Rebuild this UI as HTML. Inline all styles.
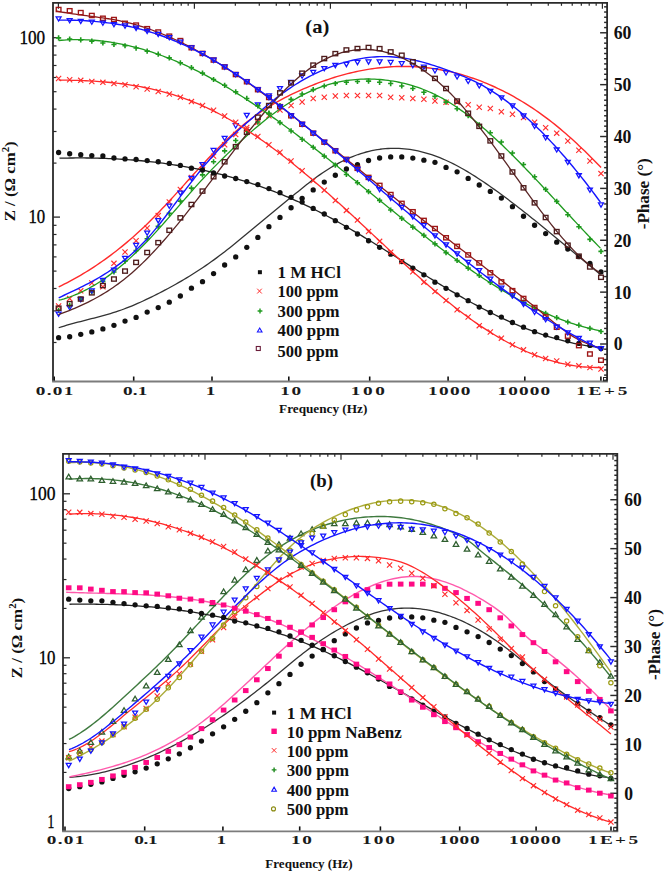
<!DOCTYPE html>
<html><head><meta charset="utf-8"><style>
html,body{margin:0;padding:0;background:#fff;width:666px;height:874px;overflow:hidden;font-family:"Liberation Serif", serif;}
</style></head><body>
<svg width="666" height="874" viewBox="0 0 666 874" style="position:absolute;left:0;top:0">
<rect width="666" height="874" fill="#fff"/>
<g font-family='"Liberation Serif", serif'>
<line x1="53" y1="217.1" x2="60" y2="217.1" stroke="#2a2a2a" stroke-width="1.3"/>
<line x1="53" y1="37.7" x2="60" y2="37.7" stroke="#2a2a2a" stroke-width="1.3"/>
<line x1="53" y1="342.5" x2="56.5" y2="342.5" stroke="#2a2a2a" stroke-width="1.2"/>
<line x1="53" y1="310.9" x2="56.5" y2="310.9" stroke="#2a2a2a" stroke-width="1.2"/>
<line x1="53" y1="288.49" x2="56.5" y2="288.49" stroke="#2a2a2a" stroke-width="1.2"/>
<line x1="53" y1="271.1" x2="56.5" y2="271.1" stroke="#2a2a2a" stroke-width="1.2"/>
<line x1="53" y1="256.9" x2="56.5" y2="256.9" stroke="#2a2a2a" stroke-width="1.2"/>
<line x1="53" y1="244.89" x2="56.5" y2="244.89" stroke="#2a2a2a" stroke-width="1.2"/>
<line x1="53" y1="234.49" x2="56.5" y2="234.49" stroke="#2a2a2a" stroke-width="1.2"/>
<line x1="53" y1="225.31" x2="56.5" y2="225.31" stroke="#2a2a2a" stroke-width="1.2"/>
<line x1="53" y1="163.1" x2="56.5" y2="163.1" stroke="#2a2a2a" stroke-width="1.2"/>
<line x1="53" y1="131.5" x2="56.5" y2="131.5" stroke="#2a2a2a" stroke-width="1.2"/>
<line x1="53" y1="109.09" x2="56.5" y2="109.09" stroke="#2a2a2a" stroke-width="1.2"/>
<line x1="53" y1="91.7" x2="56.5" y2="91.7" stroke="#2a2a2a" stroke-width="1.2"/>
<line x1="53" y1="77.5" x2="56.5" y2="77.5" stroke="#2a2a2a" stroke-width="1.2"/>
<line x1="53" y1="65.49" x2="56.5" y2="65.49" stroke="#2a2a2a" stroke-width="1.2"/>
<line x1="53" y1="55.09" x2="56.5" y2="55.09" stroke="#2a2a2a" stroke-width="1.2"/>
<line x1="53" y1="45.91" x2="56.5" y2="45.91" stroke="#2a2a2a" stroke-width="1.2"/>
<line x1="604.1" y1="380.31" x2="607.1" y2="380.31" stroke="#2a2a2a" stroke-width="1.45"/>
<line x1="604.1" y1="375.12" x2="607.1" y2="375.12" stroke="#2a2a2a" stroke-width="1.45"/>
<line x1="604.1" y1="369.94" x2="607.1" y2="369.94" stroke="#2a2a2a" stroke-width="1.45"/>
<line x1="604.1" y1="364.75" x2="607.1" y2="364.75" stroke="#2a2a2a" stroke-width="1.45"/>
<line x1="604.1" y1="359.56" x2="607.1" y2="359.56" stroke="#2a2a2a" stroke-width="1.45"/>
<line x1="604.1" y1="354.37" x2="607.1" y2="354.37" stroke="#2a2a2a" stroke-width="1.45"/>
<line x1="604.1" y1="349.19" x2="607.1" y2="349.19" stroke="#2a2a2a" stroke-width="1.45"/>
<line x1="600.1" y1="344" x2="607.1" y2="344" stroke="#2a2a2a" stroke-width="1.45"/>
<line x1="604.1" y1="338.81" x2="607.1" y2="338.81" stroke="#2a2a2a" stroke-width="1.45"/>
<line x1="604.1" y1="333.63" x2="607.1" y2="333.63" stroke="#2a2a2a" stroke-width="1.45"/>
<line x1="604.1" y1="328.44" x2="607.1" y2="328.44" stroke="#2a2a2a" stroke-width="1.45"/>
<line x1="604.1" y1="323.25" x2="607.1" y2="323.25" stroke="#2a2a2a" stroke-width="1.45"/>
<line x1="604.1" y1="318.06" x2="607.1" y2="318.06" stroke="#2a2a2a" stroke-width="1.45"/>
<line x1="604.1" y1="312.88" x2="607.1" y2="312.88" stroke="#2a2a2a" stroke-width="1.45"/>
<line x1="604.1" y1="307.69" x2="607.1" y2="307.69" stroke="#2a2a2a" stroke-width="1.45"/>
<line x1="604.1" y1="302.5" x2="607.1" y2="302.5" stroke="#2a2a2a" stroke-width="1.45"/>
<line x1="604.1" y1="297.32" x2="607.1" y2="297.32" stroke="#2a2a2a" stroke-width="1.45"/>
<line x1="600.1" y1="292.13" x2="607.1" y2="292.13" stroke="#2a2a2a" stroke-width="1.45"/>
<line x1="604.1" y1="286.94" x2="607.1" y2="286.94" stroke="#2a2a2a" stroke-width="1.45"/>
<line x1="604.1" y1="281.76" x2="607.1" y2="281.76" stroke="#2a2a2a" stroke-width="1.45"/>
<line x1="604.1" y1="276.57" x2="607.1" y2="276.57" stroke="#2a2a2a" stroke-width="1.45"/>
<line x1="604.1" y1="271.38" x2="607.1" y2="271.38" stroke="#2a2a2a" stroke-width="1.45"/>
<line x1="604.1" y1="266.19" x2="607.1" y2="266.19" stroke="#2a2a2a" stroke-width="1.45"/>
<line x1="604.1" y1="261.01" x2="607.1" y2="261.01" stroke="#2a2a2a" stroke-width="1.45"/>
<line x1="604.1" y1="255.82" x2="607.1" y2="255.82" stroke="#2a2a2a" stroke-width="1.45"/>
<line x1="604.1" y1="250.63" x2="607.1" y2="250.63" stroke="#2a2a2a" stroke-width="1.45"/>
<line x1="604.1" y1="245.45" x2="607.1" y2="245.45" stroke="#2a2a2a" stroke-width="1.45"/>
<line x1="600.1" y1="240.26" x2="607.1" y2="240.26" stroke="#2a2a2a" stroke-width="1.45"/>
<line x1="604.1" y1="235.07" x2="607.1" y2="235.07" stroke="#2a2a2a" stroke-width="1.45"/>
<line x1="604.1" y1="229.89" x2="607.1" y2="229.89" stroke="#2a2a2a" stroke-width="1.45"/>
<line x1="604.1" y1="224.7" x2="607.1" y2="224.7" stroke="#2a2a2a" stroke-width="1.45"/>
<line x1="604.1" y1="219.51" x2="607.1" y2="219.51" stroke="#2a2a2a" stroke-width="1.45"/>
<line x1="604.1" y1="214.32" x2="607.1" y2="214.32" stroke="#2a2a2a" stroke-width="1.45"/>
<line x1="604.1" y1="209.14" x2="607.1" y2="209.14" stroke="#2a2a2a" stroke-width="1.45"/>
<line x1="604.1" y1="203.95" x2="607.1" y2="203.95" stroke="#2a2a2a" stroke-width="1.45"/>
<line x1="604.1" y1="198.76" x2="607.1" y2="198.76" stroke="#2a2a2a" stroke-width="1.45"/>
<line x1="604.1" y1="193.58" x2="607.1" y2="193.58" stroke="#2a2a2a" stroke-width="1.45"/>
<line x1="600.1" y1="188.39" x2="607.1" y2="188.39" stroke="#2a2a2a" stroke-width="1.45"/>
<line x1="604.1" y1="183.2" x2="607.1" y2="183.2" stroke="#2a2a2a" stroke-width="1.45"/>
<line x1="604.1" y1="178.02" x2="607.1" y2="178.02" stroke="#2a2a2a" stroke-width="1.45"/>
<line x1="604.1" y1="172.83" x2="607.1" y2="172.83" stroke="#2a2a2a" stroke-width="1.45"/>
<line x1="604.1" y1="167.64" x2="607.1" y2="167.64" stroke="#2a2a2a" stroke-width="1.45"/>
<line x1="604.1" y1="162.45" x2="607.1" y2="162.45" stroke="#2a2a2a" stroke-width="1.45"/>
<line x1="604.1" y1="157.27" x2="607.1" y2="157.27" stroke="#2a2a2a" stroke-width="1.45"/>
<line x1="604.1" y1="152.08" x2="607.1" y2="152.08" stroke="#2a2a2a" stroke-width="1.45"/>
<line x1="604.1" y1="146.89" x2="607.1" y2="146.89" stroke="#2a2a2a" stroke-width="1.45"/>
<line x1="604.1" y1="141.71" x2="607.1" y2="141.71" stroke="#2a2a2a" stroke-width="1.45"/>
<line x1="600.1" y1="136.52" x2="607.1" y2="136.52" stroke="#2a2a2a" stroke-width="1.45"/>
<line x1="604.1" y1="131.33" x2="607.1" y2="131.33" stroke="#2a2a2a" stroke-width="1.45"/>
<line x1="604.1" y1="126.15" x2="607.1" y2="126.15" stroke="#2a2a2a" stroke-width="1.45"/>
<line x1="604.1" y1="120.96" x2="607.1" y2="120.96" stroke="#2a2a2a" stroke-width="1.45"/>
<line x1="604.1" y1="115.77" x2="607.1" y2="115.77" stroke="#2a2a2a" stroke-width="1.45"/>
<line x1="604.1" y1="110.58" x2="607.1" y2="110.58" stroke="#2a2a2a" stroke-width="1.45"/>
<line x1="604.1" y1="105.4" x2="607.1" y2="105.4" stroke="#2a2a2a" stroke-width="1.45"/>
<line x1="604.1" y1="100.21" x2="607.1" y2="100.21" stroke="#2a2a2a" stroke-width="1.45"/>
<line x1="604.1" y1="95.02" x2="607.1" y2="95.02" stroke="#2a2a2a" stroke-width="1.45"/>
<line x1="604.1" y1="89.84" x2="607.1" y2="89.84" stroke="#2a2a2a" stroke-width="1.45"/>
<line x1="600.1" y1="84.65" x2="607.1" y2="84.65" stroke="#2a2a2a" stroke-width="1.45"/>
<line x1="604.1" y1="79.46" x2="607.1" y2="79.46" stroke="#2a2a2a" stroke-width="1.45"/>
<line x1="604.1" y1="74.28" x2="607.1" y2="74.28" stroke="#2a2a2a" stroke-width="1.45"/>
<line x1="604.1" y1="69.09" x2="607.1" y2="69.09" stroke="#2a2a2a" stroke-width="1.45"/>
<line x1="604.1" y1="63.9" x2="607.1" y2="63.9" stroke="#2a2a2a" stroke-width="1.45"/>
<line x1="604.1" y1="58.71" x2="607.1" y2="58.71" stroke="#2a2a2a" stroke-width="1.45"/>
<line x1="604.1" y1="53.53" x2="607.1" y2="53.53" stroke="#2a2a2a" stroke-width="1.45"/>
<line x1="604.1" y1="48.34" x2="607.1" y2="48.34" stroke="#2a2a2a" stroke-width="1.45"/>
<line x1="604.1" y1="43.15" x2="607.1" y2="43.15" stroke="#2a2a2a" stroke-width="1.45"/>
<line x1="604.1" y1="37.97" x2="607.1" y2="37.97" stroke="#2a2a2a" stroke-width="1.45"/>
<line x1="600.1" y1="32.78" x2="607.1" y2="32.78" stroke="#2a2a2a" stroke-width="1.45"/>
<line x1="604.1" y1="27.59" x2="607.1" y2="27.59" stroke="#2a2a2a" stroke-width="1.45"/>
<line x1="604.1" y1="22.41" x2="607.1" y2="22.41" stroke="#2a2a2a" stroke-width="1.45"/>
<line x1="604.1" y1="17.22" x2="607.1" y2="17.22" stroke="#2a2a2a" stroke-width="1.45"/>
<line x1="604.1" y1="12.03" x2="607.1" y2="12.03" stroke="#2a2a2a" stroke-width="1.45"/>
<line x1="604.1" y1="6.84" x2="607.1" y2="6.84" stroke="#2a2a2a" stroke-width="1.45"/>
<line x1="54.2" y1="381" x2="54.2" y2="376.5" stroke="#111" stroke-width="1.6"/>
<line x1="133.7" y1="381" x2="133.7" y2="376.5" stroke="#111" stroke-width="1.6"/>
<line x1="212" y1="381" x2="212" y2="376.5" stroke="#111" stroke-width="1.6"/>
<line x1="288.8" y1="381" x2="288.8" y2="376.5" stroke="#111" stroke-width="1.6"/>
<line x1="369.7" y1="381" x2="369.7" y2="376.5" stroke="#111" stroke-width="1.6"/>
<line x1="448.1" y1="381" x2="448.1" y2="376.5" stroke="#111" stroke-width="1.6"/>
<line x1="524.8" y1="381" x2="524.8" y2="376.5" stroke="#111" stroke-width="1.6"/>
<line x1="600.9" y1="381" x2="600.9" y2="376.5" stroke="#111" stroke-width="1.6"/>
<line x1="58.4" y1="2.8" x2="58.4" y2="8.8" stroke="#2a2a2a" stroke-width="1.2"/>
<line x1="99.34" y1="2.8" x2="99.34" y2="5.8" stroke="#2a2a2a" stroke-width="1.2"/>
<line x1="123.29" y1="2.8" x2="123.29" y2="5.8" stroke="#2a2a2a" stroke-width="1.2"/>
<line x1="140.28" y1="2.8" x2="140.28" y2="5.8" stroke="#2a2a2a" stroke-width="1.2"/>
<line x1="153.46" y1="2.8" x2="153.46" y2="5.8" stroke="#2a2a2a" stroke-width="1.2"/>
<line x1="164.23" y1="2.8" x2="164.23" y2="5.8" stroke="#2a2a2a" stroke-width="1.2"/>
<line x1="173.33" y1="2.8" x2="173.33" y2="5.8" stroke="#2a2a2a" stroke-width="1.2"/>
<line x1="181.22" y1="2.8" x2="181.22" y2="5.8" stroke="#2a2a2a" stroke-width="1.2"/>
<line x1="188.18" y1="2.8" x2="188.18" y2="5.8" stroke="#2a2a2a" stroke-width="1.2"/>
<line x1="194.4" y1="2.8" x2="194.4" y2="8.8" stroke="#2a2a2a" stroke-width="1.2"/>
<line x1="235.34" y1="2.8" x2="235.34" y2="5.8" stroke="#2a2a2a" stroke-width="1.2"/>
<line x1="259.29" y1="2.8" x2="259.29" y2="5.8" stroke="#2a2a2a" stroke-width="1.2"/>
<line x1="276.28" y1="2.8" x2="276.28" y2="5.8" stroke="#2a2a2a" stroke-width="1.2"/>
<line x1="289.46" y1="2.8" x2="289.46" y2="5.8" stroke="#2a2a2a" stroke-width="1.2"/>
<line x1="300.23" y1="2.8" x2="300.23" y2="5.8" stroke="#2a2a2a" stroke-width="1.2"/>
<line x1="309.33" y1="2.8" x2="309.33" y2="5.8" stroke="#2a2a2a" stroke-width="1.2"/>
<line x1="317.22" y1="2.8" x2="317.22" y2="5.8" stroke="#2a2a2a" stroke-width="1.2"/>
<line x1="324.18" y1="2.8" x2="324.18" y2="5.8" stroke="#2a2a2a" stroke-width="1.2"/>
<line x1="330.4" y1="2.8" x2="330.4" y2="8.8" stroke="#2a2a2a" stroke-width="1.2"/>
<line x1="371.34" y1="2.8" x2="371.34" y2="5.8" stroke="#2a2a2a" stroke-width="1.2"/>
<line x1="395.29" y1="2.8" x2="395.29" y2="5.8" stroke="#2a2a2a" stroke-width="1.2"/>
<line x1="412.28" y1="2.8" x2="412.28" y2="5.8" stroke="#2a2a2a" stroke-width="1.2"/>
<line x1="425.46" y1="2.8" x2="425.46" y2="5.8" stroke="#2a2a2a" stroke-width="1.2"/>
<line x1="436.23" y1="2.8" x2="436.23" y2="5.8" stroke="#2a2a2a" stroke-width="1.2"/>
<line x1="445.33" y1="2.8" x2="445.33" y2="5.8" stroke="#2a2a2a" stroke-width="1.2"/>
<line x1="453.22" y1="2.8" x2="453.22" y2="5.8" stroke="#2a2a2a" stroke-width="1.2"/>
<line x1="460.18" y1="2.8" x2="460.18" y2="5.8" stroke="#2a2a2a" stroke-width="1.2"/>
<line x1="466.4" y1="2.8" x2="466.4" y2="8.8" stroke="#2a2a2a" stroke-width="1.2"/>
<line x1="507.34" y1="2.8" x2="507.34" y2="5.8" stroke="#2a2a2a" stroke-width="1.2"/>
<line x1="531.29" y1="2.8" x2="531.29" y2="5.8" stroke="#2a2a2a" stroke-width="1.2"/>
<line x1="548.28" y1="2.8" x2="548.28" y2="5.8" stroke="#2a2a2a" stroke-width="1.2"/>
<line x1="561.46" y1="2.8" x2="561.46" y2="5.8" stroke="#2a2a2a" stroke-width="1.2"/>
<line x1="572.23" y1="2.8" x2="572.23" y2="5.8" stroke="#2a2a2a" stroke-width="1.2"/>
<line x1="581.33" y1="2.8" x2="581.33" y2="5.8" stroke="#2a2a2a" stroke-width="1.2"/>
<line x1="589.22" y1="2.8" x2="589.22" y2="5.8" stroke="#2a2a2a" stroke-width="1.2"/>
<line x1="596.18" y1="2.8" x2="596.18" y2="5.8" stroke="#2a2a2a" stroke-width="1.2"/>
<line x1="602.4" y1="2.8" x2="602.4" y2="8.8" stroke="#2a2a2a" stroke-width="1.2"/>
<path d="M53,381.5 L53,2.8 L607.1,2.8 L607.1,381.5" fill="none" stroke="#2a2a2a" stroke-width="1.8"/>
<line x1="52.1" y1="381.5" x2="608" y2="381.5" stroke="#7c7c7c" stroke-width="1.8"/>
<rect x="603.5" y="377.5" width="3.4" height="3.4" fill="none" stroke="#222" stroke-width="1"/>
<path d="M58.7,327.75 L61.42,326.87 L64.14,326.03 L66.87,325.23 L69.59,324.44 L72.31,323.68 L75.03,322.95 L77.75,322.22 L80.48,321.51 L83.2,320.81 L85.92,320.11 L88.64,319.42 L91.37,318.73 L94.09,318.03 L96.81,317.32 L99.53,316.6 L102.25,315.86 L104.98,315.11 L107.7,314.33 L110.42,313.53 L113.14,312.7 L115.86,311.84 L118.59,310.94 L121.31,310 L124.03,309.01 L126.75,307.98 L129.47,306.91 L132.2,305.79 L134.92,304.64 L137.64,303.44 L140.36,302.22 L143.09,300.97 L145.81,299.69 L148.53,298.38 L151.25,297.06 L153.97,295.72 L156.7,294.36 L159.42,292.98 L162.14,291.57 L164.86,290.15 L167.58,288.7 L170.31,287.23 L173.03,285.74 L175.75,284.22 L178.47,282.67 L181.19,281.1 L183.92,279.5 L186.64,277.87 L189.36,276.21 L192.08,274.52 L194.81,272.81 L197.53,271.06 L200.25,269.27 L202.97,267.46 L205.69,265.61 L208.42,263.73 L211.14,261.81 L213.86,259.86 L216.58,257.86 L219.3,255.84 L222.03,253.77 L224.75,251.68 L227.47,249.56 L230.19,247.41 L232.92,245.23 L235.64,243.04 L238.36,240.82 L241.08,238.59 L243.8,236.35 L246.53,234.1 L249.25,231.84 L251.97,229.57 L254.69,227.3 L257.41,225.03 L260.14,222.76 L262.86,220.5 L265.58,218.24 L268.3,215.99 L271.02,213.74 L273.75,211.49 L276.47,209.25 L279.19,207.01 L281.91,204.77 L284.64,202.54 L287.36,200.3 L290.08,198.07 L292.8,195.84 L295.52,193.61 L298.25,191.39 L300.97,189.18 L303.69,186.99 L306.41,184.83 L309.13,182.7 L311.86,180.61 L314.58,178.56 L317.3,176.57 L320.02,174.62 L322.74,172.74 L325.47,170.93 L328.19,169.18 L330.91,167.5 L333.63,165.89 L336.36,164.35 L339.08,162.87 L341.8,161.47 L344.52,160.13 L347.24,158.87 L349.97,157.67 L352.69,156.55 L355.41,155.49 L358.13,154.51 L360.85,153.6 L363.58,152.76 L366.3,152 L369.02,151.3 L371.74,150.69 L374.46,150.14 L377.19,149.67 L379.91,149.27 L382.63,148.94 L385.35,148.68 L388.08,148.49 L390.8,148.38 L393.52,148.33 L396.24,148.35 L398.96,148.44 L401.69,148.6 L404.41,148.83 L407.13,149.12 L409.85,149.48 L412.57,149.91 L415.3,150.4 L418.02,150.96 L420.74,151.58 L423.46,152.27 L426.18,153.02 L428.91,153.83 L431.63,154.7 L434.35,155.64 L437.07,156.64 L439.8,157.7 L442.52,158.82 L445.24,160 L447.96,161.23 L450.68,162.53 L453.41,163.88 L456.13,165.28 L458.85,166.74 L461.57,168.24 L464.29,169.79 L467.02,171.39 L469.74,173.03 L472.46,174.71 L475.18,176.42 L477.91,178.18 L480.63,179.97 L483.35,181.79 L486.07,183.64 L488.79,185.52 L491.52,187.43 L494.24,189.36 L496.96,191.32 L499.68,193.3 L502.4,195.29 L505.13,197.31 L507.85,199.35 L510.57,201.4 L513.29,203.48 L516.01,205.57 L518.74,207.67 L521.46,209.79 L524.18,211.93 L526.9,214.08 L529.63,216.24 L532.35,218.42 L535.07,220.6 L537.79,222.8 L540.51,225 L543.24,227.22 L545.96,229.44 L548.68,231.67 L551.4,233.91 L554.12,236.15 L556.85,238.4 L559.57,240.66 L562.29,242.91 L565.01,245.17 L567.73,247.43 L570.46,249.69 L573.18,251.96 L575.9,254.22 L578.62,256.48 L581.35,258.74 L584.07,261 L586.79,263.25 L589.51,265.5 L592.23,267.74 L594.96,269.98 L597.68,272.21 L600.4,274.43" fill="none" stroke="#333" stroke-width="1.3" stroke-linejoin="round" />
<circle cx="58.6" cy="337.7" r="2.65" fill="#111"/>
<circle cx="69.67" cy="336.73" r="2.65" fill="#111"/>
<circle cx="80.74" cy="334.3" r="2.65" fill="#111"/>
<circle cx="91.81" cy="331.93" r="2.65" fill="#111"/>
<circle cx="102.88" cy="328.97" r="2.65" fill="#111"/>
<circle cx="113.95" cy="325.32" r="2.65" fill="#111"/>
<circle cx="125.02" cy="321.11" r="2.65" fill="#111"/>
<circle cx="136.09" cy="317.44" r="2.65" fill="#111"/>
<circle cx="147.16" cy="312.07" r="2.65" fill="#111"/>
<circle cx="158.22" cy="307.57" r="2.65" fill="#111"/>
<circle cx="169.29" cy="302.2" r="2.65" fill="#111"/>
<circle cx="180.36" cy="295.99" r="2.65" fill="#111"/>
<circle cx="191.43" cy="288.22" r="2.65" fill="#111"/>
<circle cx="202.5" cy="281.7" r="2.65" fill="#111"/>
<circle cx="213.57" cy="273.59" r="2.65" fill="#111"/>
<circle cx="224.64" cy="264.98" r="2.65" fill="#111"/>
<circle cx="235.71" cy="256.95" r="2.65" fill="#111"/>
<circle cx="246.78" cy="247.34" r="2.65" fill="#111"/>
<circle cx="257.85" cy="237.47" r="2.65" fill="#111"/>
<circle cx="268.92" cy="226.68" r="2.65" fill="#111"/>
<circle cx="279.99" cy="217.46" r="2.65" fill="#111"/>
<circle cx="291.06" cy="207.75" r="2.65" fill="#111"/>
<circle cx="302.13" cy="198.29" r="2.65" fill="#111"/>
<circle cx="313.2" cy="189.95" r="2.65" fill="#111"/>
<circle cx="324.27" cy="182.11" r="2.65" fill="#111"/>
<circle cx="335.33" cy="175.25" r="2.65" fill="#111"/>
<circle cx="346.4" cy="168.99" r="2.65" fill="#111"/>
<circle cx="357.47" cy="164.53" r="2.65" fill="#111"/>
<circle cx="368.54" cy="160.49" r="2.65" fill="#111"/>
<circle cx="379.61" cy="157.99" r="2.65" fill="#111"/>
<circle cx="390.68" cy="156.95" r="2.65" fill="#111"/>
<circle cx="401.75" cy="156.9" r="2.65" fill="#111"/>
<circle cx="412.82" cy="158.11" r="2.65" fill="#111"/>
<circle cx="423.89" cy="160.22" r="2.65" fill="#111"/>
<circle cx="434.96" cy="162.34" r="2.65" fill="#111"/>
<circle cx="446.03" cy="167.41" r="2.65" fill="#111"/>
<circle cx="457.1" cy="171.86" r="2.65" fill="#111"/>
<circle cx="468.17" cy="178.4" r="2.65" fill="#111"/>
<circle cx="479.24" cy="185.02" r="2.65" fill="#111"/>
<circle cx="490.31" cy="191.46" r="2.65" fill="#111"/>
<circle cx="501.38" cy="198.07" r="2.65" fill="#111"/>
<circle cx="512.44" cy="206.63" r="2.65" fill="#111"/>
<circle cx="523.51" cy="216.27" r="2.65" fill="#111"/>
<circle cx="534.58" cy="225.26" r="2.65" fill="#111"/>
<circle cx="545.65" cy="233.6" r="2.65" fill="#111"/>
<circle cx="556.72" cy="242.14" r="2.65" fill="#111"/>
<circle cx="567.79" cy="249.09" r="2.65" fill="#111"/>
<circle cx="578.86" cy="256.7" r="2.65" fill="#111"/>
<circle cx="589.93" cy="263.34" r="2.65" fill="#111"/>
<circle cx="601" cy="271.9" r="2.65" fill="#111"/>
<path d="M58.7,286.89 L61.43,285.56 L64.15,284.2 L66.88,282.8 L69.6,281.36 L72.33,279.89 L75.05,278.39 L77.78,276.84 L80.51,275.27 L83.23,273.65 L85.96,272 L88.68,270.3 L91.41,268.57 L94.13,266.81 L96.86,265 L99.58,263.15 L102.31,261.26 L105.04,259.33 L107.76,257.36 L110.49,255.34 L113.21,253.29 L115.94,251.19 L118.66,249.05 L121.39,246.86 L124.12,244.63 L126.84,242.36 L129.57,240.04 L132.29,237.67 L135.02,235.26 L137.74,232.8 L140.47,230.3 L143.19,227.75 L145.92,225.14 L148.65,222.5 L151.37,219.8 L154.1,217.05 L156.82,214.27 L159.55,211.44 L162.27,208.58 L165,205.68 L167.73,202.76 L170.45,199.82 L173.18,196.85 L175.9,193.87 L178.63,190.87 L181.35,187.86 L184.08,184.85 L186.8,181.84 L189.53,178.83 L192.26,175.83 L194.98,172.83 L197.71,169.85 L200.43,166.88 L203.16,163.93 L205.88,161 L208.61,158.1 L211.34,155.23 L214.06,152.4 L216.79,149.6 L219.51,146.84 L222.24,144.12 L224.96,141.45 L227.69,138.83 L230.41,136.26 L233.14,133.75 L235.87,131.3 L238.59,128.92 L241.32,126.6 L244.04,124.35 L246.77,122.17 L249.49,120.06 L252.22,118.01 L254.95,116.02 L257.67,114.09 L260.4,112.22 L263.12,110.41 L265.85,108.65 L268.57,106.95 L271.3,105.3 L274.02,103.69 L276.75,102.13 L279.48,100.62 L282.2,99.15 L284.93,97.72 L287.65,96.33 L290.38,94.98 L293.1,93.66 L295.83,92.38 L298.56,91.13 L301.28,89.91 L304.01,88.71 L306.73,87.55 L309.46,86.41 L312.18,85.31 L314.91,84.23 L317.63,83.18 L320.36,82.16 L323.09,81.18 L325.81,80.22 L328.54,79.29 L331.26,78.4 L333.99,77.53 L336.71,76.7 L339.44,75.89 L342.17,75.12 L344.89,74.38 L347.62,73.67 L350.34,72.99 L353.07,72.35 L355.79,71.74 L358.52,71.15 L361.24,70.61 L363.97,70.09 L366.7,69.61 L369.42,69.16 L372.15,68.75 L374.87,68.37 L377.6,68.02 L380.32,67.71 L383.05,67.43 L385.78,67.18 L388.5,66.97 L391.23,66.8 L393.95,66.65 L396.68,66.55 L399.4,66.48 L402.13,66.44 L404.85,66.44 L407.58,66.47 L410.31,66.54 L413.03,66.65 L415.76,66.79 L418.48,66.97 L421.21,67.18 L423.93,67.43 L426.66,67.72 L429.39,68.04 L432.11,68.4 L434.84,68.79 L437.56,69.22 L440.29,69.69 L443.01,70.2 L445.74,70.74 L448.46,71.32 L451.19,71.93 L453.92,72.59 L456.64,73.28 L459.37,74.01 L462.09,74.78 L464.82,75.58 L467.54,76.43 L470.27,77.31 L473,78.23 L475.72,79.19 L478.45,80.19 L481.17,81.22 L483.9,82.3 L486.62,83.41 L489.35,84.56 L492.07,85.76 L494.8,86.99 L497.53,88.26 L500.25,89.57 L502.98,90.92 L505.7,92.31 L508.43,93.74 L511.15,95.21 L513.88,96.72 L516.61,98.27 L519.33,99.87 L522.06,101.5 L524.78,103.17 L527.51,104.89 L530.23,106.64 L532.96,108.44 L535.68,110.28 L538.41,112.17 L541.14,114.1 L543.86,116.07 L546.59,118.09 L549.31,120.16 L552.04,122.27 L554.76,124.42 L557.49,126.63 L560.22,128.88 L562.94,131.17 L565.67,133.52 L568.39,135.91 L571.12,138.34 L573.84,140.82 L576.57,143.33 L579.29,145.89 L582.02,148.48 L584.75,151.12 L587.47,153.78 L590.2,156.48 L592.92,159.21 L595.65,161.98 L598.37,164.77 L601.1,167.59" fill="none" stroke="#ff2a2a" stroke-width="1.4" stroke-linejoin="round" />
<path d="M56,303.4 L61.2,308.6 M56,308.6 L61.2,303.4" stroke="#ff2a2a" stroke-width="1.1" fill="none"/>
<path d="M67.07,296.01 L72.27,301.21 M67.07,301.21 L72.27,296.01" stroke="#ff2a2a" stroke-width="1.1" fill="none"/>
<path d="M78.14,288.25 L83.34,293.45 M78.14,293.45 L83.34,288.25" stroke="#ff2a2a" stroke-width="1.1" fill="none"/>
<path d="M89.21,280.37 L94.41,285.57 M89.21,285.57 L94.41,280.37" stroke="#ff2a2a" stroke-width="1.1" fill="none"/>
<path d="M100.28,284.2 L105.48,289.4 M100.28,289.4 L105.48,284.2" stroke="#ff2a2a" stroke-width="1.1" fill="none"/>
<path d="M111.35,260.74 L116.55,265.94 M111.35,265.94 L116.55,260.74" stroke="#ff2a2a" stroke-width="1.1" fill="none"/>
<path d="M122.42,249.48 L127.62,254.68 M122.42,254.68 L127.62,249.48" stroke="#ff2a2a" stroke-width="1.1" fill="none"/>
<path d="M133.49,238.22 L138.69,243.42 M133.49,243.42 L138.69,238.22" stroke="#ff2a2a" stroke-width="1.1" fill="none"/>
<path d="M144.56,225.39 L149.76,230.59 M144.56,230.59 L149.76,225.39" stroke="#ff2a2a" stroke-width="1.1" fill="none"/>
<path d="M155.62,213 L160.82,218.2 M155.62,218.2 L160.82,213" stroke="#ff2a2a" stroke-width="1.1" fill="none"/>
<path d="M166.69,199.48 L171.89,204.68 M166.69,204.68 L171.89,199.48" stroke="#ff2a2a" stroke-width="1.1" fill="none"/>
<path d="M177.76,186.84 L182.96,192.04 M177.76,192.04 L182.96,186.84" stroke="#ff2a2a" stroke-width="1.1" fill="none"/>
<path d="M188.83,174.98 L194.03,180.18 M188.83,180.18 L194.03,174.98" stroke="#ff2a2a" stroke-width="1.1" fill="none"/>
<path d="M199.9,162.9 L205.1,168.1 M199.9,168.1 L205.1,162.9" stroke="#ff2a2a" stroke-width="1.1" fill="none"/>
<path d="M210.97,153.52 L216.17,158.72 M210.97,158.72 L216.17,153.52" stroke="#ff2a2a" stroke-width="1.1" fill="none"/>
<path d="M222.04,142.18 L227.24,147.38 M222.04,147.38 L227.24,142.18" stroke="#ff2a2a" stroke-width="1.1" fill="none"/>
<path d="M233.11,131.93 L238.31,137.13 M233.11,137.13 L238.31,131.93" stroke="#ff2a2a" stroke-width="1.1" fill="none"/>
<path d="M244.18,124.98 L249.38,130.18 M244.18,130.18 L249.38,124.98" stroke="#ff2a2a" stroke-width="1.1" fill="none"/>
<path d="M255.25,119.72 L260.45,124.92 M255.25,124.92 L260.45,119.72" stroke="#ff2a2a" stroke-width="1.1" fill="none"/>
<path d="M266.32,113.23 L271.52,118.43 M266.32,118.43 L271.52,113.23" stroke="#ff2a2a" stroke-width="1.1" fill="none"/>
<path d="M277.39,107.42 L282.59,112.62 M277.39,112.62 L282.59,107.42" stroke="#ff2a2a" stroke-width="1.1" fill="none"/>
<path d="M288.46,102.96 L293.66,108.16 M288.46,108.16 L293.66,102.96" stroke="#ff2a2a" stroke-width="1.1" fill="none"/>
<path d="M299.53,99.46 L304.73,104.66 M299.53,104.66 L304.73,99.46" stroke="#ff2a2a" stroke-width="1.1" fill="none"/>
<path d="M310.6,95.87 L315.8,101.07 M310.6,101.07 L315.8,95.87" stroke="#ff2a2a" stroke-width="1.1" fill="none"/>
<path d="M321.67,94.59 L326.87,99.79 M321.67,99.79 L326.87,94.59" stroke="#ff2a2a" stroke-width="1.1" fill="none"/>
<path d="M332.73,93.41 L337.93,98.61 M332.73,98.61 L337.93,93.41" stroke="#ff2a2a" stroke-width="1.1" fill="none"/>
<path d="M343.8,92.91 L349,98.11 M343.8,98.11 L349,92.91" stroke="#ff2a2a" stroke-width="1.1" fill="none"/>
<path d="M354.87,92.9 L360.07,98.1 M354.87,98.1 L360.07,92.9" stroke="#ff2a2a" stroke-width="1.1" fill="none"/>
<path d="M365.94,92.9 L371.14,98.1 M365.94,98.1 L371.14,92.9" stroke="#ff2a2a" stroke-width="1.1" fill="none"/>
<path d="M377.01,92.92 L382.21,98.12 M377.01,98.12 L382.21,92.92" stroke="#ff2a2a" stroke-width="1.1" fill="none"/>
<path d="M388.08,94.61 L393.28,99.81 M388.08,99.81 L393.28,94.61" stroke="#ff2a2a" stroke-width="1.1" fill="none"/>
<path d="M399.15,95.09 L404.35,100.29 M399.15,100.29 L404.35,95.09" stroke="#ff2a2a" stroke-width="1.1" fill="none"/>
<path d="M410.22,95.89 L415.42,101.09 M410.22,101.09 L415.42,95.89" stroke="#ff2a2a" stroke-width="1.1" fill="none"/>
<path d="M421.29,96.65 L426.49,101.85 M421.29,101.85 L426.49,96.65" stroke="#ff2a2a" stroke-width="1.1" fill="none"/>
<path d="M432.36,98.38 L437.56,103.58 M432.36,103.58 L437.56,98.38" stroke="#ff2a2a" stroke-width="1.1" fill="none"/>
<path d="M443.43,99.6 L448.63,104.8 M443.43,104.8 L448.63,99.6" stroke="#ff2a2a" stroke-width="1.1" fill="none"/>
<path d="M454.5,99.73 L459.7,104.93 M454.5,104.93 L459.7,99.73" stroke="#ff2a2a" stroke-width="1.1" fill="none"/>
<path d="M465.57,102.2 L470.77,107.4 M465.57,107.4 L470.77,102.2" stroke="#ff2a2a" stroke-width="1.1" fill="none"/>
<path d="M476.64,104.64 L481.84,109.84 M476.64,109.84 L481.84,104.64" stroke="#ff2a2a" stroke-width="1.1" fill="none"/>
<path d="M487.71,105.86 L492.91,111.06 M487.71,111.06 L492.91,105.86" stroke="#ff2a2a" stroke-width="1.1" fill="none"/>
<path d="M498.78,109.09 L503.98,114.29 M498.78,114.29 L503.98,109.09" stroke="#ff2a2a" stroke-width="1.1" fill="none"/>
<path d="M509.84,111.57 L515.04,116.77 M509.84,116.77 L515.04,111.57" stroke="#ff2a2a" stroke-width="1.1" fill="none"/>
<path d="M520.91,114.89 L526.11,120.09 M520.91,120.09 L526.11,114.89" stroke="#ff2a2a" stroke-width="1.1" fill="none"/>
<path d="M531.98,119.59 L537.18,124.79 M531.98,124.79 L537.18,119.59" stroke="#ff2a2a" stroke-width="1.1" fill="none"/>
<path d="M543.05,125.12 L548.25,130.32 M543.05,130.32 L548.25,125.12" stroke="#ff2a2a" stroke-width="1.1" fill="none"/>
<path d="M554.12,130.56 L559.32,135.76 M554.12,135.76 L559.32,130.56" stroke="#ff2a2a" stroke-width="1.1" fill="none"/>
<path d="M565.19,138.39 L570.39,143.59 M565.19,143.59 L570.39,138.39" stroke="#ff2a2a" stroke-width="1.1" fill="none"/>
<path d="M576.26,147.63 L581.46,152.83 M576.26,152.83 L581.46,147.63" stroke="#ff2a2a" stroke-width="1.1" fill="none"/>
<path d="M587.33,158.44 L592.53,163.64 M587.33,163.64 L592.53,158.44" stroke="#ff2a2a" stroke-width="1.1" fill="none"/>
<path d="M598.4,171 L603.6,176.2 M598.4,176.2 L603.6,171" stroke="#ff2a2a" stroke-width="1.1" fill="none"/>
<path d="M58.7,300.19 L61.42,299.51 L64.14,298.76 L66.87,297.92 L69.59,297.01 L72.31,296.01 L75.03,294.94 L77.75,293.79 L80.48,292.57 L83.2,291.27 L85.92,289.9 L88.64,288.46 L91.37,286.94 L94.09,285.35 L96.81,283.69 L99.53,281.97 L102.25,280.17 L104.98,278.31 L107.7,276.38 L110.42,274.38 L113.14,272.32 L115.86,270.19 L118.59,268 L121.31,265.75 L124.03,263.43 L126.75,261.06 L129.47,258.62 L132.2,256.13 L134.92,253.58 L137.64,250.97 L140.36,248.3 L143.09,245.58 L145.81,242.8 L148.53,239.97 L151.25,237.09 L153.97,234.15 L156.7,231.18 L159.42,228.16 L162.14,225.11 L164.86,222.03 L167.58,218.92 L170.31,215.8 L173.03,212.66 L175.75,209.52 L178.47,206.37 L181.19,203.22 L183.92,200.08 L186.64,196.95 L189.36,193.84 L192.08,190.75 L194.81,187.69 L197.53,184.67 L200.25,181.67 L202.97,178.73 L205.69,175.82 L208.42,172.97 L211.14,170.15 L213.86,167.36 L216.58,164.61 L219.3,161.88 L222.03,159.18 L224.75,156.5 L227.47,153.84 L230.19,151.2 L232.92,148.59 L235.64,146 L238.36,143.44 L241.08,140.91 L243.8,138.41 L246.53,135.95 L249.25,133.51 L251.97,131.12 L254.69,128.76 L257.41,126.43 L260.14,124.15 L262.86,121.92 L265.58,119.72 L268.3,117.57 L271.02,115.47 L273.75,113.42 L276.47,111.42 L279.19,109.47 L281.91,107.57 L284.64,105.73 L287.36,103.94 L290.08,102.22 L292.8,100.55 L295.52,98.95 L298.25,97.41 L300.97,95.94 L303.69,94.53 L306.41,93.18 L309.13,91.91 L311.86,90.69 L314.58,89.54 L317.3,88.46 L320.02,87.43 L322.74,86.47 L325.47,85.57 L328.19,84.73 L330.91,83.94 L333.63,83.22 L336.36,82.56 L339.08,81.96 L341.8,81.41 L344.52,80.92 L347.24,80.49 L349.97,80.11 L352.69,79.79 L355.41,79.53 L358.13,79.31 L360.85,79.16 L363.58,79.05 L366.3,79 L369.02,79 L371.74,79.05 L374.46,79.15 L377.19,79.3 L379.91,79.5 L382.63,79.75 L385.35,80.05 L388.08,80.4 L390.8,80.79 L393.52,81.23 L396.24,81.72 L398.96,82.25 L401.69,82.84 L404.41,83.48 L407.13,84.17 L409.85,84.92 L412.57,85.72 L415.3,86.57 L418.02,87.49 L420.74,88.46 L423.46,89.49 L426.18,90.58 L428.91,91.73 L431.63,92.94 L434.35,94.22 L437.07,95.56 L439.8,96.96 L442.52,98.44 L445.24,99.98 L447.96,101.59 L450.68,103.26 L453.41,105 L456.13,106.81 L458.85,108.67 L461.57,110.6 L464.29,112.58 L467.02,114.61 L469.74,116.7 L472.46,118.85 L475.18,121.04 L477.91,123.28 L480.63,125.57 L483.35,127.9 L486.07,130.28 L488.79,132.7 L491.52,135.16 L494.24,137.65 L496.96,140.18 L499.68,142.75 L502.4,145.34 L505.13,147.97 L507.85,150.63 L510.57,153.31 L513.29,156.03 L516.01,158.77 L518.74,161.53 L521.46,164.31 L524.18,167.12 L526.9,169.94 L529.63,172.78 L532.35,175.64 L535.07,178.52 L537.79,181.4 L540.51,184.3 L543.24,187.21 L545.96,190.13 L548.68,193.06 L551.4,195.99 L554.12,198.93 L556.85,201.87 L559.57,204.81 L562.29,207.75 L565.01,210.69 L567.73,213.63 L570.46,216.56 L573.18,219.49 L575.9,222.41 L578.62,225.33 L581.35,228.23 L584.07,231.12 L586.79,234 L589.51,236.86 L592.23,239.71 L594.96,242.54 L597.68,245.35 L600.4,248.14" fill="none" stroke="#1f9a1f" stroke-width="1.3" stroke-linejoin="round" />
<path d="M56,310.24 L61.2,310.24 M58.6,307.64 L58.6,312.84" stroke="#1f9a1f" stroke-width="1.6" fill="none"/>
<path d="M67.07,305.35 L72.27,305.35 M69.67,302.75 L69.67,307.95" stroke="#1f9a1f" stroke-width="1.6" fill="none"/>
<path d="M78.14,298.98 L83.34,298.98 M80.74,296.38 L80.74,301.58" stroke="#1f9a1f" stroke-width="1.6" fill="none"/>
<path d="M89.21,291.9 L94.41,291.9 M91.81,289.3 L91.81,294.5" stroke="#1f9a1f" stroke-width="1.6" fill="none"/>
<path d="M100.28,281.42 L105.48,281.42 M102.88,278.82 L102.88,284.02" stroke="#1f9a1f" stroke-width="1.6" fill="none"/>
<path d="M111.35,271.97 L116.55,271.97 M113.95,269.37 L113.95,274.57" stroke="#1f9a1f" stroke-width="1.6" fill="none"/>
<path d="M122.42,261.13 L127.62,261.13 M125.02,258.53 L125.02,263.73" stroke="#1f9a1f" stroke-width="1.6" fill="none"/>
<path d="M133.49,250.57 L138.69,250.57 M136.09,247.97 L136.09,253.17" stroke="#1f9a1f" stroke-width="1.6" fill="none"/>
<path d="M144.56,238.7 L149.76,238.7 M147.16,236.1 L147.16,241.3" stroke="#1f9a1f" stroke-width="1.6" fill="none"/>
<path d="M155.62,226.42 L160.82,226.42 M158.22,223.82 L158.22,229.02" stroke="#1f9a1f" stroke-width="1.6" fill="none"/>
<path d="M166.69,213.39 L171.89,213.39 M169.29,210.79 L169.29,215.99" stroke="#1f9a1f" stroke-width="1.6" fill="none"/>
<path d="M177.76,201.14 L182.96,201.14 M180.36,198.54 L180.36,203.74" stroke="#1f9a1f" stroke-width="1.6" fill="none"/>
<path d="M188.83,188.1 L194.03,188.1 M191.43,185.5 L191.43,190.7" stroke="#1f9a1f" stroke-width="1.6" fill="none"/>
<path d="M199.9,174.9 L205.1,174.9 M202.5,172.3 L202.5,177.5" stroke="#1f9a1f" stroke-width="1.6" fill="none"/>
<path d="M210.97,161.74 L216.17,161.74 M213.57,159.14 L213.57,164.34" stroke="#1f9a1f" stroke-width="1.6" fill="none"/>
<path d="M222.04,150.87 L227.24,150.87 M224.64,148.27 L224.64,153.47" stroke="#1f9a1f" stroke-width="1.6" fill="none"/>
<path d="M233.11,140.54 L238.31,140.54 M235.71,137.94 L235.71,143.14" stroke="#1f9a1f" stroke-width="1.6" fill="none"/>
<path d="M244.18,131.1 L249.38,131.1 M246.78,128.5 L246.78,133.7" stroke="#1f9a1f" stroke-width="1.6" fill="none"/>
<path d="M255.25,122.04 L260.45,122.04 M257.85,119.44 L257.85,124.64" stroke="#1f9a1f" stroke-width="1.6" fill="none"/>
<path d="M266.32,113.18 L271.52,113.18 M268.92,110.58 L268.92,115.78" stroke="#1f9a1f" stroke-width="1.6" fill="none"/>
<path d="M277.39,105.61 L282.59,105.61 M279.99,103.01 L279.99,108.21" stroke="#1f9a1f" stroke-width="1.6" fill="none"/>
<path d="M288.46,99.33 L293.66,99.33 M291.06,96.73 L291.06,101.93" stroke="#1f9a1f" stroke-width="1.6" fill="none"/>
<path d="M299.53,94.03 L304.73,94.03 M302.13,91.43 L302.13,96.63" stroke="#1f9a1f" stroke-width="1.6" fill="none"/>
<path d="M310.6,89.6 L315.8,89.6 M313.2,87 L313.2,92.2" stroke="#1f9a1f" stroke-width="1.6" fill="none"/>
<path d="M321.67,85.99 L326.87,85.99 M324.27,83.39 L324.27,88.59" stroke="#1f9a1f" stroke-width="1.6" fill="none"/>
<path d="M332.73,83.51 L337.93,83.51 M335.33,80.91 L335.33,86.11" stroke="#1f9a1f" stroke-width="1.6" fill="none"/>
<path d="M343.8,82.32 L349,82.32 M346.4,79.72 L346.4,84.92" stroke="#1f9a1f" stroke-width="1.6" fill="none"/>
<path d="M354.87,81.48 L360.07,81.48 M357.47,78.88 L357.47,84.08" stroke="#1f9a1f" stroke-width="1.6" fill="none"/>
<path d="M365.94,81.08 L371.14,81.08 M368.54,78.48 L368.54,83.68" stroke="#1f9a1f" stroke-width="1.6" fill="none"/>
<path d="M377.01,82.31 L382.21,82.31 M379.61,79.71 L379.61,84.91" stroke="#1f9a1f" stroke-width="1.6" fill="none"/>
<path d="M388.08,83.56 L393.28,83.56 M390.68,80.96 L390.68,86.16" stroke="#1f9a1f" stroke-width="1.6" fill="none"/>
<path d="M399.15,85.97 L404.35,85.97 M401.75,83.37 L401.75,88.57" stroke="#1f9a1f" stroke-width="1.6" fill="none"/>
<path d="M410.22,88.48 L415.42,88.48 M412.82,85.88 L412.82,91.08" stroke="#1f9a1f" stroke-width="1.6" fill="none"/>
<path d="M421.29,92.3 L426.49,92.3 M423.89,89.7 L423.89,94.9" stroke="#1f9a1f" stroke-width="1.6" fill="none"/>
<path d="M432.36,96.34 L437.56,96.34 M434.96,93.74 L434.96,98.94" stroke="#1f9a1f" stroke-width="1.6" fill="none"/>
<path d="M443.43,102.14 L448.63,102.14 M446.03,99.54 L446.03,104.74" stroke="#1f9a1f" stroke-width="1.6" fill="none"/>
<path d="M454.5,108.76 L459.7,108.76 M457.1,106.16 L457.1,111.36" stroke="#1f9a1f" stroke-width="1.6" fill="none"/>
<path d="M465.57,115.59 L470.77,115.59 M468.17,112.99 L468.17,118.19" stroke="#1f9a1f" stroke-width="1.6" fill="none"/>
<path d="M476.64,124.84 L481.84,124.84 M479.24,122.24 L479.24,127.44" stroke="#1f9a1f" stroke-width="1.6" fill="none"/>
<path d="M487.71,132.77 L492.91,132.77 M490.31,130.17 L490.31,135.37" stroke="#1f9a1f" stroke-width="1.6" fill="none"/>
<path d="M498.78,141.98 L503.98,141.98 M501.38,139.38 L501.38,144.58" stroke="#1f9a1f" stroke-width="1.6" fill="none"/>
<path d="M509.84,153.04 L515.04,153.04 M512.44,150.44 L512.44,155.64" stroke="#1f9a1f" stroke-width="1.6" fill="none"/>
<path d="M520.91,164.54 L526.11,164.54 M523.51,161.94 L523.51,167.14" stroke="#1f9a1f" stroke-width="1.6" fill="none"/>
<path d="M531.98,176.81 L537.18,176.81 M534.58,174.21 L534.58,179.41" stroke="#1f9a1f" stroke-width="1.6" fill="none"/>
<path d="M543.05,189.38 L548.25,189.38 M545.65,186.78 L545.65,191.98" stroke="#1f9a1f" stroke-width="1.6" fill="none"/>
<path d="M554.12,201.42 L559.32,201.42 M556.72,198.82 L556.72,204.02" stroke="#1f9a1f" stroke-width="1.6" fill="none"/>
<path d="M565.19,214.69 L570.39,214.69 M567.79,212.09 L567.79,217.29" stroke="#1f9a1f" stroke-width="1.6" fill="none"/>
<path d="M576.26,226.72 L581.46,226.72 M578.86,224.12 L578.86,229.32" stroke="#1f9a1f" stroke-width="1.6" fill="none"/>
<path d="M587.33,239.39 L592.53,239.39 M589.93,236.79 L589.93,241.99" stroke="#1f9a1f" stroke-width="1.6" fill="none"/>
<path d="M598.4,251.4 L603.6,251.4 M601,248.8 L601,254" stroke="#1f9a1f" stroke-width="1.6" fill="none"/>
<path d="M58.7,297.79 L61.42,296.52 L64.14,295.25 L66.87,293.98 L69.59,292.7 L72.31,291.41 L75.03,290.11 L77.75,288.79 L80.48,287.46 L83.2,286.1 L85.92,284.71 L88.64,283.3 L91.37,281.84 L94.09,280.36 L96.81,278.83 L99.53,277.25 L102.25,275.63 L104.98,273.96 L107.7,272.23 L110.42,270.44 L113.14,268.59 L115.86,266.67 L118.59,264.69 L121.31,262.63 L124.03,260.49 L126.75,258.27 L129.47,255.97 L132.2,253.59 L134.92,251.11 L137.64,248.53 L140.36,245.86 L143.09,243.09 L145.81,240.21 L148.53,237.23 L151.25,234.13 L153.97,230.92 L156.7,227.62 L159.42,224.23 L162.14,220.77 L164.86,217.25 L167.58,213.68 L170.31,210.06 L173.03,206.42 L175.75,202.76 L178.47,199.1 L181.19,195.44 L183.92,191.79 L186.64,188.18 L189.36,184.6 L192.08,181.07 L194.81,177.58 L197.53,174.14 L200.25,170.76 L202.97,167.43 L205.69,164.15 L208.42,160.94 L211.14,157.8 L213.86,154.71 L216.58,151.7 L219.3,148.76 L222.03,145.9 L224.75,143.12 L227.47,140.41 L230.19,137.77 L232.92,135.19 L235.64,132.67 L238.36,130.2 L241.08,127.77 L243.8,125.38 L246.53,123.01 L249.25,120.68 L251.97,118.36 L254.69,116.05 L257.41,113.75 L260.14,111.44 L262.86,109.13 L265.58,106.83 L268.3,104.54 L271.02,102.29 L273.75,100.08 L276.47,97.92 L279.19,95.83 L281.91,93.8 L284.64,91.82 L287.36,89.91 L290.08,88.06 L292.8,86.26 L295.52,84.52 L298.25,82.84 L300.97,81.21 L303.69,79.64 L306.41,78.12 L309.13,76.66 L311.86,75.25 L314.58,73.89 L317.3,72.59 L320.02,71.34 L322.74,70.13 L325.47,68.98 L328.19,67.87 L330.91,66.82 L333.63,65.82 L336.36,64.86 L339.08,63.96 L341.8,63.1 L344.52,62.3 L347.24,61.55 L349.97,60.85 L352.69,60.2 L355.41,59.61 L358.13,59.07 L360.85,58.58 L363.58,58.14 L366.3,57.76 L369.02,57.43 L371.74,57.16 L374.46,56.94 L377.19,56.78 L379.91,56.67 L382.63,56.61 L385.35,56.61 L388.08,56.67 L390.8,56.79 L393.52,56.96 L396.24,57.18 L398.96,57.47 L401.69,57.81 L404.41,58.21 L407.13,58.67 L409.85,59.18 L412.57,59.74 L415.3,60.34 L418.02,60.99 L420.74,61.69 L423.46,62.42 L426.18,63.19 L428.91,63.99 L431.63,64.83 L434.35,65.69 L437.07,66.58 L439.8,67.49 L442.52,68.43 L445.24,69.38 L447.96,70.35 L450.68,71.34 L453.41,72.35 L456.13,73.38 L458.85,74.45 L461.57,75.55 L464.29,76.69 L467.02,77.87 L469.74,79.09 L472.46,80.36 L475.18,81.68 L477.91,83.05 L480.63,84.48 L483.35,85.97 L486.07,87.52 L488.79,89.14 L491.52,90.81 L494.24,92.55 L496.96,94.34 L499.68,96.2 L502.4,98.12 L505.13,100.09 L507.85,102.12 L510.57,104.21 L513.29,106.36 L516.01,108.56 L518.74,110.82 L521.46,113.14 L524.18,115.51 L526.9,117.93 L529.63,120.41 L532.35,122.94 L535.07,125.53 L537.79,128.17 L540.51,130.86 L543.24,133.6 L545.96,136.39 L548.68,139.23 L551.4,142.13 L554.12,145.07 L556.85,148.06 L559.57,151.1 L562.29,154.19 L565.01,157.32 L567.73,160.5 L570.46,163.73 L573.18,167.01 L575.9,170.33 L578.62,173.69 L581.35,177.1 L584.07,180.55 L586.79,184.05 L589.51,187.59 L592.23,191.17 L594.96,194.79 L597.68,198.46 L600.4,202.16" fill="none" stroke="#1515ff" stroke-width="1.4" stroke-linejoin="round" />
<path d="M56.1,312.12 L61.1,312.12 L58.6,316.38 Z" stroke="#1515ff" stroke-width="1.25" fill="none"/>
<path d="M67.17,305.63 L72.17,305.63 L69.67,309.88 Z" stroke="#1515ff" stroke-width="1.25" fill="none"/>
<path d="M78.24,297.56 L83.24,297.56 L80.74,301.81 Z" stroke="#1515ff" stroke-width="1.25" fill="none"/>
<path d="M89.31,288.82 L94.31,288.82 L91.81,293.07 Z" stroke="#1515ff" stroke-width="1.25" fill="none"/>
<path d="M100.38,278.28 L105.38,278.28 L102.88,282.53 Z" stroke="#1515ff" stroke-width="1.25" fill="none"/>
<path d="M111.45,268.23 L116.45,268.23 L113.95,272.48 Z" stroke="#1515ff" stroke-width="1.25" fill="none"/>
<path d="M122.52,256.26 L127.52,256.26 L125.02,260.51 Z" stroke="#1515ff" stroke-width="1.25" fill="none"/>
<path d="M133.59,243.47 L138.59,243.47 L136.09,247.72 Z" stroke="#1515ff" stroke-width="1.25" fill="none"/>
<path d="M144.66,231.12 L149.66,231.12 L147.16,235.37 Z" stroke="#1515ff" stroke-width="1.25" fill="none"/>
<path d="M155.72,218.69 L160.72,218.69 L158.22,222.94 Z" stroke="#1515ff" stroke-width="1.25" fill="none"/>
<path d="M166.79,204 L171.79,204 L169.29,208.25 Z" stroke="#1515ff" stroke-width="1.25" fill="none"/>
<path d="M177.86,191.07 L182.86,191.07 L180.36,195.32 Z" stroke="#1515ff" stroke-width="1.25" fill="none"/>
<path d="M188.93,176.25 L193.93,176.25 L191.43,180.5 Z" stroke="#1515ff" stroke-width="1.25" fill="none"/>
<path d="M200,162.62 L205,162.62 L202.5,166.87 Z" stroke="#1515ff" stroke-width="1.25" fill="none"/>
<path d="M211.07,148.49 L216.07,148.49 L213.57,152.74 Z" stroke="#1515ff" stroke-width="1.25" fill="none"/>
<path d="M222.14,136.26 L227.14,136.26 L224.64,140.51 Z" stroke="#1515ff" stroke-width="1.25" fill="none"/>
<path d="M233.21,123.74 L238.21,123.74 L235.71,127.99 Z" stroke="#1515ff" stroke-width="1.25" fill="none"/>
<path d="M244.28,113.44 L249.28,113.44 L246.78,117.69 Z" stroke="#1515ff" stroke-width="1.25" fill="none"/>
<path d="M255.35,102.87 L260.35,102.87 L257.85,107.12 Z" stroke="#1515ff" stroke-width="1.25" fill="none"/>
<path d="M266.42,93.91 L271.42,93.91 L268.92,98.16 Z" stroke="#1515ff" stroke-width="1.25" fill="none"/>
<path d="M277.49,86.52 L282.49,86.52 L279.99,90.77 Z" stroke="#1515ff" stroke-width="1.25" fill="none"/>
<path d="M288.56,80.47 L293.56,80.47 L291.06,84.72 Z" stroke="#1515ff" stroke-width="1.25" fill="none"/>
<path d="M299.63,73.98 L304.63,73.98 L302.13,78.23 Z" stroke="#1515ff" stroke-width="1.25" fill="none"/>
<path d="M310.7,70.33 L315.7,70.33 L313.2,74.58 Z" stroke="#1515ff" stroke-width="1.25" fill="none"/>
<path d="M321.77,66.61 L326.77,66.61 L324.27,70.86 Z" stroke="#1515ff" stroke-width="1.25" fill="none"/>
<path d="M332.83,63.44 L337.83,63.44 L335.33,67.69 Z" stroke="#1515ff" stroke-width="1.25" fill="none"/>
<path d="M343.9,62.44 L348.9,62.44 L346.4,66.69 Z" stroke="#1515ff" stroke-width="1.25" fill="none"/>
<path d="M354.97,60.41 L359.97,60.41 L357.47,64.66 Z" stroke="#1515ff" stroke-width="1.25" fill="none"/>
<path d="M366.04,59.92 L371.04,59.92 L368.54,64.17 Z" stroke="#1515ff" stroke-width="1.25" fill="none"/>
<path d="M377.11,59.93 L382.11,59.93 L379.61,64.18 Z" stroke="#1515ff" stroke-width="1.25" fill="none"/>
<path d="M388.18,60.46 L393.18,60.46 L390.68,64.71 Z" stroke="#1515ff" stroke-width="1.25" fill="none"/>
<path d="M399.25,61.71 L404.25,61.71 L401.75,65.96 Z" stroke="#1515ff" stroke-width="1.25" fill="none"/>
<path d="M410.32,63.41 L415.32,63.41 L412.82,67.66 Z" stroke="#1515ff" stroke-width="1.25" fill="none"/>
<path d="M421.39,65.03 L426.39,65.03 L423.89,69.28 Z" stroke="#1515ff" stroke-width="1.25" fill="none"/>
<path d="M432.46,68.73 L437.46,68.73 L434.96,72.98 Z" stroke="#1515ff" stroke-width="1.25" fill="none"/>
<path d="M443.53,70.7 L448.53,70.7 L446.03,74.95 Z" stroke="#1515ff" stroke-width="1.25" fill="none"/>
<path d="M454.6,74.87 L459.6,74.87 L457.1,79.12 Z" stroke="#1515ff" stroke-width="1.25" fill="none"/>
<path d="M465.67,79.31 L470.67,79.31 L468.17,83.56 Z" stroke="#1515ff" stroke-width="1.25" fill="none"/>
<path d="M476.74,83.79 L481.74,83.79 L479.24,88.04 Z" stroke="#1515ff" stroke-width="1.25" fill="none"/>
<path d="M487.81,89.25 L492.81,89.25 L490.31,93.5 Z" stroke="#1515ff" stroke-width="1.25" fill="none"/>
<path d="M498.88,95.81 L503.88,95.81 L501.38,100.06 Z" stroke="#1515ff" stroke-width="1.25" fill="none"/>
<path d="M509.94,103.91 L514.94,103.91 L512.44,108.16 Z" stroke="#1515ff" stroke-width="1.25" fill="none"/>
<path d="M521.01,113.92 L526.01,113.92 L523.51,118.17 Z" stroke="#1515ff" stroke-width="1.25" fill="none"/>
<path d="M532.08,124.22 L537.08,124.22 L534.58,128.47 Z" stroke="#1515ff" stroke-width="1.25" fill="none"/>
<path d="M543.15,135.7 L548.15,135.7 L545.65,139.95 Z" stroke="#1515ff" stroke-width="1.25" fill="none"/>
<path d="M554.22,147.84 L559.22,147.84 L556.72,152.09 Z" stroke="#1515ff" stroke-width="1.25" fill="none"/>
<path d="M565.29,160.32 L570.29,160.32 L567.79,164.57 Z" stroke="#1515ff" stroke-width="1.25" fill="none"/>
<path d="M576.36,173.69 L581.36,173.69 L578.86,177.94 Z" stroke="#1515ff" stroke-width="1.25" fill="none"/>
<path d="M587.43,188.07 L592.43,188.07 L589.93,192.32 Z" stroke="#1515ff" stroke-width="1.25" fill="none"/>
<path d="M598.5,202.93 L603.5,202.93 L601,207.18 Z" stroke="#1515ff" stroke-width="1.25" fill="none"/>
<path d="M58.3,314.7 L61.02,313.7 L63.75,312.67 L66.47,311.63 L69.2,310.55 L71.92,309.45 L74.64,308.31 L77.37,307.14 L80.09,305.94 L82.82,304.69 L85.54,303.4 L88.27,302.07 L90.99,300.69 L93.71,299.27 L96.44,297.79 L99.16,296.26 L101.89,294.68 L104.61,293.04 L107.33,291.33 L110.06,289.57 L112.78,287.74 L115.51,285.84 L118.23,283.88 L120.95,281.84 L123.68,279.72 L126.4,277.54 L129.13,275.27 L131.85,272.93 L134.58,270.52 L137.3,268.04 L140.02,265.48 L142.75,262.86 L145.47,260.18 L148.2,257.43 L150.92,254.62 L153.64,251.75 L156.37,248.82 L159.09,245.84 L161.82,242.8 L164.54,239.71 L167.26,236.57 L169.99,233.39 L172.71,230.15 L175.44,226.87 L178.16,223.55 L180.89,220.19 L183.61,216.79 L186.33,213.35 L189.06,209.88 L191.78,206.39 L194.51,202.86 L197.23,199.31 L199.95,195.74 L202.68,192.15 L205.4,188.54 L208.13,184.93 L210.85,181.3 L213.57,177.67 L216.3,174.03 L219.02,170.39 L221.75,166.76 L224.47,163.13 L227.2,159.5 L229.92,155.89 L232.64,152.3 L235.37,148.72 L238.09,145.16 L240.82,141.62 L243.54,138.11 L246.26,134.62 L248.99,131.17 L251.71,127.75 L254.44,124.37 L257.16,121.03 L259.88,117.74 L262.61,114.49 L265.33,111.29 L268.06,108.14 L270.78,105.04 L273.51,102.01 L276.23,99.03 L278.95,96.12 L281.68,93.28 L284.4,90.5 L287.13,87.8 L289.85,85.17 L292.57,82.62 L295.3,80.15 L298.02,77.77 L300.75,75.47 L303.47,73.27 L306.19,71.15 L308.92,69.13 L311.64,67.22 L314.37,65.4 L317.09,63.68 L319.82,62.07 L322.54,60.56 L325.26,59.15 L327.99,57.84 L330.71,56.62 L333.44,55.51 L336.16,54.49 L338.88,53.56 L341.61,52.74 L344.33,52 L347.06,51.36 L349.78,50.81 L352.51,50.36 L355.23,49.99 L357.95,49.72 L360.68,49.54 L363.4,49.46 L366.13,49.46 L368.85,49.55 L371.57,49.74 L374.3,50.02 L377.02,50.38 L379.75,50.84 L382.47,51.39 L385.19,52.02 L387.92,52.75 L390.64,53.56 L393.37,54.47 L396.09,55.46 L398.82,56.54 L401.54,57.71 L404.26,58.96 L406.99,60.31 L409.71,61.74 L412.44,63.26 L415.16,64.87 L417.88,66.56 L420.61,68.34 L423.33,70.21 L426.06,72.16 L428.78,74.2 L431.5,76.33 L434.23,78.54 L436.95,80.83 L439.68,83.21 L442.4,85.68 L445.13,88.23 L447.85,90.86 L450.57,93.58 L453.3,96.38 L456.02,99.27 L458.75,102.24 L461.47,105.29 L464.19,108.41 L466.92,111.61 L469.64,114.87 L472.37,118.2 L475.09,121.59 L477.81,125.04 L480.54,128.53 L483.26,132.08 L485.99,135.67 L488.71,139.3 L491.44,142.96 L494.16,146.66 L496.88,150.38 L499.61,154.13 L502.33,157.9 L505.06,161.69 L507.78,165.49 L510.5,169.29 L513.23,173.1 L515.95,176.91 L518.68,180.72 L521.4,184.51 L524.12,188.3 L526.85,192.07 L529.57,195.82 L532.3,199.55 L535.02,203.24 L537.75,206.91 L540.47,210.54 L543.19,214.13 L545.92,217.67 L548.64,221.17 L551.37,224.62 L554.09,228.01 L556.81,231.34 L559.54,234.6 L562.26,237.8 L564.99,240.93 L567.71,243.98 L570.43,246.95 L573.16,249.83 L575.88,252.63 L578.61,255.34 L581.33,257.95 L584.06,260.46 L586.78,262.86 L589.5,265.16 L592.23,267.35 L594.95,269.42 L597.68,271.37 L600.4,273.19" fill="none" stroke="#5a2626" stroke-width="1.3" stroke-linejoin="round" />
<rect x="56.25" y="306.1" width="4.7" height="4.2" stroke="#4e1c1c" stroke-width="1.35" fill="none"/>
<rect x="67.32" y="301.59" width="4.7" height="4.2" stroke="#4e1c1c" stroke-width="1.35" fill="none"/>
<rect x="78.39" y="296.91" width="4.7" height="4.2" stroke="#4e1c1c" stroke-width="1.35" fill="none"/>
<rect x="89.46" y="290.73" width="4.7" height="4.2" stroke="#4e1c1c" stroke-width="1.35" fill="none"/>
<rect x="100.53" y="283.46" width="4.7" height="4.2" stroke="#4e1c1c" stroke-width="1.35" fill="none"/>
<rect x="111.6" y="276.94" width="4.7" height="4.2" stroke="#4e1c1c" stroke-width="1.35" fill="none"/>
<rect x="122.67" y="268.99" width="4.7" height="4.2" stroke="#4e1c1c" stroke-width="1.35" fill="none"/>
<rect x="133.74" y="260.29" width="4.7" height="4.2" stroke="#4e1c1c" stroke-width="1.35" fill="none"/>
<rect x="144.81" y="250.4" width="4.7" height="4.2" stroke="#4e1c1c" stroke-width="1.35" fill="none"/>
<rect x="155.87" y="240.54" width="4.7" height="4.2" stroke="#4e1c1c" stroke-width="1.35" fill="none"/>
<rect x="166.94" y="228.18" width="4.7" height="4.2" stroke="#4e1c1c" stroke-width="1.35" fill="none"/>
<rect x="178.01" y="215.74" width="4.7" height="4.2" stroke="#4e1c1c" stroke-width="1.35" fill="none"/>
<rect x="189.08" y="202.4" width="4.7" height="4.2" stroke="#4e1c1c" stroke-width="1.35" fill="none"/>
<rect x="200.15" y="189" width="4.7" height="4.2" stroke="#4e1c1c" stroke-width="1.35" fill="none"/>
<rect x="211.22" y="174.66" width="4.7" height="4.2" stroke="#4e1c1c" stroke-width="1.35" fill="none"/>
<rect x="222.29" y="159.71" width="4.7" height="4.2" stroke="#4e1c1c" stroke-width="1.35" fill="none"/>
<rect x="233.36" y="144.6" width="4.7" height="4.2" stroke="#4e1c1c" stroke-width="1.35" fill="none"/>
<rect x="244.43" y="130.16" width="4.7" height="4.2" stroke="#4e1c1c" stroke-width="1.35" fill="none"/>
<rect x="255.5" y="115.07" width="4.7" height="4.2" stroke="#4e1c1c" stroke-width="1.35" fill="none"/>
<rect x="266.57" y="103.43" width="4.7" height="4.2" stroke="#4e1c1c" stroke-width="1.35" fill="none"/>
<rect x="277.64" y="90.77" width="4.7" height="4.2" stroke="#4e1c1c" stroke-width="1.35" fill="none"/>
<rect x="288.71" y="80.74" width="4.7" height="4.2" stroke="#4e1c1c" stroke-width="1.35" fill="none"/>
<rect x="299.78" y="71.09" width="4.7" height="4.2" stroke="#4e1c1c" stroke-width="1.35" fill="none"/>
<rect x="310.85" y="63.02" width="4.7" height="4.2" stroke="#4e1c1c" stroke-width="1.35" fill="none"/>
<rect x="321.92" y="56.47" width="4.7" height="4.2" stroke="#4e1c1c" stroke-width="1.35" fill="none"/>
<rect x="332.98" y="51.53" width="4.7" height="4.2" stroke="#4e1c1c" stroke-width="1.35" fill="none"/>
<rect x="344.05" y="47.86" width="4.7" height="4.2" stroke="#4e1c1c" stroke-width="1.35" fill="none"/>
<rect x="355.12" y="46.46" width="4.7" height="4.2" stroke="#4e1c1c" stroke-width="1.35" fill="none"/>
<rect x="366.19" y="45.38" width="4.7" height="4.2" stroke="#4e1c1c" stroke-width="1.35" fill="none"/>
<rect x="377.26" y="46.53" width="4.7" height="4.2" stroke="#4e1c1c" stroke-width="1.35" fill="none"/>
<rect x="388.33" y="49.79" width="4.7" height="4.2" stroke="#4e1c1c" stroke-width="1.35" fill="none"/>
<rect x="399.4" y="53.15" width="4.7" height="4.2" stroke="#4e1c1c" stroke-width="1.35" fill="none"/>
<rect x="410.47" y="59.65" width="4.7" height="4.2" stroke="#4e1c1c" stroke-width="1.35" fill="none"/>
<rect x="421.54" y="66.65" width="4.7" height="4.2" stroke="#4e1c1c" stroke-width="1.35" fill="none"/>
<rect x="432.61" y="76.29" width="4.7" height="4.2" stroke="#4e1c1c" stroke-width="1.35" fill="none"/>
<rect x="443.68" y="86.43" width="4.7" height="4.2" stroke="#4e1c1c" stroke-width="1.35" fill="none"/>
<rect x="454.75" y="98.96" width="4.7" height="4.2" stroke="#4e1c1c" stroke-width="1.35" fill="none"/>
<rect x="465.82" y="111.15" width="4.7" height="4.2" stroke="#4e1c1c" stroke-width="1.35" fill="none"/>
<rect x="476.89" y="124.24" width="4.7" height="4.2" stroke="#4e1c1c" stroke-width="1.35" fill="none"/>
<rect x="487.96" y="138.78" width="4.7" height="4.2" stroke="#4e1c1c" stroke-width="1.35" fill="none"/>
<rect x="499.03" y="153.87" width="4.7" height="4.2" stroke="#4e1c1c" stroke-width="1.35" fill="none"/>
<rect x="510.09" y="169.88" width="4.7" height="4.2" stroke="#4e1c1c" stroke-width="1.35" fill="none"/>
<rect x="521.16" y="185.72" width="4.7" height="4.2" stroke="#4e1c1c" stroke-width="1.35" fill="none"/>
<rect x="532.23" y="200.74" width="4.7" height="4.2" stroke="#4e1c1c" stroke-width="1.35" fill="none"/>
<rect x="543.3" y="215.42" width="4.7" height="4.2" stroke="#4e1c1c" stroke-width="1.35" fill="none"/>
<rect x="554.37" y="229.5" width="4.7" height="4.2" stroke="#4e1c1c" stroke-width="1.35" fill="none"/>
<rect x="565.44" y="243.09" width="4.7" height="4.2" stroke="#4e1c1c" stroke-width="1.35" fill="none"/>
<rect x="576.51" y="254.07" width="4.7" height="4.2" stroke="#4e1c1c" stroke-width="1.35" fill="none"/>
<rect x="587.58" y="264.84" width="4.7" height="4.2" stroke="#4e1c1c" stroke-width="1.35" fill="none"/>
<rect x="598.65" y="275.2" width="4.7" height="4.2" stroke="#4e1c1c" stroke-width="1.35" fill="none"/>
<path d="M59.5,158.22 L62.22,158.15 L64.94,158.09 L67.66,158.05 L70.38,158.01 L73.11,157.98 L75.83,157.96 L78.55,157.95 L81.27,157.95 L83.99,157.96 L86.71,157.98 L89.43,158.02 L92.15,158.06 L94.87,158.11 L97.6,158.17 L100.32,158.24 L103.04,158.33 L105.76,158.42 L108.48,158.53 L111.2,158.65 L113.92,158.78 L116.64,158.92 L119.36,159.07 L122.09,159.24 L124.81,159.41 L127.53,159.6 L130.25,159.8 L132.97,160.02 L135.69,160.24 L138.41,160.48 L141.13,160.73 L143.85,161 L146.58,161.28 L149.3,161.57 L152.02,161.87 L154.74,162.19 L157.46,162.52 L160.18,162.87 L162.9,163.23 L165.62,163.6 L168.34,163.99 L171.07,164.39 L173.79,164.81 L176.51,165.24 L179.23,165.68 L181.95,166.14 L184.67,166.62 L187.39,167.11 L190.11,167.62 L192.83,168.14 L195.56,168.68 L198.28,169.23 L201,169.8 L203.72,170.39 L206.44,170.99 L209.16,171.6 L211.88,172.24 L214.6,172.89 L217.32,173.56 L220.05,174.24 L222.77,174.94 L225.49,175.66 L228.21,176.4 L230.93,177.15 L233.65,177.92 L236.37,178.71 L239.09,179.51 L241.81,180.34 L244.54,181.18 L247.26,182.04 L249.98,182.92 L252.7,183.81 L255.42,184.73 L258.14,185.66 L260.86,186.62 L263.58,187.59 L266.3,188.58 L269.03,189.59 L271.75,190.62 L274.47,191.67 L277.19,192.74 L279.91,193.83 L282.63,194.94 L285.35,196.07 L288.07,197.22 L290.79,198.39 L293.52,199.58 L296.24,200.79 L298.96,202.02 L301.68,203.27 L304.4,204.55 L307.12,205.84 L309.84,207.16 L312.56,208.5 L315.28,209.86 L318.01,211.24 L320.73,212.64 L323.45,214.06 L326.17,215.5 L328.89,216.96 L331.61,218.44 L334.33,219.93 L337.05,221.44 L339.77,222.97 L342.49,224.51 L345.22,226.07 L347.94,227.64 L350.66,229.22 L353.38,230.82 L356.1,232.43 L358.82,234.05 L361.54,235.68 L364.26,237.32 L366.98,238.97 L369.71,240.62 L372.43,242.29 L375.15,243.96 L377.87,245.64 L380.59,247.33 L383.31,249.02 L386.03,250.72 L388.75,252.42 L391.47,254.12 L394.2,255.82 L396.92,257.53 L399.64,259.24 L402.36,260.95 L405.08,262.66 L407.8,264.37 L410.52,266.08 L413.24,267.78 L415.96,269.49 L418.69,271.19 L421.41,272.88 L424.13,274.57 L426.85,276.26 L429.57,277.94 L432.29,279.61 L435.01,281.28 L437.73,282.94 L440.45,284.59 L443.18,286.23 L445.9,287.86 L448.62,289.48 L451.34,291.09 L454.06,292.68 L456.78,294.27 L459.5,295.84 L462.22,297.39 L464.94,298.94 L467.67,300.46 L470.39,301.97 L473.11,303.47 L475.83,304.94 L478.55,306.4 L481.27,307.84 L483.99,309.27 L486.71,310.67 L489.43,312.05 L492.16,313.41 L494.88,314.76 L497.6,316.08 L500.32,317.38 L503.04,318.66 L505.76,319.91 L508.48,321.15 L511.2,322.36 L513.92,323.55 L516.65,324.72 L519.37,325.86 L522.09,326.98 L524.81,328.07 L527.53,329.15 L530.25,330.19 L532.97,331.21 L535.69,332.21 L538.41,333.18 L541.14,334.12 L543.86,335.04 L546.58,335.93 L549.3,336.79 L552.02,337.63 L554.74,338.43 L557.46,339.21 L560.18,339.96 L562.9,340.68 L565.63,341.38 L568.35,342.04 L571.07,342.67 L573.79,343.27 L576.51,343.85 L579.23,344.39 L581.95,344.9 L584.67,345.38 L587.39,345.82 L590.12,346.24 L592.84,346.62 L595.56,346.97 L598.28,347.28 L601,347.56" fill="none" stroke="#222" stroke-width="1.3" stroke-linejoin="round" />
<circle cx="58.6" cy="152.5" r="2.65" fill="#111"/>
<circle cx="69.67" cy="153.76" r="2.65" fill="#111"/>
<circle cx="80.74" cy="154.76" r="2.65" fill="#111"/>
<circle cx="91.81" cy="155.56" r="2.65" fill="#111"/>
<circle cx="102.88" cy="156.01" r="2.65" fill="#111"/>
<circle cx="113.95" cy="157.99" r="2.65" fill="#111"/>
<circle cx="125.02" cy="158.97" r="2.65" fill="#111"/>
<circle cx="136.09" cy="159.48" r="2.65" fill="#111"/>
<circle cx="147.16" cy="160.55" r="2.65" fill="#111"/>
<circle cx="158.22" cy="161.73" r="2.65" fill="#111"/>
<circle cx="169.29" cy="163.47" r="2.65" fill="#111"/>
<circle cx="180.36" cy="165.42" r="2.65" fill="#111"/>
<circle cx="191.43" cy="168.16" r="2.65" fill="#111"/>
<circle cx="202.5" cy="170" r="2.65" fill="#111"/>
<circle cx="213.57" cy="172.97" r="2.65" fill="#111"/>
<circle cx="224.64" cy="176" r="2.65" fill="#111"/>
<circle cx="235.71" cy="178.49" r="2.65" fill="#111"/>
<circle cx="246.78" cy="181.62" r="2.65" fill="#111"/>
<circle cx="257.85" cy="184.6" r="2.65" fill="#111"/>
<circle cx="268.92" cy="188.53" r="2.65" fill="#111"/>
<circle cx="279.99" cy="192.68" r="2.65" fill="#111"/>
<circle cx="291.06" cy="197.32" r="2.65" fill="#111"/>
<circle cx="302.13" cy="202.05" r="2.65" fill="#111"/>
<circle cx="313.2" cy="208.38" r="2.65" fill="#111"/>
<circle cx="324.27" cy="213.98" r="2.65" fill="#111"/>
<circle cx="335.33" cy="220.66" r="2.65" fill="#111"/>
<circle cx="346.4" cy="227.28" r="2.65" fill="#111"/>
<circle cx="357.47" cy="234" r="2.65" fill="#111"/>
<circle cx="368.54" cy="240.74" r="2.65" fill="#111"/>
<circle cx="379.61" cy="247.37" r="2.65" fill="#111"/>
<circle cx="390.68" cy="254.18" r="2.65" fill="#111"/>
<circle cx="401.75" cy="261.57" r="2.65" fill="#111"/>
<circle cx="412.82" cy="268.23" r="2.65" fill="#111"/>
<circle cx="423.89" cy="274.86" r="2.65" fill="#111"/>
<circle cx="434.96" cy="282.17" r="2.65" fill="#111"/>
<circle cx="446.03" cy="288.34" r="2.65" fill="#111"/>
<circle cx="457.1" cy="294.84" r="2.65" fill="#111"/>
<circle cx="468.17" cy="300.66" r="2.65" fill="#111"/>
<circle cx="479.24" cy="307.03" r="2.65" fill="#111"/>
<circle cx="490.31" cy="312.51" r="2.65" fill="#111"/>
<circle cx="501.38" cy="317.05" r="2.65" fill="#111"/>
<circle cx="512.44" cy="322.52" r="2.65" fill="#111"/>
<circle cx="523.51" cy="327.22" r="2.65" fill="#111"/>
<circle cx="534.58" cy="331.67" r="2.65" fill="#111"/>
<circle cx="545.65" cy="335.06" r="2.65" fill="#111"/>
<circle cx="556.72" cy="337.57" r="2.65" fill="#111"/>
<circle cx="567.79" cy="340.79" r="2.65" fill="#111"/>
<circle cx="578.86" cy="343.4" r="2.65" fill="#111"/>
<circle cx="589.93" cy="345.45" r="2.65" fill="#111"/>
<circle cx="601" cy="348.5" r="2.65" fill="#111"/>
<path d="M58.7,80.06 L61.43,80.09 L64.15,80.12 L66.88,80.16 L69.6,80.22 L72.33,80.28 L75.05,80.35 L77.78,80.44 L80.5,80.53 L83.23,80.64 L85.95,80.76 L88.68,80.9 L91.4,81.04 L94.13,81.21 L96.85,81.38 L99.58,81.58 L102.3,81.78 L105.03,82.01 L107.75,82.25 L110.48,82.51 L113.2,82.79 L115.93,83.09 L118.65,83.41 L121.38,83.75 L124.1,84.1 L126.83,84.48 L129.55,84.88 L132.28,85.31 L135,85.76 L137.73,86.23 L140.45,86.72 L143.18,87.24 L145.9,87.78 L148.63,88.35 L151.35,88.95 L154.08,89.57 L156.8,90.22 L159.53,90.9 L162.25,91.61 L164.98,92.34 L167.71,93.11 L170.43,93.91 L173.16,94.73 L175.88,95.59 L178.61,96.48 L181.33,97.41 L184.06,98.36 L186.78,99.35 L189.51,100.38 L192.23,101.44 L194.96,102.53 L197.68,103.66 L200.41,104.83 L203.13,106.04 L205.86,107.28 L208.58,108.56 L211.31,109.87 L214.03,111.22 L216.76,112.61 L219.48,114.03 L222.21,115.48 L224.93,116.97 L227.66,118.49 L230.38,120.05 L233.11,121.64 L235.83,123.26 L238.56,124.91 L241.28,126.59 L244.01,128.3 L246.73,130.04 L249.46,131.81 L252.18,133.61 L254.91,135.44 L257.63,137.3 L260.36,139.18 L263.08,141.09 L265.81,143.03 L268.53,145 L271.26,146.99 L273.98,149 L276.71,151.04 L279.44,153.1 L282.16,155.19 L284.89,157.3 L287.61,159.43 L290.34,161.58 L293.06,163.76 L295.79,165.96 L298.51,168.18 L301.24,170.41 L303.96,172.67 L306.69,174.95 L309.41,177.24 L312.14,179.56 L314.86,181.89 L317.59,184.24 L320.31,186.6 L323.04,188.98 L325.76,191.38 L328.49,193.79 L331.21,196.22 L333.94,198.66 L336.66,201.12 L339.39,203.59 L342.11,206.07 L344.84,208.56 L347.56,211.06 L350.29,213.57 L353.01,216.09 L355.74,218.62 L358.46,221.15 L361.19,223.69 L363.91,226.23 L366.64,228.78 L369.36,231.33 L372.09,233.88 L374.81,236.43 L377.54,238.98 L380.26,241.53 L382.99,244.08 L385.72,246.63 L388.44,249.17 L391.17,251.7 L393.89,254.23 L396.62,256.76 L399.34,259.27 L402.07,261.78 L404.79,264.27 L407.52,266.76 L410.24,269.23 L412.97,271.69 L415.69,274.14 L418.42,276.57 L421.14,278.99 L423.87,281.39 L426.59,283.78 L429.32,286.14 L432.04,288.49 L434.77,290.81 L437.49,293.12 L440.22,295.4 L442.94,297.66 L445.67,299.89 L448.39,302.1 L451.12,304.29 L453.84,306.45 L456.57,308.57 L459.29,310.68 L462.02,312.75 L464.74,314.79 L467.47,316.79 L470.19,318.77 L472.92,320.71 L475.64,322.62 L478.37,324.5 L481.09,326.34 L483.82,328.14 L486.54,329.91 L489.27,331.65 L491.99,333.35 L494.72,335.01 L497.45,336.64 L500.17,338.22 L502.9,339.78 L505.62,341.29 L508.35,342.77 L511.07,344.2 L513.8,345.6 L516.52,346.96 L519.25,348.28 L521.97,349.56 L524.7,350.79 L527.42,351.99 L530.15,353.15 L532.87,354.26 L535.6,355.33 L538.32,356.36 L541.05,357.35 L543.77,358.29 L546.5,359.19 L549.22,360.04 L551.95,360.86 L554.67,361.62 L557.4,362.34 L560.12,363.02 L562.85,363.65 L565.57,364.23 L568.3,364.77 L571.02,365.26 L573.75,365.7 L576.47,366.09 L579.2,366.44 L581.92,366.74 L584.65,366.98 L587.37,367.18 L590.1,367.33 L592.82,367.43 L595.55,367.48 L598.27,367.48 L601,367.42" fill="none" stroke="#ff2a2a" stroke-width="1.3" stroke-linejoin="round" />
<path d="M56,75.9 L61.2,81.1 M56,81.1 L61.2,75.9" stroke="#ff2a2a" stroke-width="1.1" fill="none"/>
<path d="M67.07,77.21 L72.27,82.41 M67.07,82.41 L72.27,77.21" stroke="#ff2a2a" stroke-width="1.1" fill="none"/>
<path d="M78.14,77.74 L83.34,82.94 M78.14,82.94 L83.34,77.74" stroke="#ff2a2a" stroke-width="1.1" fill="none"/>
<path d="M89.21,78.89 L94.41,84.09 M89.21,84.09 L94.41,78.89" stroke="#ff2a2a" stroke-width="1.1" fill="none"/>
<path d="M100.28,79.76 L105.48,84.96 M100.28,84.96 L105.48,79.76" stroke="#ff2a2a" stroke-width="1.1" fill="none"/>
<path d="M111.35,80.94 L116.55,86.14 M111.35,86.14 L116.55,80.94" stroke="#ff2a2a" stroke-width="1.1" fill="none"/>
<path d="M122.42,82.23 L127.62,87.43 M122.42,87.43 L127.62,82.23" stroke="#ff2a2a" stroke-width="1.1" fill="none"/>
<path d="M133.49,84.22 L138.69,89.42 M133.49,89.42 L138.69,84.22" stroke="#ff2a2a" stroke-width="1.1" fill="none"/>
<path d="M144.56,86.39 L149.76,91.59 M144.56,91.59 L149.76,86.39" stroke="#ff2a2a" stroke-width="1.1" fill="none"/>
<path d="M155.62,88.97 L160.82,94.17 M155.62,94.17 L160.82,88.97" stroke="#ff2a2a" stroke-width="1.1" fill="none"/>
<path d="M166.69,91.45 L171.89,96.65 M166.69,96.65 L171.89,91.45" stroke="#ff2a2a" stroke-width="1.1" fill="none"/>
<path d="M177.76,94.59 L182.96,99.79 M177.76,99.79 L182.96,94.59" stroke="#ff2a2a" stroke-width="1.1" fill="none"/>
<path d="M188.83,99.01 L194.03,104.21 M188.83,104.21 L194.03,99.01" stroke="#ff2a2a" stroke-width="1.1" fill="none"/>
<path d="M199.9,102.82 L205.1,108.02 M199.9,108.02 L205.1,102.82" stroke="#ff2a2a" stroke-width="1.1" fill="none"/>
<path d="M210.97,107.69 L216.17,112.89 M210.97,112.89 L216.17,107.69" stroke="#ff2a2a" stroke-width="1.1" fill="none"/>
<path d="M222.04,113.38 L227.24,118.58 M222.04,118.58 L227.24,113.38" stroke="#ff2a2a" stroke-width="1.1" fill="none"/>
<path d="M233.11,119.7 L238.31,124.9 M233.11,124.9 L238.31,119.7" stroke="#ff2a2a" stroke-width="1.1" fill="none"/>
<path d="M244.18,126.92 L249.38,132.12 M244.18,132.12 L249.38,126.92" stroke="#ff2a2a" stroke-width="1.1" fill="none"/>
<path d="M255.25,133.97 L260.45,139.17 M255.25,139.17 L260.45,133.97" stroke="#ff2a2a" stroke-width="1.1" fill="none"/>
<path d="M266.32,142.21 L271.52,147.41 M266.32,147.41 L271.52,142.21" stroke="#ff2a2a" stroke-width="1.1" fill="none"/>
<path d="M277.39,149.64 L282.59,154.84 M277.39,154.84 L282.59,149.64" stroke="#ff2a2a" stroke-width="1.1" fill="none"/>
<path d="M288.46,158.37 L293.66,163.57 M288.46,163.57 L293.66,158.37" stroke="#ff2a2a" stroke-width="1.1" fill="none"/>
<path d="M299.53,168.18 L304.73,173.38 M299.53,173.38 L304.73,168.18" stroke="#ff2a2a" stroke-width="1.1" fill="none"/>
<path d="M310.6,177.96 L315.8,183.16 M310.6,183.16 L315.8,177.96" stroke="#ff2a2a" stroke-width="1.1" fill="none"/>
<path d="M321.67,187.54 L326.87,192.74 M321.67,192.74 L326.87,187.54" stroke="#ff2a2a" stroke-width="1.1" fill="none"/>
<path d="M332.73,197.91 L337.93,203.11 M332.73,203.11 L337.93,197.91" stroke="#ff2a2a" stroke-width="1.1" fill="none"/>
<path d="M343.8,207.79 L349,212.99 M343.8,212.99 L349,207.79" stroke="#ff2a2a" stroke-width="1.1" fill="none"/>
<path d="M354.87,217.49 L360.07,222.69 M354.87,222.69 L360.07,217.49" stroke="#ff2a2a" stroke-width="1.1" fill="none"/>
<path d="M365.94,228.84 L371.14,234.04 M365.94,234.04 L371.14,228.84" stroke="#ff2a2a" stroke-width="1.1" fill="none"/>
<path d="M377.01,238.75 L382.21,243.95 M377.01,243.95 L382.21,238.75" stroke="#ff2a2a" stroke-width="1.1" fill="none"/>
<path d="M388.08,249.69 L393.28,254.89 M388.08,254.89 L393.28,249.69" stroke="#ff2a2a" stroke-width="1.1" fill="none"/>
<path d="M399.15,258.87 L404.35,264.07 M399.15,264.07 L404.35,258.87" stroke="#ff2a2a" stroke-width="1.1" fill="none"/>
<path d="M410.22,269.22 L415.42,274.42 M410.22,274.42 L415.42,269.22" stroke="#ff2a2a" stroke-width="1.1" fill="none"/>
<path d="M421.29,279.55 L426.49,284.75 M421.29,284.75 L426.49,279.55" stroke="#ff2a2a" stroke-width="1.1" fill="none"/>
<path d="M432.36,289.03 L437.56,294.23 M432.36,294.23 L437.56,289.03" stroke="#ff2a2a" stroke-width="1.1" fill="none"/>
<path d="M443.43,297.91 L448.63,303.11 M443.43,303.11 L448.63,297.91" stroke="#ff2a2a" stroke-width="1.1" fill="none"/>
<path d="M454.5,307.1 L459.7,312.3 M454.5,312.3 L459.7,307.1" stroke="#ff2a2a" stroke-width="1.1" fill="none"/>
<path d="M465.57,314.48 L470.77,319.68 M465.57,319.68 L470.77,314.48" stroke="#ff2a2a" stroke-width="1.1" fill="none"/>
<path d="M476.64,323.04 L481.84,328.24 M476.64,328.24 L481.84,323.04" stroke="#ff2a2a" stroke-width="1.1" fill="none"/>
<path d="M487.71,329.37 L492.91,334.57 M487.71,334.57 L492.91,329.37" stroke="#ff2a2a" stroke-width="1.1" fill="none"/>
<path d="M498.78,335.55 L503.98,340.75 M498.78,340.75 L503.98,335.55" stroke="#ff2a2a" stroke-width="1.1" fill="none"/>
<path d="M509.84,342.07 L515.04,347.27 M509.84,347.27 L515.04,342.07" stroke="#ff2a2a" stroke-width="1.1" fill="none"/>
<path d="M520.91,347.24 L526.11,352.44 M520.91,352.44 L526.11,347.24" stroke="#ff2a2a" stroke-width="1.1" fill="none"/>
<path d="M531.98,352.16 L537.18,357.36 M531.98,357.36 L537.18,352.16" stroke="#ff2a2a" stroke-width="1.1" fill="none"/>
<path d="M543.05,355.86 L548.25,361.06 M543.05,361.06 L548.25,355.86" stroke="#ff2a2a" stroke-width="1.1" fill="none"/>
<path d="M554.12,358.28 L559.32,363.48 M554.12,363.48 L559.32,358.28" stroke="#ff2a2a" stroke-width="1.1" fill="none"/>
<path d="M565.19,361.6 L570.39,366.8 M565.19,366.8 L570.39,361.6" stroke="#ff2a2a" stroke-width="1.1" fill="none"/>
<path d="M576.26,363.24 L581.46,368.44 M576.26,368.44 L581.46,363.24" stroke="#ff2a2a" stroke-width="1.1" fill="none"/>
<path d="M587.33,365.03 L592.53,370.23 M587.33,370.23 L592.53,365.03" stroke="#ff2a2a" stroke-width="1.1" fill="none"/>
<path d="M598.4,366.5 L603.6,371.7 M598.4,371.7 L603.6,366.5" stroke="#ff2a2a" stroke-width="1.1" fill="none"/>
<path d="M58.7,40.51 L61.43,40.27 L64.15,40.07 L66.88,39.91 L69.6,39.78 L72.33,39.69 L75.05,39.64 L77.78,39.62 L80.5,39.64 L83.23,39.7 L85.95,39.79 L88.68,39.91 L91.4,40.07 L94.13,40.26 L96.85,40.49 L99.58,40.76 L102.3,41.05 L105.03,41.39 L107.75,41.75 L110.48,42.15 L113.2,42.58 L115.93,43.05 L118.65,43.54 L121.38,44.07 L124.1,44.63 L126.83,45.23 L129.55,45.85 L132.28,46.51 L135,47.2 L137.73,47.92 L140.45,48.67 L143.18,49.45 L145.9,50.26 L148.63,51.11 L151.35,51.98 L154.08,52.88 L156.8,53.81 L159.53,54.77 L162.25,55.76 L164.98,56.78 L167.71,57.83 L170.43,58.91 L173.16,60.01 L175.88,61.15 L178.61,62.31 L181.33,63.49 L184.06,64.71 L186.78,65.95 L189.51,67.22 L192.23,68.52 L194.96,69.84 L197.68,71.19 L200.41,72.56 L203.13,73.96 L205.86,75.39 L208.58,76.84 L211.31,78.32 L214.03,79.82 L216.76,81.34 L219.48,82.89 L222.21,84.46 L224.93,86.05 L227.66,87.67 L230.38,89.3 L233.11,90.96 L235.83,92.64 L238.56,94.34 L241.28,96.06 L244.01,97.8 L246.73,99.56 L249.46,101.34 L252.18,103.13 L254.91,104.95 L257.63,106.78 L260.36,108.63 L263.08,110.5 L265.81,112.38 L268.53,114.28 L271.26,116.2 L273.98,118.13 L276.71,120.07 L279.44,122.03 L282.16,124 L284.89,125.99 L287.61,127.99 L290.34,130.01 L293.06,132.03 L295.79,134.07 L298.51,136.12 L301.24,138.18 L303.96,140.25 L306.69,142.33 L309.41,144.42 L312.14,146.52 L314.86,148.63 L317.59,150.75 L320.31,152.88 L323.04,155.01 L325.76,157.16 L328.49,159.31 L331.21,161.46 L333.94,163.62 L336.66,165.79 L339.39,167.97 L342.11,170.15 L344.84,172.33 L347.56,174.52 L350.29,176.71 L353.01,178.9 L355.74,181.1 L358.46,183.3 L361.19,185.5 L363.91,187.7 L366.64,189.9 L369.36,192.1 L372.09,194.3 L374.81,196.51 L377.54,198.71 L380.26,200.91 L382.99,203.1 L385.72,205.3 L388.44,207.49 L391.17,209.68 L393.89,211.86 L396.62,214.04 L399.34,216.21 L402.07,218.38 L404.79,220.55 L407.52,222.7 L410.24,224.85 L412.97,227 L415.69,229.13 L418.42,231.26 L421.14,233.38 L423.87,235.49 L426.59,237.59 L429.32,239.68 L432.04,241.76 L434.77,243.83 L437.49,245.89 L440.22,247.94 L442.94,249.97 L445.67,251.99 L448.39,254 L451.12,255.99 L453.84,257.97 L456.57,259.94 L459.29,261.89 L462.02,263.82 L464.74,265.74 L467.47,267.64 L470.19,269.53 L472.92,271.39 L475.64,273.24 L478.37,275.07 L481.09,276.89 L483.82,278.68 L486.54,280.45 L489.27,282.2 L491.99,283.94 L494.72,285.65 L497.45,287.34 L500.17,289 L502.9,290.65 L505.62,292.27 L508.35,293.87 L511.07,295.44 L513.8,296.99 L516.52,298.52 L519.25,300.02 L521.97,301.49 L524.7,302.94 L527.42,304.36 L530.15,305.75 L532.87,307.12 L535.6,308.45 L538.32,309.76 L541.05,311.04 L543.77,312.29 L546.5,313.51 L549.22,314.7 L551.95,315.86 L554.67,316.98 L557.4,318.08 L560.12,319.14 L562.85,320.17 L565.57,321.17 L568.3,322.13 L571.02,323.06 L573.75,323.95 L576.47,324.81 L579.2,325.64 L581.92,326.42 L584.65,327.17 L587.37,327.89 L590.1,328.56 L592.82,329.2 L595.55,329.8 L598.27,330.36 L601,330.88" fill="none" stroke="#1f9a1f" stroke-width="1.3" stroke-linejoin="round" />
<path d="M56,37.9 L61.2,37.9 M58.6,35.3 L58.6,40.5" stroke="#1f9a1f" stroke-width="1.6" fill="none"/>
<path d="M67.07,39.12 L72.27,39.12 M69.67,36.52 L69.67,41.72" stroke="#1f9a1f" stroke-width="1.6" fill="none"/>
<path d="M78.14,39.94 L83.34,39.94 M80.74,37.34 L80.74,42.54" stroke="#1f9a1f" stroke-width="1.6" fill="none"/>
<path d="M89.21,41.09 L94.41,41.09 M91.81,38.49 L91.81,43.69" stroke="#1f9a1f" stroke-width="1.6" fill="none"/>
<path d="M100.28,42.98 L105.48,42.98 M102.88,40.38 L102.88,45.58" stroke="#1f9a1f" stroke-width="1.6" fill="none"/>
<path d="M111.35,44.44 L116.55,44.44 M113.95,41.84 L113.95,47.04" stroke="#1f9a1f" stroke-width="1.6" fill="none"/>
<path d="M122.42,45.75 L127.62,45.75 M125.02,43.15 L125.02,48.35" stroke="#1f9a1f" stroke-width="1.6" fill="none"/>
<path d="M133.49,48.06 L138.69,48.06 M136.09,45.46 L136.09,50.66" stroke="#1f9a1f" stroke-width="1.6" fill="none"/>
<path d="M144.56,51.09 L149.76,51.09 M147.16,48.49 L147.16,53.69" stroke="#1f9a1f" stroke-width="1.6" fill="none"/>
<path d="M155.62,54.21 L160.82,54.21 M158.22,51.61 L158.22,56.81" stroke="#1f9a1f" stroke-width="1.6" fill="none"/>
<path d="M166.69,57.89 L171.89,57.89 M169.29,55.29 L169.29,60.49" stroke="#1f9a1f" stroke-width="1.6" fill="none"/>
<path d="M177.76,62.78 L182.96,62.78 M180.36,60.18 L180.36,65.38" stroke="#1f9a1f" stroke-width="1.6" fill="none"/>
<path d="M188.83,67.61 L194.03,67.61 M191.43,65.01 L191.43,70.21" stroke="#1f9a1f" stroke-width="1.6" fill="none"/>
<path d="M199.9,73.09 L205.1,73.09 M202.5,70.49 L202.5,75.69" stroke="#1f9a1f" stroke-width="1.6" fill="none"/>
<path d="M210.97,79.49 L216.17,79.49 M213.57,76.89 L213.57,82.09" stroke="#1f9a1f" stroke-width="1.6" fill="none"/>
<path d="M222.04,85.28 L227.24,85.28 M224.64,82.68 L224.64,87.88" stroke="#1f9a1f" stroke-width="1.6" fill="none"/>
<path d="M233.11,91.88 L238.31,91.88 M235.71,89.28 L235.71,94.48" stroke="#1f9a1f" stroke-width="1.6" fill="none"/>
<path d="M244.18,98.43 L249.38,98.43 M246.78,95.83 L246.78,101.03" stroke="#1f9a1f" stroke-width="1.6" fill="none"/>
<path d="M255.25,105.87 L260.45,105.87 M257.85,103.27 L257.85,108.47" stroke="#1f9a1f" stroke-width="1.6" fill="none"/>
<path d="M266.32,113.66 L271.52,113.66 M268.92,111.06 L268.92,116.26" stroke="#1f9a1f" stroke-width="1.6" fill="none"/>
<path d="M277.39,122.62 L282.59,122.62 M279.99,120.02 L279.99,125.22" stroke="#1f9a1f" stroke-width="1.6" fill="none"/>
<path d="M288.46,130.97 L293.66,130.97 M291.06,128.37 L291.06,133.57" stroke="#1f9a1f" stroke-width="1.6" fill="none"/>
<path d="M299.53,139.3 L304.73,139.3 M302.13,136.7 L302.13,141.9" stroke="#1f9a1f" stroke-width="1.6" fill="none"/>
<path d="M310.6,147.24 L315.8,147.24 M313.2,144.64 L313.2,149.84" stroke="#1f9a1f" stroke-width="1.6" fill="none"/>
<path d="M321.67,156.1 L326.87,156.1 M324.27,153.5 L324.27,158.7" stroke="#1f9a1f" stroke-width="1.6" fill="none"/>
<path d="M332.73,165.1 L337.93,165.1 M335.33,162.5 L335.33,167.7" stroke="#1f9a1f" stroke-width="1.6" fill="none"/>
<path d="M343.8,174.48 L349,174.48 M346.4,171.88 L346.4,177.08" stroke="#1f9a1f" stroke-width="1.6" fill="none"/>
<path d="M354.87,182.71 L360.07,182.71 M357.47,180.11 L357.47,185.31" stroke="#1f9a1f" stroke-width="1.6" fill="none"/>
<path d="M365.94,191.59 L371.14,191.59 M368.54,188.99 L368.54,194.19" stroke="#1f9a1f" stroke-width="1.6" fill="none"/>
<path d="M377.01,200.4 L382.21,200.4 M379.61,197.8 L379.61,203" stroke="#1f9a1f" stroke-width="1.6" fill="none"/>
<path d="M388.08,210.01 L393.28,210.01 M390.68,207.41 L390.68,212.61" stroke="#1f9a1f" stroke-width="1.6" fill="none"/>
<path d="M399.15,218.39 L404.35,218.39 M401.75,215.79 L401.75,220.99" stroke="#1f9a1f" stroke-width="1.6" fill="none"/>
<path d="M410.22,227.14 L415.42,227.14 M412.82,224.54 L412.82,229.74" stroke="#1f9a1f" stroke-width="1.6" fill="none"/>
<path d="M421.29,235.42 L426.49,235.42 M423.89,232.82 L423.89,238.02" stroke="#1f9a1f" stroke-width="1.6" fill="none"/>
<path d="M432.36,243.92 L437.56,243.92 M434.96,241.32 L434.96,246.52" stroke="#1f9a1f" stroke-width="1.6" fill="none"/>
<path d="M443.43,252.62 L448.63,252.62 M446.03,250.02 L446.03,255.22" stroke="#1f9a1f" stroke-width="1.6" fill="none"/>
<path d="M454.5,260.51 L459.7,260.51 M457.1,257.91 L457.1,263.11" stroke="#1f9a1f" stroke-width="1.6" fill="none"/>
<path d="M465.57,268.11 L470.77,268.11 M468.17,265.51 L468.17,270.71" stroke="#1f9a1f" stroke-width="1.6" fill="none"/>
<path d="M476.64,275.51 L481.84,275.51 M479.24,272.91 L479.24,278.11" stroke="#1f9a1f" stroke-width="1.6" fill="none"/>
<path d="M487.71,282.34 L492.91,282.34 M490.31,279.74 L490.31,284.94" stroke="#1f9a1f" stroke-width="1.6" fill="none"/>
<path d="M498.78,289.68 L503.98,289.68 M501.38,287.08 L501.38,292.28" stroke="#1f9a1f" stroke-width="1.6" fill="none"/>
<path d="M509.84,295.79 L515.04,295.79 M512.44,293.19 L512.44,298.39" stroke="#1f9a1f" stroke-width="1.6" fill="none"/>
<path d="M520.91,302.19 L526.11,302.19 M523.51,299.59 L523.51,304.79" stroke="#1f9a1f" stroke-width="1.6" fill="none"/>
<path d="M531.98,307.64 L537.18,307.64 M534.58,305.04 L534.58,310.24" stroke="#1f9a1f" stroke-width="1.6" fill="none"/>
<path d="M543.05,313.37 L548.25,313.37 M545.65,310.77 L545.65,315.97" stroke="#1f9a1f" stroke-width="1.6" fill="none"/>
<path d="M554.12,317.58 L559.32,317.58 M556.72,314.98 L556.72,320.18" stroke="#1f9a1f" stroke-width="1.6" fill="none"/>
<path d="M565.19,322.02 L570.39,322.02 M567.79,319.42 L567.79,324.62" stroke="#1f9a1f" stroke-width="1.6" fill="none"/>
<path d="M576.26,325.18 L581.46,325.18 M578.86,322.58 L578.86,327.78" stroke="#1f9a1f" stroke-width="1.6" fill="none"/>
<path d="M587.33,328.42 L592.53,328.42 M589.93,325.82 L589.93,331.02" stroke="#1f9a1f" stroke-width="1.6" fill="none"/>
<path d="M598.4,331.5 L603.6,331.5 M601,328.9 L601,334.1" stroke="#1f9a1f" stroke-width="1.6" fill="none"/>
<path d="M56.2,10.99 L58.94,11.53 L61.68,12.03 L64.41,12.51 L67.15,12.96 L69.89,13.39 L72.63,13.8 L75.36,14.2 L78.1,14.58 L80.84,14.95 L83.58,15.32 L86.31,15.68 L89.05,16.04 L91.79,16.4 L94.53,16.76 L97.27,17.14 L100,17.52 L102.74,17.92 L105.48,18.33 L108.22,18.76 L110.95,19.21 L113.69,19.69 L116.43,20.19 L119.17,20.73 L121.9,21.3 L124.64,21.9 L127.38,22.55 L130.12,23.23 L132.86,23.95 L135.59,24.71 L138.33,25.5 L141.07,26.33 L143.81,27.2 L146.54,28.1 L149.28,29.04 L152.02,30.01 L154.76,31.02 L157.49,32.06 L160.23,33.14 L162.97,34.25 L165.71,35.39 L168.45,36.56 L171.18,37.77 L173.92,39 L176.66,40.27 L179.4,41.57 L182.13,42.9 L184.87,44.26 L187.61,45.64 L190.35,47.06 L193.08,48.51 L195.82,49.98 L198.56,51.48 L201.3,53.01 L204.04,54.56 L206.77,56.14 L209.51,57.74 L212.25,59.37 L214.99,61.03 L217.72,62.7 L220.46,64.41 L223.2,66.13 L225.94,67.88 L228.67,69.64 L231.41,71.43 L234.15,73.24 L236.89,75.08 L239.63,76.93 L242.36,78.8 L245.1,80.69 L247.84,82.59 L250.58,84.52 L253.31,86.46 L256.05,88.42 L258.79,90.39 L261.53,92.38 L264.26,94.39 L267,96.41 L269.74,98.45 L272.48,100.5 L275.22,102.56 L277.95,104.63 L280.69,106.72 L283.43,108.82 L286.17,110.93 L288.9,113.05 L291.64,115.18 L294.38,117.32 L297.12,119.47 L299.85,121.63 L302.59,123.8 L305.33,125.97 L308.07,128.16 L310.81,130.34 L313.54,132.54 L316.28,134.74 L319.02,136.94 L321.76,139.15 L324.49,141.37 L327.23,143.59 L329.97,145.81 L332.71,148.03 L335.44,150.25 L338.18,152.48 L340.92,154.71 L343.66,156.94 L346.39,159.17 L349.13,161.4 L351.87,163.62 L354.61,165.85 L357.35,168.07 L360.08,170.29 L362.82,172.51 L365.56,174.73 L368.3,176.94 L371.03,179.15 L373.77,181.35 L376.51,183.54 L379.25,185.73 L381.98,187.92 L384.72,190.1 L387.46,192.27 L390.2,194.43 L392.94,196.59 L395.67,198.75 L398.41,200.9 L401.15,203.04 L403.89,205.18 L406.62,207.32 L409.36,209.45 L412.1,211.57 L414.84,213.7 L417.57,215.82 L420.31,217.94 L423.05,220.05 L425.79,222.16 L428.53,224.27 L431.26,226.38 L434,228.49 L436.74,230.59 L439.48,232.69 L442.21,234.79 L444.95,236.89 L447.69,238.99 L450.43,241.09 L453.16,243.19 L455.9,245.29 L458.64,247.39 L461.38,249.49 L464.12,251.59 L466.85,253.69 L469.59,255.8 L472.33,257.9 L475.07,260.01 L477.8,262.12 L480.54,264.23 L483.28,266.34 L486.02,268.46 L488.75,270.58 L491.49,272.7 L494.23,274.83 L496.97,276.95 L499.71,279.09 L502.44,281.23 L505.18,283.37 L507.92,285.52 L510.66,287.67 L513.39,289.83 L516.13,291.99 L518.87,294.16 L521.61,296.33 L524.34,298.52 L527.08,300.7 L529.82,302.9 L532.56,305.1 L535.3,307.31 L538.03,309.52 L540.77,311.75 L543.51,313.98 L546.25,316.22 L548.98,318.46 L551.72,320.7 L554.46,322.92 L557.2,325.11 L559.93,327.25 L562.67,329.33 L565.41,331.35 L568.15,333.28 L570.89,335.12 L573.62,336.85 L576.36,338.46 L579.1,339.94 L581.84,341.29 L584.57,342.5 L587.31,343.61 L590.05,344.65 L592.79,345.62 L595.52,346.55 L598.26,347.47 L601,348.39" fill="none" stroke="#8a1a1a" stroke-width="1.3" stroke-linejoin="round" />
<rect x="56.25" y="7.4" width="4.7" height="4.2" stroke="#9e1616" stroke-width="1.35" fill="none"/>
<rect x="67.32" y="8.64" width="4.7" height="4.2" stroke="#9e1616" stroke-width="1.35" fill="none"/>
<rect x="78.39" y="10.49" width="4.7" height="4.2" stroke="#9e1616" stroke-width="1.35" fill="none"/>
<rect x="89.46" y="13.38" width="4.7" height="4.2" stroke="#9e1616" stroke-width="1.35" fill="none"/>
<rect x="100.53" y="16.16" width="4.7" height="4.2" stroke="#9e1616" stroke-width="1.35" fill="none"/>
<rect x="111.6" y="17.42" width="4.7" height="4.2" stroke="#9e1616" stroke-width="1.35" fill="none"/>
<rect x="122.67" y="21.21" width="4.7" height="4.2" stroke="#9e1616" stroke-width="1.35" fill="none"/>
<rect x="133.74" y="22.99" width="4.7" height="4.2" stroke="#9e1616" stroke-width="1.35" fill="none"/>
<rect x="144.81" y="26.59" width="4.7" height="4.2" stroke="#9e1616" stroke-width="1.35" fill="none"/>
<rect x="155.87" y="29.92" width="4.7" height="4.2" stroke="#9e1616" stroke-width="1.35" fill="none"/>
<rect x="166.94" y="34.08" width="4.7" height="4.2" stroke="#9e1616" stroke-width="1.35" fill="none"/>
<rect x="178.01" y="38.49" width="4.7" height="4.2" stroke="#9e1616" stroke-width="1.35" fill="none"/>
<rect x="189.08" y="45.62" width="4.7" height="4.2" stroke="#9e1616" stroke-width="1.35" fill="none"/>
<rect x="200.15" y="51.3" width="4.7" height="4.2" stroke="#9e1616" stroke-width="1.35" fill="none"/>
<rect x="211.22" y="57.93" width="4.7" height="4.2" stroke="#9e1616" stroke-width="1.35" fill="none"/>
<rect x="222.29" y="64.8" width="4.7" height="4.2" stroke="#9e1616" stroke-width="1.35" fill="none"/>
<rect x="233.36" y="72.4" width="4.7" height="4.2" stroke="#9e1616" stroke-width="1.35" fill="none"/>
<rect x="244.43" y="79.62" width="4.7" height="4.2" stroke="#9e1616" stroke-width="1.35" fill="none"/>
<rect x="255.5" y="87.56" width="4.7" height="4.2" stroke="#9e1616" stroke-width="1.35" fill="none"/>
<rect x="266.57" y="95.36" width="4.7" height="4.2" stroke="#9e1616" stroke-width="1.35" fill="none"/>
<rect x="277.64" y="104.56" width="4.7" height="4.2" stroke="#9e1616" stroke-width="1.35" fill="none"/>
<rect x="288.71" y="113.68" width="4.7" height="4.2" stroke="#9e1616" stroke-width="1.35" fill="none"/>
<rect x="299.78" y="122.14" width="4.7" height="4.2" stroke="#9e1616" stroke-width="1.35" fill="none"/>
<rect x="310.85" y="131.04" width="4.7" height="4.2" stroke="#9e1616" stroke-width="1.35" fill="none"/>
<rect x="321.92" y="140.05" width="4.7" height="4.2" stroke="#9e1616" stroke-width="1.35" fill="none"/>
<rect x="332.98" y="148.65" width="4.7" height="4.2" stroke="#9e1616" stroke-width="1.35" fill="none"/>
<rect x="344.05" y="157.25" width="4.7" height="4.2" stroke="#9e1616" stroke-width="1.35" fill="none"/>
<rect x="355.12" y="166.2" width="4.7" height="4.2" stroke="#9e1616" stroke-width="1.35" fill="none"/>
<rect x="366.19" y="175.29" width="4.7" height="4.2" stroke="#9e1616" stroke-width="1.35" fill="none"/>
<rect x="377.26" y="183.29" width="4.7" height="4.2" stroke="#9e1616" stroke-width="1.35" fill="none"/>
<rect x="388.33" y="192.43" width="4.7" height="4.2" stroke="#9e1616" stroke-width="1.35" fill="none"/>
<rect x="399.4" y="201.28" width="4.7" height="4.2" stroke="#9e1616" stroke-width="1.35" fill="none"/>
<rect x="410.47" y="209.64" width="4.7" height="4.2" stroke="#9e1616" stroke-width="1.35" fill="none"/>
<rect x="421.54" y="218.31" width="4.7" height="4.2" stroke="#9e1616" stroke-width="1.35" fill="none"/>
<rect x="432.61" y="226.45" width="4.7" height="4.2" stroke="#9e1616" stroke-width="1.35" fill="none"/>
<rect x="443.68" y="235.67" width="4.7" height="4.2" stroke="#9e1616" stroke-width="1.35" fill="none"/>
<rect x="454.75" y="244.26" width="4.7" height="4.2" stroke="#9e1616" stroke-width="1.35" fill="none"/>
<rect x="465.82" y="252.83" width="4.7" height="4.2" stroke="#9e1616" stroke-width="1.35" fill="none"/>
<rect x="476.89" y="260.8" width="4.7" height="4.2" stroke="#9e1616" stroke-width="1.35" fill="none"/>
<rect x="487.96" y="270.67" width="4.7" height="4.2" stroke="#9e1616" stroke-width="1.35" fill="none"/>
<rect x="499.03" y="279.78" width="4.7" height="4.2" stroke="#9e1616" stroke-width="1.35" fill="none"/>
<rect x="510.09" y="288.56" width="4.7" height="4.2" stroke="#9e1616" stroke-width="1.35" fill="none"/>
<rect x="521.16" y="296.37" width="4.7" height="4.2" stroke="#9e1616" stroke-width="1.35" fill="none"/>
<rect x="532.23" y="305.44" width="4.7" height="4.2" stroke="#9e1616" stroke-width="1.35" fill="none"/>
<rect x="543.3" y="314.82" width="4.7" height="4.2" stroke="#9e1616" stroke-width="1.35" fill="none"/>
<rect x="554.37" y="325.16" width="4.7" height="4.2" stroke="#9e1616" stroke-width="1.35" fill="none"/>
<rect x="565.44" y="334.04" width="4.7" height="4.2" stroke="#9e1616" stroke-width="1.35" fill="none"/>
<rect x="576.51" y="343.52" width="4.7" height="4.2" stroke="#9e1616" stroke-width="1.35" fill="none"/>
<rect x="587.58" y="351.9" width="4.7" height="4.2" stroke="#9e1616" stroke-width="1.35" fill="none"/>
<rect x="598.65" y="358.1" width="4.7" height="4.2" stroke="#9e1616" stroke-width="1.35" fill="none"/>
<path d="M58.7,20.11 L61.43,20.11 L64.15,20.12 L66.88,20.14 L69.6,20.18 L72.33,20.24 L75.05,20.31 L77.78,20.4 L80.5,20.51 L83.23,20.64 L85.95,20.8 L88.68,20.97 L91.4,21.16 L94.13,21.38 L96.85,21.62 L99.58,21.88 L102.3,22.17 L105.03,22.48 L107.75,22.82 L110.48,23.18 L113.2,23.57 L115.93,24 L118.65,24.45 L121.38,24.92 L124.1,25.43 L126.83,25.98 L129.55,26.55 L132.28,27.15 L135,27.79 L137.73,28.46 L140.45,29.17 L143.18,29.91 L145.9,30.68 L148.63,31.49 L151.35,32.33 L154.08,33.2 L156.8,34.11 L159.53,35.05 L162.25,36.02 L164.98,37.03 L167.71,38.07 L170.43,39.14 L173.16,40.24 L175.88,41.37 L178.61,42.54 L181.33,43.74 L184.06,44.97 L186.78,46.23 L189.51,47.53 L192.23,48.85 L194.96,50.21 L197.68,51.59 L200.41,53.01 L203.13,54.46 L205.86,55.94 L208.58,57.44 L211.31,58.98 L214.03,60.55 L216.76,62.14 L219.48,63.77 L222.21,65.42 L224.93,67.09 L227.66,68.79 L230.38,70.52 L233.11,72.28 L235.83,74.05 L238.56,75.85 L241.28,77.68 L244.01,79.53 L246.73,81.4 L249.46,83.29 L252.18,85.2 L254.91,87.14 L257.63,89.09 L260.36,91.06 L263.08,93.06 L265.81,95.07 L268.53,97.1 L271.26,99.14 L273.98,101.21 L276.71,103.29 L279.44,105.38 L282.16,107.49 L284.89,109.62 L287.61,111.76 L290.34,113.91 L293.06,116.08 L295.79,118.26 L298.51,120.45 L301.24,122.66 L303.96,124.87 L306.69,127.1 L309.41,129.33 L312.14,131.58 L314.86,133.83 L317.59,136.09 L320.31,138.36 L323.04,140.64 L325.76,142.92 L328.49,145.21 L331.21,147.5 L333.94,149.8 L336.66,152.11 L339.39,154.42 L342.11,156.73 L344.84,159.05 L347.56,161.36 L350.29,163.69 L353.01,166.01 L355.74,168.34 L358.46,170.67 L361.19,173 L363.91,175.33 L366.64,177.66 L369.36,180 L372.09,182.33 L374.81,184.67 L377.54,187 L380.26,189.34 L382.99,191.67 L385.72,194 L388.44,196.34 L391.17,198.67 L393.89,200.99 L396.62,203.32 L399.34,205.64 L402.07,207.96 L404.79,210.28 L407.52,212.59 L410.24,214.9 L412.97,217.21 L415.69,219.51 L418.42,221.81 L421.14,224.1 L423.87,226.39 L426.59,228.67 L429.32,230.95 L432.04,233.22 L434.77,235.48 L437.49,237.74 L440.22,239.99 L442.94,242.23 L445.67,244.46 L448.39,246.69 L451.12,248.91 L453.84,251.12 L456.57,253.32 L459.29,255.51 L462.02,257.7 L464.74,259.87 L467.47,262.03 L470.19,264.18 L472.92,266.33 L475.64,268.46 L478.37,270.58 L481.09,272.68 L483.82,274.78 L486.54,276.87 L489.27,278.94 L491.99,281 L494.72,283.04 L497.45,285.07 L500.17,287.09 L502.9,289.1 L505.62,291.09 L508.35,293.07 L511.07,295.03 L513.8,296.97 L516.52,298.91 L519.25,300.82 L521.97,302.72 L524.7,304.6 L527.42,306.47 L530.15,308.32 L532.87,310.15 L535.6,311.96 L538.32,313.76 L541.05,315.54 L543.77,317.3 L546.5,319.04 L549.22,320.76 L551.95,322.47 L554.67,324.15 L557.4,325.81 L560.12,327.45 L562.85,329.08 L565.57,330.68 L568.3,332.26 L571.02,333.82 L573.75,335.35 L576.47,336.87 L579.2,338.36 L581.92,339.83 L584.65,341.28 L587.37,342.7 L590.1,344.1 L592.82,345.48 L595.55,346.83 L598.27,348.16 L601,349.46" fill="none" stroke="#1515ff" stroke-width="1.4" stroke-linejoin="round" />
<path d="M56.1,16.82 L61.1,16.82 L58.6,21.07 Z" stroke="#1515ff" stroke-width="1.25" fill="none"/>
<path d="M67.17,18.54 L72.17,18.54 L69.67,22.79 Z" stroke="#1515ff" stroke-width="1.25" fill="none"/>
<path d="M78.24,19.35 L83.24,19.35 L80.74,23.6 Z" stroke="#1515ff" stroke-width="1.25" fill="none"/>
<path d="M89.31,20.02 L94.31,20.02 L91.81,24.27 Z" stroke="#1515ff" stroke-width="1.25" fill="none"/>
<path d="M100.38,21.1 L105.38,21.1 L102.88,25.35 Z" stroke="#1515ff" stroke-width="1.25" fill="none"/>
<path d="M111.45,22.57 L116.45,22.57 L113.95,26.82 Z" stroke="#1515ff" stroke-width="1.25" fill="none"/>
<path d="M122.52,23.97 L127.52,23.97 L125.02,28.22 Z" stroke="#1515ff" stroke-width="1.25" fill="none"/>
<path d="M133.59,26.19 L138.59,26.19 L136.09,30.44 Z" stroke="#1515ff" stroke-width="1.25" fill="none"/>
<path d="M144.66,29.31 L149.66,29.31 L147.16,33.56 Z" stroke="#1515ff" stroke-width="1.25" fill="none"/>
<path d="M155.72,32.32 L160.72,32.32 L158.22,36.57 Z" stroke="#1515ff" stroke-width="1.25" fill="none"/>
<path d="M166.79,35.6 L171.79,35.6 L169.29,39.85 Z" stroke="#1515ff" stroke-width="1.25" fill="none"/>
<path d="M177.86,40.01 L182.86,40.01 L180.36,44.26 Z" stroke="#1515ff" stroke-width="1.25" fill="none"/>
<path d="M188.93,45.85 L193.93,45.85 L191.43,50.1 Z" stroke="#1515ff" stroke-width="1.25" fill="none"/>
<path d="M200,51.53 L205,51.53 L202.5,55.78 Z" stroke="#1515ff" stroke-width="1.25" fill="none"/>
<path d="M211.07,58.16 L216.07,58.16 L213.57,62.41 Z" stroke="#1515ff" stroke-width="1.25" fill="none"/>
<path d="M222.14,65.02 L227.14,65.02 L224.64,69.27 Z" stroke="#1515ff" stroke-width="1.25" fill="none"/>
<path d="M233.21,72.63 L238.21,72.63 L235.71,76.88 Z" stroke="#1515ff" stroke-width="1.25" fill="none"/>
<path d="M244.28,79.85 L249.28,79.85 L246.78,84.1 Z" stroke="#1515ff" stroke-width="1.25" fill="none"/>
<path d="M255.35,87.79 L260.35,87.79 L257.85,92.04 Z" stroke="#1515ff" stroke-width="1.25" fill="none"/>
<path d="M266.42,95.59 L271.42,95.59 L268.92,99.84 Z" stroke="#1515ff" stroke-width="1.25" fill="none"/>
<path d="M277.49,104.78 L282.49,104.78 L279.99,109.03 Z" stroke="#1515ff" stroke-width="1.25" fill="none"/>
<path d="M288.56,113.9 L293.56,113.9 L291.06,118.15 Z" stroke="#1515ff" stroke-width="1.25" fill="none"/>
<path d="M299.63,122.37 L304.63,122.37 L302.13,126.62 Z" stroke="#1515ff" stroke-width="1.25" fill="none"/>
<path d="M310.7,131.36 L315.7,131.36 L313.2,135.61 Z" stroke="#1515ff" stroke-width="1.25" fill="none"/>
<path d="M321.77,140.28 L326.77,140.28 L324.27,144.53 Z" stroke="#1515ff" stroke-width="1.25" fill="none"/>
<path d="M332.83,149.07 L337.83,149.07 L335.33,153.32 Z" stroke="#1515ff" stroke-width="1.25" fill="none"/>
<path d="M343.9,157.97 L348.9,157.97 L346.4,162.22 Z" stroke="#1515ff" stroke-width="1.25" fill="none"/>
<path d="M354.97,167.42 L359.97,167.42 L357.47,171.67 Z" stroke="#1515ff" stroke-width="1.25" fill="none"/>
<path d="M366.04,176.51 L371.04,176.51 L368.54,180.76 Z" stroke="#1515ff" stroke-width="1.25" fill="none"/>
<path d="M377.11,187.51 L382.11,187.51 L379.61,191.76 Z" stroke="#1515ff" stroke-width="1.25" fill="none"/>
<path d="M388.18,196.16 L393.18,196.16 L390.68,200.41 Z" stroke="#1515ff" stroke-width="1.25" fill="none"/>
<path d="M399.25,205.3 L404.25,205.3 L401.75,209.55 Z" stroke="#1515ff" stroke-width="1.25" fill="none"/>
<path d="M410.32,214.76 L415.32,214.76 L412.82,219.01 Z" stroke="#1515ff" stroke-width="1.25" fill="none"/>
<path d="M421.39,223.6 L426.39,223.6 L423.89,227.85 Z" stroke="#1515ff" stroke-width="1.25" fill="none"/>
<path d="M432.46,233.86 L437.46,233.86 L434.96,238.11 Z" stroke="#1515ff" stroke-width="1.25" fill="none"/>
<path d="M443.53,242.92 L448.53,242.92 L446.03,247.17 Z" stroke="#1515ff" stroke-width="1.25" fill="none"/>
<path d="M454.6,251.98 L459.6,251.98 L457.1,256.23 Z" stroke="#1515ff" stroke-width="1.25" fill="none"/>
<path d="M465.67,260.47 L470.67,260.47 L468.17,264.72 Z" stroke="#1515ff" stroke-width="1.25" fill="none"/>
<path d="M476.74,268.59 L481.74,268.59 L479.24,272.84 Z" stroke="#1515ff" stroke-width="1.25" fill="none"/>
<path d="M487.81,277.19 L492.81,277.19 L490.31,281.44 Z" stroke="#1515ff" stroke-width="1.25" fill="none"/>
<path d="M498.88,286.21 L503.88,286.21 L501.38,290.46 Z" stroke="#1515ff" stroke-width="1.25" fill="none"/>
<path d="M509.94,293.84 L514.94,293.84 L512.44,298.09 Z" stroke="#1515ff" stroke-width="1.25" fill="none"/>
<path d="M521.01,302.28 L526.01,302.28 L523.51,306.53 Z" stroke="#1515ff" stroke-width="1.25" fill="none"/>
<path d="M532.08,310.2 L537.08,310.2 L534.58,314.45 Z" stroke="#1515ff" stroke-width="1.25" fill="none"/>
<path d="M543.15,317.63 L548.15,317.63 L545.65,321.88 Z" stroke="#1515ff" stroke-width="1.25" fill="none"/>
<path d="M554.22,325.04 L559.22,325.04 L556.72,329.29 Z" stroke="#1515ff" stroke-width="1.25" fill="none"/>
<path d="M565.29,330.76 L570.29,330.76 L567.79,335.01 Z" stroke="#1515ff" stroke-width="1.25" fill="none"/>
<path d="M576.36,336.4 L581.36,336.4 L578.86,340.65 Z" stroke="#1515ff" stroke-width="1.25" fill="none"/>
<path d="M587.43,341.01 L592.43,341.01 L589.93,345.26 Z" stroke="#1515ff" stroke-width="1.25" fill="none"/>
<path d="M598.5,346.62 L603.5,346.62 L601,350.88 Z" stroke="#1515ff" stroke-width="1.25" fill="none"/>
<text x="45.2" y="43.6" font-size="18" font-weight="normal" text-anchor="end" textLength="25.8" lengthAdjust="spacingAndGlyphs" fill="#000" stroke="#000" stroke-width="0.3">100</text>
<text x="45.2" y="223.3" font-size="18" font-weight="normal" text-anchor="end" textLength="16.8" lengthAdjust="spacingAndGlyphs" fill="#000" stroke="#000" stroke-width="0.3">10</text>
<text x="613.7" y="39" font-size="18" font-weight="bold" text-anchor="start" textLength="17.7" lengthAdjust="spacingAndGlyphs" fill="#111" >60</text>
<text x="613.7" y="90.8" font-size="18" font-weight="bold" text-anchor="start" textLength="17.7" lengthAdjust="spacingAndGlyphs" fill="#111" >50</text>
<text x="613.7" y="143" font-size="18" font-weight="bold" text-anchor="start" textLength="17.7" lengthAdjust="spacingAndGlyphs" fill="#111" >40</text>
<text x="613.7" y="194.8" font-size="18" font-weight="bold" text-anchor="start" textLength="17.7" lengthAdjust="spacingAndGlyphs" fill="#111" >30</text>
<text x="613.7" y="247" font-size="18" font-weight="bold" text-anchor="start" textLength="17.7" lengthAdjust="spacingAndGlyphs" fill="#111" >20</text>
<text x="613.7" y="298.6" font-size="18" font-weight="bold" text-anchor="start" textLength="17.7" lengthAdjust="spacingAndGlyphs" fill="#111" >10</text>
<text x="613.7" y="350" font-size="18" font-weight="bold" text-anchor="start" textLength="8.8" lengthAdjust="spacingAndGlyphs" fill="#111" >0</text>
<text transform="translate(54.55,394.8) scale(1.45,1)" x="0" y="0" font-size="13.3" font-weight="bold" text-anchor="middle" textLength="25.86" lengthAdjust="spacing" fill="#1a1a1a">0.01</text>
<text transform="translate(135.2,394.8) scale(1.45,1)" x="0" y="0" font-size="13.3" font-weight="bold" text-anchor="middle" textLength="16.83" lengthAdjust="spacing" fill="#1a1a1a">0.1</text>
<text transform="translate(210.5,394.8) scale(1.45,1)" x="0" y="0" font-size="13.3" font-weight="bold" text-anchor="middle" fill="#1a1a1a">1</text>
<text transform="translate(290.7,394.8) scale(1.45,1)" x="0" y="0" font-size="13.3" font-weight="bold" text-anchor="middle" textLength="14.34" lengthAdjust="spacing" fill="#1a1a1a">10</text>
<text transform="translate(367.8,394.8) scale(1.45,1)" x="0" y="0" font-size="13.3" font-weight="bold" text-anchor="middle" textLength="23.66" lengthAdjust="spacing" fill="#1a1a1a">100</text>
<text transform="translate(449.3,394.8) scale(1.45,1)" x="0" y="0" font-size="13.3" font-weight="bold" text-anchor="middle" textLength="29.24" lengthAdjust="spacing" fill="#1a1a1a">1000</text>
<text transform="translate(523.8,394.8) scale(1.45,1)" x="0" y="0" font-size="13.3" font-weight="bold" text-anchor="middle" textLength="36.41" lengthAdjust="spacing" fill="#1a1a1a">10000</text>
<text transform="translate(601.8,394.8) scale(1.45,1)" x="0" y="0" font-size="13.3" font-weight="bold" text-anchor="middle" textLength="35.31" lengthAdjust="spacing" fill="#1a1a1a">1E+5</text>
<text x="323.2" y="413.2" font-size="13" font-weight="bold" text-anchor="middle" textLength="88.3" lengthAdjust="spacingAndGlyphs" fill="#111" >Frequency (Hz)</text>
<text x="317.3" y="32.8" font-size="19" font-weight="bold" text-anchor="middle" textLength="24" lengthAdjust="spacingAndGlyphs" fill="#111" >(a)</text>
<text transform="translate(15.2,181.3) rotate(-90)" font-size="15.5" font-weight="bold" text-anchor="middle" textLength="80" lengthAdjust="spacingAndGlyphs" fill="#111">Z / (Ω cm<tspan font-size="10" dy="-6">2</tspan><tspan dy="6">)</tspan></text>
<text transform="translate(648.9,193.8) rotate(-90)" font-size="17" font-weight="bold" text-anchor="middle" textLength="71" lengthAdjust="spacingAndGlyphs" fill="#111">-Phase (°)</text>
<rect x="257.9" y="270.2" width="4" height="4" fill="#111"/>
<text x="277.5" y="277.9" font-size="16.8" font-weight="bold" text-anchor="start" textLength="63.4" lengthAdjust="spacingAndGlyphs" fill="#111" >1 M HCl</text>
<path d="M257.2,288.7 L261.8,293.5 M257.2,293.5 L261.8,288.7" stroke="#ff2a2a" stroke-width="1" fill="none"/>
<text x="277.5" y="296.8" font-size="16.8" font-weight="bold" text-anchor="start" textLength="61" lengthAdjust="spacingAndGlyphs" fill="#111" >100 ppm</text>
<path d="M257.6,311 L262.4,311 M260,308.6 L260,313.4" stroke="#1f9a1f" stroke-width="1.4" fill="none"/>
<text x="277.5" y="316.7" font-size="16.8" font-weight="bold" text-anchor="start" textLength="62" lengthAdjust="spacingAndGlyphs" fill="#111" >300 ppm</text>
<path d="M257.4,332 L262,332 L259.7,328 Z" stroke="#1515ff" stroke-width="1.1" fill="none"/>
<text x="277.5" y="335.9" font-size="16.8" font-weight="bold" text-anchor="start" textLength="62" lengthAdjust="spacingAndGlyphs" fill="#111" >400 ppm</text>
<rect x="256.3" y="346.5" width="4" height="4" stroke="#6a1d3a" stroke-width="1.1" fill="none"/>
<text x="277.5" y="356.6" font-size="16.8" font-weight="bold" text-anchor="start" textLength="61" lengthAdjust="spacingAndGlyphs" fill="#111" >500 ppm</text>
<line x1="63" y1="657.8" x2="70" y2="657.8" stroke="#2a2a2a" stroke-width="1.3"/>
<line x1="63" y1="493.8" x2="70" y2="493.8" stroke="#2a2a2a" stroke-width="1.3"/>
<line x1="63" y1="772.43" x2="66.5" y2="772.43" stroke="#2a2a2a" stroke-width="1.2"/>
<line x1="63" y1="743.55" x2="66.5" y2="743.55" stroke="#2a2a2a" stroke-width="1.2"/>
<line x1="63" y1="723.06" x2="66.5" y2="723.06" stroke="#2a2a2a" stroke-width="1.2"/>
<line x1="63" y1="707.17" x2="66.5" y2="707.17" stroke="#2a2a2a" stroke-width="1.2"/>
<line x1="63" y1="694.18" x2="66.5" y2="694.18" stroke="#2a2a2a" stroke-width="1.2"/>
<line x1="63" y1="683.2" x2="66.5" y2="683.2" stroke="#2a2a2a" stroke-width="1.2"/>
<line x1="63" y1="673.69" x2="66.5" y2="673.69" stroke="#2a2a2a" stroke-width="1.2"/>
<line x1="63" y1="665.3" x2="66.5" y2="665.3" stroke="#2a2a2a" stroke-width="1.2"/>
<line x1="63" y1="608.43" x2="66.5" y2="608.43" stroke="#2a2a2a" stroke-width="1.2"/>
<line x1="63" y1="579.55" x2="66.5" y2="579.55" stroke="#2a2a2a" stroke-width="1.2"/>
<line x1="63" y1="559.06" x2="66.5" y2="559.06" stroke="#2a2a2a" stroke-width="1.2"/>
<line x1="63" y1="543.17" x2="66.5" y2="543.17" stroke="#2a2a2a" stroke-width="1.2"/>
<line x1="63" y1="530.18" x2="66.5" y2="530.18" stroke="#2a2a2a" stroke-width="1.2"/>
<line x1="63" y1="519.2" x2="66.5" y2="519.2" stroke="#2a2a2a" stroke-width="1.2"/>
<line x1="63" y1="509.69" x2="66.5" y2="509.69" stroke="#2a2a2a" stroke-width="1.2"/>
<line x1="63" y1="501.3" x2="66.5" y2="501.3" stroke="#2a2a2a" stroke-width="1.2"/>
<line x1="614.3" y1="827.55" x2="617.3" y2="827.55" stroke="#2a2a2a" stroke-width="1.45"/>
<line x1="614.3" y1="822.66" x2="617.3" y2="822.66" stroke="#2a2a2a" stroke-width="1.45"/>
<line x1="614.3" y1="817.76" x2="617.3" y2="817.76" stroke="#2a2a2a" stroke-width="1.45"/>
<line x1="614.3" y1="812.87" x2="617.3" y2="812.87" stroke="#2a2a2a" stroke-width="1.45"/>
<line x1="614.3" y1="807.98" x2="617.3" y2="807.98" stroke="#2a2a2a" stroke-width="1.45"/>
<line x1="614.3" y1="803.09" x2="617.3" y2="803.09" stroke="#2a2a2a" stroke-width="1.45"/>
<line x1="614.3" y1="798.19" x2="617.3" y2="798.19" stroke="#2a2a2a" stroke-width="1.45"/>
<line x1="610.3" y1="793.3" x2="617.3" y2="793.3" stroke="#2a2a2a" stroke-width="1.45"/>
<line x1="614.3" y1="788.41" x2="617.3" y2="788.41" stroke="#2a2a2a" stroke-width="1.45"/>
<line x1="614.3" y1="783.51" x2="617.3" y2="783.51" stroke="#2a2a2a" stroke-width="1.45"/>
<line x1="614.3" y1="778.62" x2="617.3" y2="778.62" stroke="#2a2a2a" stroke-width="1.45"/>
<line x1="614.3" y1="773.73" x2="617.3" y2="773.73" stroke="#2a2a2a" stroke-width="1.45"/>
<line x1="614.3" y1="768.83" x2="617.3" y2="768.83" stroke="#2a2a2a" stroke-width="1.45"/>
<line x1="614.3" y1="763.94" x2="617.3" y2="763.94" stroke="#2a2a2a" stroke-width="1.45"/>
<line x1="614.3" y1="759.05" x2="617.3" y2="759.05" stroke="#2a2a2a" stroke-width="1.45"/>
<line x1="614.3" y1="754.16" x2="617.3" y2="754.16" stroke="#2a2a2a" stroke-width="1.45"/>
<line x1="614.3" y1="749.26" x2="617.3" y2="749.26" stroke="#2a2a2a" stroke-width="1.45"/>
<line x1="610.3" y1="744.37" x2="617.3" y2="744.37" stroke="#2a2a2a" stroke-width="1.45"/>
<line x1="614.3" y1="739.48" x2="617.3" y2="739.48" stroke="#2a2a2a" stroke-width="1.45"/>
<line x1="614.3" y1="734.58" x2="617.3" y2="734.58" stroke="#2a2a2a" stroke-width="1.45"/>
<line x1="614.3" y1="729.69" x2="617.3" y2="729.69" stroke="#2a2a2a" stroke-width="1.45"/>
<line x1="614.3" y1="724.8" x2="617.3" y2="724.8" stroke="#2a2a2a" stroke-width="1.45"/>
<line x1="614.3" y1="719.9" x2="617.3" y2="719.9" stroke="#2a2a2a" stroke-width="1.45"/>
<line x1="614.3" y1="715.01" x2="617.3" y2="715.01" stroke="#2a2a2a" stroke-width="1.45"/>
<line x1="614.3" y1="710.12" x2="617.3" y2="710.12" stroke="#2a2a2a" stroke-width="1.45"/>
<line x1="614.3" y1="705.23" x2="617.3" y2="705.23" stroke="#2a2a2a" stroke-width="1.45"/>
<line x1="614.3" y1="700.33" x2="617.3" y2="700.33" stroke="#2a2a2a" stroke-width="1.45"/>
<line x1="610.3" y1="695.44" x2="617.3" y2="695.44" stroke="#2a2a2a" stroke-width="1.45"/>
<line x1="614.3" y1="690.55" x2="617.3" y2="690.55" stroke="#2a2a2a" stroke-width="1.45"/>
<line x1="614.3" y1="685.65" x2="617.3" y2="685.65" stroke="#2a2a2a" stroke-width="1.45"/>
<line x1="614.3" y1="680.76" x2="617.3" y2="680.76" stroke="#2a2a2a" stroke-width="1.45"/>
<line x1="614.3" y1="675.87" x2="617.3" y2="675.87" stroke="#2a2a2a" stroke-width="1.45"/>
<line x1="614.3" y1="670.97" x2="617.3" y2="670.97" stroke="#2a2a2a" stroke-width="1.45"/>
<line x1="614.3" y1="666.08" x2="617.3" y2="666.08" stroke="#2a2a2a" stroke-width="1.45"/>
<line x1="614.3" y1="661.19" x2="617.3" y2="661.19" stroke="#2a2a2a" stroke-width="1.45"/>
<line x1="614.3" y1="656.3" x2="617.3" y2="656.3" stroke="#2a2a2a" stroke-width="1.45"/>
<line x1="614.3" y1="651.4" x2="617.3" y2="651.4" stroke="#2a2a2a" stroke-width="1.45"/>
<line x1="610.3" y1="646.51" x2="617.3" y2="646.51" stroke="#2a2a2a" stroke-width="1.45"/>
<line x1="614.3" y1="641.62" x2="617.3" y2="641.62" stroke="#2a2a2a" stroke-width="1.45"/>
<line x1="614.3" y1="636.72" x2="617.3" y2="636.72" stroke="#2a2a2a" stroke-width="1.45"/>
<line x1="614.3" y1="631.83" x2="617.3" y2="631.83" stroke="#2a2a2a" stroke-width="1.45"/>
<line x1="614.3" y1="626.94" x2="617.3" y2="626.94" stroke="#2a2a2a" stroke-width="1.45"/>
<line x1="614.3" y1="622.04" x2="617.3" y2="622.04" stroke="#2a2a2a" stroke-width="1.45"/>
<line x1="614.3" y1="617.15" x2="617.3" y2="617.15" stroke="#2a2a2a" stroke-width="1.45"/>
<line x1="614.3" y1="612.26" x2="617.3" y2="612.26" stroke="#2a2a2a" stroke-width="1.45"/>
<line x1="614.3" y1="607.37" x2="617.3" y2="607.37" stroke="#2a2a2a" stroke-width="1.45"/>
<line x1="614.3" y1="602.47" x2="617.3" y2="602.47" stroke="#2a2a2a" stroke-width="1.45"/>
<line x1="610.3" y1="597.58" x2="617.3" y2="597.58" stroke="#2a2a2a" stroke-width="1.45"/>
<line x1="614.3" y1="592.69" x2="617.3" y2="592.69" stroke="#2a2a2a" stroke-width="1.45"/>
<line x1="614.3" y1="587.79" x2="617.3" y2="587.79" stroke="#2a2a2a" stroke-width="1.45"/>
<line x1="614.3" y1="582.9" x2="617.3" y2="582.9" stroke="#2a2a2a" stroke-width="1.45"/>
<line x1="614.3" y1="578.01" x2="617.3" y2="578.01" stroke="#2a2a2a" stroke-width="1.45"/>
<line x1="614.3" y1="573.12" x2="617.3" y2="573.12" stroke="#2a2a2a" stroke-width="1.45"/>
<line x1="614.3" y1="568.22" x2="617.3" y2="568.22" stroke="#2a2a2a" stroke-width="1.45"/>
<line x1="614.3" y1="563.33" x2="617.3" y2="563.33" stroke="#2a2a2a" stroke-width="1.45"/>
<line x1="614.3" y1="558.44" x2="617.3" y2="558.44" stroke="#2a2a2a" stroke-width="1.45"/>
<line x1="614.3" y1="553.54" x2="617.3" y2="553.54" stroke="#2a2a2a" stroke-width="1.45"/>
<line x1="610.3" y1="548.65" x2="617.3" y2="548.65" stroke="#2a2a2a" stroke-width="1.45"/>
<line x1="614.3" y1="543.76" x2="617.3" y2="543.76" stroke="#2a2a2a" stroke-width="1.45"/>
<line x1="614.3" y1="538.86" x2="617.3" y2="538.86" stroke="#2a2a2a" stroke-width="1.45"/>
<line x1="614.3" y1="533.97" x2="617.3" y2="533.97" stroke="#2a2a2a" stroke-width="1.45"/>
<line x1="614.3" y1="529.08" x2="617.3" y2="529.08" stroke="#2a2a2a" stroke-width="1.45"/>
<line x1="614.3" y1="524.18" x2="617.3" y2="524.18" stroke="#2a2a2a" stroke-width="1.45"/>
<line x1="614.3" y1="519.29" x2="617.3" y2="519.29" stroke="#2a2a2a" stroke-width="1.45"/>
<line x1="614.3" y1="514.4" x2="617.3" y2="514.4" stroke="#2a2a2a" stroke-width="1.45"/>
<line x1="614.3" y1="509.51" x2="617.3" y2="509.51" stroke="#2a2a2a" stroke-width="1.45"/>
<line x1="614.3" y1="504.61" x2="617.3" y2="504.61" stroke="#2a2a2a" stroke-width="1.45"/>
<line x1="610.3" y1="499.72" x2="617.3" y2="499.72" stroke="#2a2a2a" stroke-width="1.45"/>
<line x1="614.3" y1="494.83" x2="617.3" y2="494.83" stroke="#2a2a2a" stroke-width="1.45"/>
<line x1="614.3" y1="489.93" x2="617.3" y2="489.93" stroke="#2a2a2a" stroke-width="1.45"/>
<line x1="614.3" y1="485.04" x2="617.3" y2="485.04" stroke="#2a2a2a" stroke-width="1.45"/>
<line x1="614.3" y1="480.15" x2="617.3" y2="480.15" stroke="#2a2a2a" stroke-width="1.45"/>
<line x1="614.3" y1="475.25" x2="617.3" y2="475.25" stroke="#2a2a2a" stroke-width="1.45"/>
<line x1="614.3" y1="470.36" x2="617.3" y2="470.36" stroke="#2a2a2a" stroke-width="1.45"/>
<line x1="614.3" y1="465.47" x2="617.3" y2="465.47" stroke="#2a2a2a" stroke-width="1.45"/>
<line x1="614.3" y1="460.58" x2="617.3" y2="460.58" stroke="#2a2a2a" stroke-width="1.45"/>
<line x1="614.3" y1="455.68" x2="617.3" y2="455.68" stroke="#2a2a2a" stroke-width="1.45"/>
<line x1="65" y1="830.9" x2="65" y2="826.4" stroke="#111" stroke-width="1.6"/>
<line x1="144.7" y1="830.9" x2="144.7" y2="826.4" stroke="#111" stroke-width="1.6"/>
<line x1="222.9" y1="830.9" x2="222.9" y2="826.4" stroke="#111" stroke-width="1.6"/>
<line x1="299.7" y1="830.9" x2="299.7" y2="826.4" stroke="#111" stroke-width="1.6"/>
<line x1="380.4" y1="830.9" x2="380.4" y2="826.4" stroke="#111" stroke-width="1.6"/>
<line x1="459.7" y1="830.9" x2="459.7" y2="826.4" stroke="#111" stroke-width="1.6"/>
<line x1="536.1" y1="830.9" x2="536.1" y2="826.4" stroke="#111" stroke-width="1.6"/>
<line x1="611" y1="830.9" x2="611" y2="826.4" stroke="#111" stroke-width="1.6"/>
<line x1="69" y1="453.8" x2="69" y2="459.8" stroke="#2a2a2a" stroke-width="1.2"/>
<line x1="109.94" y1="453.8" x2="109.94" y2="456.8" stroke="#2a2a2a" stroke-width="1.2"/>
<line x1="133.89" y1="453.8" x2="133.89" y2="456.8" stroke="#2a2a2a" stroke-width="1.2"/>
<line x1="150.88" y1="453.8" x2="150.88" y2="456.8" stroke="#2a2a2a" stroke-width="1.2"/>
<line x1="164.06" y1="453.8" x2="164.06" y2="456.8" stroke="#2a2a2a" stroke-width="1.2"/>
<line x1="174.83" y1="453.8" x2="174.83" y2="456.8" stroke="#2a2a2a" stroke-width="1.2"/>
<line x1="183.93" y1="453.8" x2="183.93" y2="456.8" stroke="#2a2a2a" stroke-width="1.2"/>
<line x1="191.82" y1="453.8" x2="191.82" y2="456.8" stroke="#2a2a2a" stroke-width="1.2"/>
<line x1="198.78" y1="453.8" x2="198.78" y2="456.8" stroke="#2a2a2a" stroke-width="1.2"/>
<line x1="205" y1="453.8" x2="205" y2="459.8" stroke="#2a2a2a" stroke-width="1.2"/>
<line x1="245.94" y1="453.8" x2="245.94" y2="456.8" stroke="#2a2a2a" stroke-width="1.2"/>
<line x1="269.89" y1="453.8" x2="269.89" y2="456.8" stroke="#2a2a2a" stroke-width="1.2"/>
<line x1="286.88" y1="453.8" x2="286.88" y2="456.8" stroke="#2a2a2a" stroke-width="1.2"/>
<line x1="300.06" y1="453.8" x2="300.06" y2="456.8" stroke="#2a2a2a" stroke-width="1.2"/>
<line x1="310.83" y1="453.8" x2="310.83" y2="456.8" stroke="#2a2a2a" stroke-width="1.2"/>
<line x1="319.93" y1="453.8" x2="319.93" y2="456.8" stroke="#2a2a2a" stroke-width="1.2"/>
<line x1="327.82" y1="453.8" x2="327.82" y2="456.8" stroke="#2a2a2a" stroke-width="1.2"/>
<line x1="334.78" y1="453.8" x2="334.78" y2="456.8" stroke="#2a2a2a" stroke-width="1.2"/>
<line x1="341" y1="453.8" x2="341" y2="459.8" stroke="#2a2a2a" stroke-width="1.2"/>
<line x1="381.94" y1="453.8" x2="381.94" y2="456.8" stroke="#2a2a2a" stroke-width="1.2"/>
<line x1="405.89" y1="453.8" x2="405.89" y2="456.8" stroke="#2a2a2a" stroke-width="1.2"/>
<line x1="422.88" y1="453.8" x2="422.88" y2="456.8" stroke="#2a2a2a" stroke-width="1.2"/>
<line x1="436.06" y1="453.8" x2="436.06" y2="456.8" stroke="#2a2a2a" stroke-width="1.2"/>
<line x1="446.83" y1="453.8" x2="446.83" y2="456.8" stroke="#2a2a2a" stroke-width="1.2"/>
<line x1="455.93" y1="453.8" x2="455.93" y2="456.8" stroke="#2a2a2a" stroke-width="1.2"/>
<line x1="463.82" y1="453.8" x2="463.82" y2="456.8" stroke="#2a2a2a" stroke-width="1.2"/>
<line x1="470.78" y1="453.8" x2="470.78" y2="456.8" stroke="#2a2a2a" stroke-width="1.2"/>
<line x1="477" y1="453.8" x2="477" y2="459.8" stroke="#2a2a2a" stroke-width="1.2"/>
<line x1="517.94" y1="453.8" x2="517.94" y2="456.8" stroke="#2a2a2a" stroke-width="1.2"/>
<line x1="541.89" y1="453.8" x2="541.89" y2="456.8" stroke="#2a2a2a" stroke-width="1.2"/>
<line x1="558.88" y1="453.8" x2="558.88" y2="456.8" stroke="#2a2a2a" stroke-width="1.2"/>
<line x1="572.06" y1="453.8" x2="572.06" y2="456.8" stroke="#2a2a2a" stroke-width="1.2"/>
<line x1="582.83" y1="453.8" x2="582.83" y2="456.8" stroke="#2a2a2a" stroke-width="1.2"/>
<line x1="591.93" y1="453.8" x2="591.93" y2="456.8" stroke="#2a2a2a" stroke-width="1.2"/>
<line x1="599.82" y1="453.8" x2="599.82" y2="456.8" stroke="#2a2a2a" stroke-width="1.2"/>
<line x1="606.78" y1="453.8" x2="606.78" y2="456.8" stroke="#2a2a2a" stroke-width="1.2"/>
<line x1="613" y1="453.8" x2="613" y2="459.8" stroke="#2a2a2a" stroke-width="1.2"/>
<path d="M63,831.4 L63,453.8 L617.3,453.8 L617.3,831.4" fill="none" stroke="#2a2a2a" stroke-width="1.8"/>
<line x1="62.1" y1="831.4" x2="618.2" y2="831.4" stroke="#7c7c7c" stroke-width="1.8"/>
<rect x="613.7" y="827.4" width="3.4" height="3.4" fill="none" stroke="#222" stroke-width="1"/>
<path d="M69.5,777.36 L72.22,777.14 L74.94,776.89 L77.66,776.6 L80.38,776.28 L83.1,775.92 L85.82,775.53 L88.54,775.1 L91.26,774.64 L93.99,774.14 L96.71,773.61 L99.43,773.05 L102.15,772.45 L104.87,771.82 L107.59,771.15 L110.31,770.45 L113.03,769.72 L115.75,768.96 L118.47,768.17 L121.19,767.34 L123.91,766.48 L126.63,765.59 L129.35,764.67 L132.07,763.72 L134.79,762.73 L137.52,761.72 L140.24,760.68 L142.96,759.6 L145.68,758.5 L148.4,757.37 L151.12,756.2 L153.84,755.01 L156.56,753.79 L159.28,752.54 L162,751.27 L164.72,749.96 L167.44,748.63 L170.16,747.27 L172.88,745.88 L175.6,744.47 L178.32,743.02 L181.04,741.56 L183.77,740.06 L186.49,738.54 L189.21,736.99 L191.93,735.42 L194.65,733.82 L197.37,732.2 L200.09,730.55 L202.81,728.88 L205.53,727.18 L208.25,725.46 L210.97,723.71 L213.69,721.94 L216.41,720.15 L219.13,718.33 L221.85,716.49 L224.57,714.63 L227.29,712.75 L230.02,710.84 L232.74,708.91 L235.46,706.96 L238.18,704.99 L240.9,702.99 L243.62,700.98 L246.34,698.94 L249.06,696.88 L251.78,694.81 L254.5,692.71 L257.22,690.59 L259.94,688.46 L262.66,686.3 L265.38,684.12 L268.1,681.93 L270.82,679.72 L273.55,677.49 L276.27,675.24 L278.99,672.99 L281.71,670.74 L284.43,668.48 L287.15,666.23 L289.87,663.99 L292.59,661.76 L295.31,659.54 L298.03,657.35 L300.75,655.19 L303.47,653.05 L306.19,650.95 L308.91,648.89 L311.63,646.87 L314.35,644.9 L317.07,642.97 L319.8,641.09 L322.52,639.26 L325.24,637.48 L327.96,635.74 L330.68,634.04 L333.4,632.39 L336.12,630.79 L338.84,629.22 L341.56,627.7 L344.28,626.23 L347,624.79 L349.72,623.4 L352.44,622.05 L355.16,620.75 L357.88,619.51 L360.6,618.31 L363.33,617.17 L366.05,616.1 L368.77,615.08 L371.49,614.12 L374.21,613.23 L376.93,612.41 L379.65,611.67 L382.37,610.99 L385.09,610.39 L387.81,609.85 L390.53,609.39 L393.25,609.01 L395.97,608.69 L398.69,608.44 L401.41,608.26 L404.13,608.16 L406.85,608.11 L409.58,608.14 L412.3,608.24 L415.02,608.4 L417.74,608.62 L420.46,608.91 L423.18,609.27 L425.9,609.69 L428.62,610.17 L431.34,610.72 L434.06,611.33 L436.78,612 L439.5,612.73 L442.22,613.52 L444.94,614.37 L447.66,615.28 L450.38,616.25 L453.11,617.27 L455.83,618.36 L458.55,619.5 L461.27,620.7 L463.99,621.95 L466.71,623.25 L469.43,624.62 L472.15,626.03 L474.87,627.5 L477.59,629.02 L480.31,630.59 L483.03,632.22 L485.75,633.89 L488.47,635.62 L491.19,637.39 L493.91,639.21 L496.63,641.08 L499.36,643 L502.08,644.97 L504.8,646.98 L507.52,649.04 L510.24,651.14 L512.96,653.27 L515.68,655.44 L518.4,657.63 L521.12,659.84 L523.84,662.07 L526.56,664.31 L529.28,666.56 L532,668.81 L534.72,671.05 L537.44,673.29 L540.16,675.52 L542.88,677.73 L545.61,679.91 L548.33,682.07 L551.05,684.2 L553.77,686.3 L556.49,688.36 L559.21,690.39 L561.93,692.39 L564.65,694.37 L567.37,696.32 L570.09,698.25 L572.81,700.16 L575.53,702.05 L578.25,703.92 L580.97,705.77 L583.69,707.62 L586.41,709.44 L589.14,711.26 L591.86,713.07 L594.58,714.87 L597.3,716.67 L600.02,718.47 L602.74,720.26 L605.46,722.05 L608.18,723.85 L610.9,725.65" fill="none" stroke="#333" stroke-width="1.3" stroke-linejoin="round" />
<circle cx="68.7" cy="788.5" r="2.65" fill="#111"/>
<circle cx="79.77" cy="786.72" r="2.65" fill="#111"/>
<circle cx="90.83" cy="784.28" r="2.65" fill="#111"/>
<circle cx="101.9" cy="781.91" r="2.65" fill="#111"/>
<circle cx="112.96" cy="778.45" r="2.65" fill="#111"/>
<circle cx="124.03" cy="775.32" r="2.65" fill="#111"/>
<circle cx="135.09" cy="771.87" r="2.65" fill="#111"/>
<circle cx="146.16" cy="768.12" r="2.65" fill="#111"/>
<circle cx="157.22" cy="763.79" r="2.65" fill="#111"/>
<circle cx="168.29" cy="758.87" r="2.65" fill="#111"/>
<circle cx="179.35" cy="753.84" r="2.65" fill="#111"/>
<circle cx="190.42" cy="747.75" r="2.65" fill="#111"/>
<circle cx="201.48" cy="741.07" r="2.65" fill="#111"/>
<circle cx="212.55" cy="733.87" r="2.65" fill="#111"/>
<circle cx="223.61" cy="726.85" r="2.65" fill="#111"/>
<circle cx="234.68" cy="719.32" r="2.65" fill="#111"/>
<circle cx="245.74" cy="711.23" r="2.65" fill="#111"/>
<circle cx="256.81" cy="702.66" r="2.65" fill="#111"/>
<circle cx="267.88" cy="692.85" r="2.65" fill="#111"/>
<circle cx="278.94" cy="683.63" r="2.65" fill="#111"/>
<circle cx="290.01" cy="674.44" r="2.65" fill="#111"/>
<circle cx="301.07" cy="664.25" r="2.65" fill="#111"/>
<circle cx="312.14" cy="656.05" r="2.65" fill="#111"/>
<circle cx="323.2" cy="649.42" r="2.65" fill="#111"/>
<circle cx="334.27" cy="640.64" r="2.65" fill="#111"/>
<circle cx="345.33" cy="633.94" r="2.65" fill="#111"/>
<circle cx="356.4" cy="628.01" r="2.65" fill="#111"/>
<circle cx="367.46" cy="622.96" r="2.65" fill="#111"/>
<circle cx="378.53" cy="620.46" r="2.65" fill="#111"/>
<circle cx="389.59" cy="617.99" r="2.65" fill="#111"/>
<circle cx="400.66" cy="616.95" r="2.65" fill="#111"/>
<circle cx="411.72" cy="616.9" r="2.65" fill="#111"/>
<circle cx="422.79" cy="617.83" r="2.65" fill="#111"/>
<circle cx="433.86" cy="620.19" r="2.65" fill="#111"/>
<circle cx="444.92" cy="622.33" r="2.65" fill="#111"/>
<circle cx="455.99" cy="627.39" r="2.65" fill="#111"/>
<circle cx="467.05" cy="631.84" r="2.65" fill="#111"/>
<circle cx="478.12" cy="636.53" r="2.65" fill="#111"/>
<circle cx="489.18" cy="642.51" r="2.65" fill="#111"/>
<circle cx="500.25" cy="649.11" r="2.65" fill="#111"/>
<circle cx="511.31" cy="655.54" r="2.65" fill="#111"/>
<circle cx="522.38" cy="663.62" r="2.65" fill="#111"/>
<circle cx="533.44" cy="671.88" r="2.65" fill="#111"/>
<circle cx="544.51" cy="681.53" r="2.65" fill="#111"/>
<circle cx="555.57" cy="688.85" r="2.65" fill="#111"/>
<circle cx="566.64" cy="696.59" r="2.65" fill="#111"/>
<circle cx="577.7" cy="703.44" r="2.65" fill="#111"/>
<circle cx="588.77" cy="711.1" r="2.65" fill="#111"/>
<circle cx="599.83" cy="717.58" r="2.65" fill="#111"/>
<circle cx="610.9" cy="725" r="2.65" fill="#111"/>
<path d="M69.5,776.82 L72.22,776.26 L74.94,775.7 L77.66,775.13 L80.38,774.54 L83.1,773.95 L85.82,773.34 L88.54,772.72 L91.26,772.08 L93.99,771.43 L96.71,770.76 L99.43,770.08 L102.15,769.37 L104.87,768.65 L107.59,767.91 L110.31,767.14 L113.03,766.35 L115.75,765.54 L118.47,764.71 L121.19,763.85 L123.91,762.96 L126.63,762.05 L129.35,761.1 L132.07,760.13 L134.79,759.13 L137.52,758.1 L140.24,757.03 L142.96,755.94 L145.68,754.8 L148.4,753.64 L151.12,752.43 L153.84,751.2 L156.56,749.92 L159.28,748.6 L162,747.25 L164.72,745.85 L167.44,744.41 L170.16,742.93 L172.88,741.4 L175.6,739.83 L178.32,738.22 L181.04,736.56 L183.77,734.85 L186.49,733.09 L189.21,731.28 L191.93,729.42 L194.65,727.51 L197.37,725.55 L200.09,723.54 L202.81,721.47 L205.53,719.36 L208.25,717.2 L210.97,715 L213.69,712.75 L216.41,710.47 L219.13,708.15 L221.85,705.8 L224.57,703.41 L227.29,701 L230.02,698.56 L232.74,696.1 L235.46,693.61 L238.18,691.1 L240.9,688.58 L243.62,686.04 L246.34,683.49 L249.06,680.93 L251.78,678.37 L254.5,675.79 L257.22,673.22 L259.94,670.64 L262.66,668.07 L265.38,665.5 L268.1,662.94 L270.82,660.39 L273.55,657.84 L276.27,655.32 L278.99,652.8 L281.71,650.3 L284.43,647.82 L287.15,645.36 L289.87,642.91 L292.59,640.49 L295.31,638.09 L298.03,635.71 L300.75,633.36 L303.47,631.04 L306.19,628.75 L308.91,626.48 L311.63,624.25 L314.35,622.05 L317.07,619.88 L319.8,617.75 L322.52,615.65 L325.24,613.59 L327.96,611.58 L330.68,609.6 L333.4,607.67 L336.12,605.78 L338.84,603.93 L341.56,602.14 L344.28,600.39 L347,598.69 L349.72,597.04 L352.44,595.44 L355.16,593.9 L357.88,592.41 L360.6,590.98 L363.33,589.61 L366.05,588.3 L368.77,587.05 L371.49,585.86 L374.21,584.73 L376.93,583.67 L379.65,582.68 L382.37,581.76 L385.09,580.9 L387.81,580.11 L390.53,579.4 L393.25,578.76 L395.97,578.2 L398.69,577.71 L401.41,577.3 L404.13,576.97 L406.85,576.72 L409.58,576.56 L412.3,576.47 L415.02,576.48 L417.74,576.56 L420.46,576.74 L423.18,577 L425.9,577.34 L428.62,577.77 L431.34,578.28 L434.06,578.86 L436.78,579.51 L439.5,580.24 L442.22,581.05 L444.94,581.92 L447.66,582.85 L450.38,583.86 L453.11,584.92 L455.83,586.05 L458.55,587.23 L461.27,588.47 L463.99,589.77 L466.71,591.11 L469.43,592.51 L472.15,593.96 L474.87,595.45 L477.59,596.99 L480.31,598.57 L483.03,600.19 L485.75,601.84 L488.47,603.54 L491.19,605.3 L493.91,607.14 L496.63,609.07 L499.36,611.11 L502.08,613.28 L504.8,615.59 L507.52,618.06 L510.24,620.65 L512.96,623.32 L515.68,626.05 L518.4,628.78 L521.12,631.5 L523.84,634.15 L526.56,636.7 L529.28,639.12 L532,641.38 L534.72,643.49 L537.44,645.5 L540.16,647.44 L542.88,649.36 L545.61,651.28 L548.33,653.25 L551.05,655.27 L553.77,657.34 L556.49,659.46 L559.21,661.63 L561.93,663.85 L564.65,666.1 L567.37,668.4 L570.09,670.74 L572.81,673.12 L575.53,675.54 L578.25,677.99 L580.97,680.48 L583.69,683 L586.41,685.55 L589.14,688.13 L591.86,690.73 L594.58,693.37 L597.3,696.02 L600.02,698.7 L602.74,701.4 L605.46,704.12 L608.18,706.86 L610.9,709.61" fill="none" stroke="#ff5aac" stroke-width="1.4" stroke-linejoin="round" />
<rect x="65.9" y="784.2" width="5.6" height="5" fill="#ff0a84"/>
<rect x="76.97" y="782.22" width="5.6" height="5" fill="#ff0a84"/>
<rect x="88.03" y="779.88" width="5.6" height="5" fill="#ff0a84"/>
<rect x="99.1" y="776.94" width="5.6" height="5" fill="#ff0a84"/>
<rect x="110.16" y="773.45" width="5.6" height="5" fill="#ff0a84"/>
<rect x="121.23" y="769.82" width="5.6" height="5" fill="#ff0a84"/>
<rect x="132.29" y="764.89" width="5.6" height="5" fill="#ff0a84"/>
<rect x="143.36" y="759.95" width="5.6" height="5" fill="#ff0a84"/>
<rect x="154.42" y="755.01" width="5.6" height="5" fill="#ff0a84"/>
<rect x="165.49" y="748.84" width="5.6" height="5" fill="#ff0a84"/>
<rect x="176.55" y="742.15" width="5.6" height="5" fill="#ff0a84"/>
<rect x="187.62" y="734.58" width="5.6" height="5" fill="#ff0a84"/>
<rect x="198.68" y="726.09" width="5.6" height="5" fill="#ff0a84"/>
<rect x="209.75" y="717.26" width="5.6" height="5" fill="#ff0a84"/>
<rect x="220.81" y="707.58" width="5.6" height="5" fill="#ff0a84"/>
<rect x="231.88" y="697.49" width="5.6" height="5" fill="#ff0a84"/>
<rect x="242.94" y="688.09" width="5.6" height="5" fill="#ff0a84"/>
<rect x="254.01" y="677.28" width="5.6" height="5" fill="#ff0a84"/>
<rect x="265.08" y="666.04" width="5.6" height="5" fill="#ff0a84"/>
<rect x="276.14" y="653.68" width="5.6" height="5" fill="#ff0a84"/>
<rect x="287.21" y="642.11" width="5.6" height="5" fill="#ff0a84"/>
<rect x="298.27" y="629.85" width="5.6" height="5" fill="#ff0a84"/>
<rect x="309.34" y="622.44" width="5.6" height="5" fill="#ff0a84"/>
<rect x="320.4" y="615.03" width="5.6" height="5" fill="#ff0a84"/>
<rect x="331.47" y="607.21" width="5.6" height="5" fill="#ff0a84"/>
<rect x="342.53" y="599.31" width="5.6" height="5" fill="#ff0a84"/>
<rect x="353.6" y="593.21" width="5.6" height="5" fill="#ff0a84"/>
<rect x="364.66" y="587.17" width="5.6" height="5" fill="#ff0a84"/>
<rect x="375.73" y="584.17" width="5.6" height="5" fill="#ff0a84"/>
<rect x="386.79" y="581.69" width="5.6" height="5" fill="#ff0a84"/>
<rect x="397.86" y="581.6" width="5.6" height="5" fill="#ff0a84"/>
<rect x="408.92" y="581.6" width="5.6" height="5" fill="#ff0a84"/>
<rect x="419.99" y="581.6" width="5.6" height="5" fill="#ff0a84"/>
<rect x="431.06" y="583.23" width="5.6" height="5" fill="#ff0a84"/>
<rect x="442.12" y="585.85" width="5.6" height="5" fill="#ff0a84"/>
<rect x="453.19" y="590.09" width="5.6" height="5" fill="#ff0a84"/>
<rect x="464.25" y="595.92" width="5.6" height="5" fill="#ff0a84"/>
<rect x="475.32" y="600.83" width="5.6" height="5" fill="#ff0a84"/>
<rect x="486.38" y="607.2" width="5.6" height="5" fill="#ff0a84"/>
<rect x="497.45" y="615.32" width="5.6" height="5" fill="#ff0a84"/>
<rect x="508.51" y="623.42" width="5.6" height="5" fill="#ff0a84"/>
<rect x="519.58" y="632.09" width="5.6" height="5" fill="#ff0a84"/>
<rect x="530.64" y="640.19" width="5.6" height="5" fill="#ff0a84"/>
<rect x="541.71" y="648.99" width="5.6" height="5" fill="#ff0a84"/>
<rect x="552.77" y="659.31" width="5.6" height="5" fill="#ff0a84"/>
<rect x="563.84" y="669.16" width="5.6" height="5" fill="#ff0a84"/>
<rect x="574.9" y="679.11" width="5.6" height="5" fill="#ff0a84"/>
<rect x="585.97" y="688.82" width="5.6" height="5" fill="#ff0a84"/>
<rect x="597.03" y="696.93" width="5.6" height="5" fill="#ff0a84"/>
<rect x="608.1" y="708.4" width="5.6" height="5" fill="#ff0a84"/>
<path d="M69,751.72 L71.72,750.88 L74.45,749.88 L77.17,748.75 L79.89,747.48 L82.62,746.09 L85.34,744.58 L88.06,742.97 L90.78,741.25 L93.51,739.44 L96.23,737.55 L98.95,735.58 L101.68,733.55 L104.4,731.45 L107.12,729.31 L109.85,727.13 L112.57,724.91 L115.29,722.67 L118.02,720.41 L120.74,718.14 L123.46,715.87 L126.19,713.61 L128.91,711.36 L131.63,709.13 L134.35,706.92 L137.08,704.73 L139.8,702.54 L142.52,700.35 L145.25,698.16 L147.97,695.97 L150.69,693.77 L153.42,691.56 L156.14,689.33 L158.86,687.08 L161.59,684.8 L164.31,682.49 L167.03,680.15 L169.76,677.77 L172.48,675.34 L175.2,672.88 L177.92,670.37 L180.65,667.83 L183.37,665.25 L186.09,662.63 L188.82,659.98 L191.54,657.29 L194.26,654.58 L196.99,651.83 L199.71,649.06 L202.43,646.25 L205.16,643.43 L207.88,640.61 L210.6,637.79 L213.33,634.98 L216.05,632.2 L218.77,629.46 L221.49,626.77 L224.22,624.14 L226.94,621.58 L229.66,619.09 L232.39,616.68 L235.11,614.33 L237.83,612.03 L240.56,609.79 L243.28,607.58 L246,605.42 L248.73,603.29 L251.45,601.18 L254.17,599.09 L256.89,597.01 L259.62,594.94 L262.34,592.88 L265.06,590.84 L267.79,588.83 L270.51,586.85 L273.23,584.91 L275.96,583.02 L278.68,581.2 L281.4,579.44 L284.13,577.76 L286.85,576.15 L289.57,574.6 L292.3,573.13 L295.02,571.73 L297.74,570.39 L300.46,569.12 L303.19,567.92 L305.91,566.78 L308.63,565.71 L311.36,564.7 L314.08,563.76 L316.8,562.87 L319.53,562.05 L322.25,561.28 L324.97,560.58 L327.7,559.94 L330.42,559.35 L333.14,558.82 L335.87,558.34 L338.59,557.92 L341.31,557.56 L344.03,557.25 L346.76,556.99 L349.48,556.78 L352.2,556.62 L354.93,556.52 L357.65,556.46 L360.37,556.45 L363.1,556.49 L365.82,556.57 L368.54,556.7 L371.27,556.88 L373.99,557.1 L376.71,557.36 L379.44,557.67 L382.16,558.02 L384.88,558.41 L387.6,558.86 L390.33,559.37 L393.05,559.96 L395.77,560.62 L398.5,561.37 L401.22,562.21 L403.94,563.16 L406.67,564.21 L409.39,565.37 L412.11,566.64 L414.84,568 L417.56,569.45 L420.28,570.98 L423.01,572.59 L425.73,574.28 L428.45,576.03 L431.17,577.84 L433.9,579.71 L436.62,581.63 L439.34,583.6 L442.07,585.62 L444.79,587.68 L447.51,589.78 L450.24,591.93 L452.96,594.11 L455.68,596.33 L458.41,598.59 L461.13,600.88 L463.85,603.21 L466.57,605.57 L469.3,607.97 L472.02,610.39 L474.74,612.85 L477.47,615.33 L480.19,617.85 L482.91,620.39 L485.64,622.95 L488.36,625.54 L491.08,628.16 L493.81,630.79 L496.53,633.45 L499.25,636.13 L501.98,638.82 L504.7,641.54 L507.42,644.25 L510.14,646.98 L512.87,649.7 L515.59,652.42 L518.31,655.12 L521.04,657.81 L523.76,660.47 L526.48,663.11 L529.21,665.71 L531.93,668.27 L534.65,670.8 L537.38,673.29 L540.1,675.74 L542.82,678.17 L545.55,680.56 L548.27,682.92 L550.99,685.26 L553.71,687.57 L556.44,689.86 L559.16,692.13 L561.88,694.38 L564.61,696.62 L567.33,698.84 L570.05,701.05 L572.78,703.25 L575.5,705.44 L578.22,707.62 L580.95,709.8 L583.67,711.98 L586.39,714.15 L589.12,716.33 L591.84,718.51 L594.56,720.7 L597.28,722.9 L600.01,725.11 L602.73,727.33 L605.45,729.56 L608.18,731.81 L610.9,734.07" fill="none" stroke="#ff2a2a" stroke-width="1.3" stroke-linejoin="round" />
<path d="M66.1,755.2 L71.3,760.4 M66.1,760.4 L71.3,755.2" stroke="#ff2a2a" stroke-width="1.1" fill="none"/>
<path d="M77.17,750.03 L82.37,755.23 M77.17,755.23 L82.37,750.03" stroke="#ff2a2a" stroke-width="1.1" fill="none"/>
<path d="M88.23,744.73 L93.43,749.93 M88.23,749.93 L93.43,744.73" stroke="#ff2a2a" stroke-width="1.1" fill="none"/>
<path d="M99.3,738.5 L104.5,743.7 M99.3,743.7 L104.5,738.5" stroke="#ff2a2a" stroke-width="1.1" fill="none"/>
<path d="M110.36,731.84 L115.56,737.04 M110.36,737.04 L115.56,731.84" stroke="#ff2a2a" stroke-width="1.1" fill="none"/>
<path d="M121.43,724.04 L126.63,729.24 M121.43,729.24 L126.63,724.04" stroke="#ff2a2a" stroke-width="1.1" fill="none"/>
<path d="M132.49,714.67 L137.69,719.87 M132.49,719.87 L137.69,714.67" stroke="#ff2a2a" stroke-width="1.1" fill="none"/>
<path d="M143.56,705.92 L148.76,711.12 M143.56,711.12 L148.76,705.92" stroke="#ff2a2a" stroke-width="1.1" fill="none"/>
<path d="M154.62,693.37 L159.82,698.57 M154.62,698.57 L159.82,693.37" stroke="#ff2a2a" stroke-width="1.1" fill="none"/>
<path d="M165.69,681.03 L170.89,686.23 M165.69,686.23 L170.89,681.03" stroke="#ff2a2a" stroke-width="1.1" fill="none"/>
<path d="M176.75,671.12 L181.95,676.32 M176.75,676.32 L181.95,671.12" stroke="#ff2a2a" stroke-width="1.1" fill="none"/>
<path d="M187.82,661.33 L193.02,666.53 M187.82,666.53 L193.02,661.33" stroke="#ff2a2a" stroke-width="1.1" fill="none"/>
<path d="M198.88,648.63 L204.08,653.83 M198.88,653.83 L204.08,648.63" stroke="#ff2a2a" stroke-width="1.1" fill="none"/>
<path d="M209.95,637.25 L215.15,642.45 M209.95,642.45 L215.15,637.25" stroke="#ff2a2a" stroke-width="1.1" fill="none"/>
<path d="M221.01,625.01 L226.21,630.21 M221.01,630.21 L226.21,625.01" stroke="#ff2a2a" stroke-width="1.1" fill="none"/>
<path d="M232.08,614.21 L237.28,619.41 M232.08,619.41 L237.28,614.21" stroke="#ff2a2a" stroke-width="1.1" fill="none"/>
<path d="M243.14,605.36 L248.34,610.56 M243.14,610.56 L248.34,605.36" stroke="#ff2a2a" stroke-width="1.1" fill="none"/>
<path d="M254.21,594.96 L259.41,600.16 M254.21,600.16 L259.41,594.96" stroke="#ff2a2a" stroke-width="1.1" fill="none"/>
<path d="M265.28,585.98 L270.48,591.18 M265.28,591.18 L270.48,585.98" stroke="#ff2a2a" stroke-width="1.1" fill="none"/>
<path d="M276.34,578.01 L281.54,583.21 M276.34,583.21 L281.54,578.01" stroke="#ff2a2a" stroke-width="1.1" fill="none"/>
<path d="M287.41,572.06 L292.61,577.26 M287.41,577.26 L292.61,572.06" stroke="#ff2a2a" stroke-width="1.1" fill="none"/>
<path d="M298.47,564.48 L303.67,569.68 M298.47,569.68 L303.67,564.48" stroke="#ff2a2a" stroke-width="1.1" fill="none"/>
<path d="M309.54,560.82 L314.74,566.02 M309.54,566.02 L314.74,560.82" stroke="#ff2a2a" stroke-width="1.1" fill="none"/>
<path d="M320.6,557.85 L325.8,563.05 M320.6,563.05 L325.8,557.85" stroke="#ff2a2a" stroke-width="1.1" fill="none"/>
<path d="M331.67,555.88 L336.87,561.08 M331.67,561.08 L336.87,555.88" stroke="#ff2a2a" stroke-width="1.1" fill="none"/>
<path d="M342.73,555.14 L347.93,560.34 M342.73,560.34 L347.93,555.14" stroke="#ff2a2a" stroke-width="1.1" fill="none"/>
<path d="M353.8,555.1 L359,560.3 M353.8,560.3 L359,555.1" stroke="#ff2a2a" stroke-width="1.1" fill="none"/>
<path d="M364.86,555.79 L370.06,560.99 M364.86,560.99 L370.06,555.79" stroke="#ff2a2a" stroke-width="1.1" fill="none"/>
<path d="M375.93,558.24 L381.13,563.44 M375.93,563.44 L381.13,558.24" stroke="#ff2a2a" stroke-width="1.1" fill="none"/>
<path d="M386.99,562.44 L392.19,567.64 M386.99,567.64 L392.19,562.44" stroke="#ff2a2a" stroke-width="1.1" fill="none"/>
<path d="M398.06,565.65 L403.26,570.85 M398.06,570.85 L403.26,565.65" stroke="#ff2a2a" stroke-width="1.1" fill="none"/>
<path d="M409.12,570.72 L414.32,575.92 M409.12,575.92 L414.32,570.72" stroke="#ff2a2a" stroke-width="1.1" fill="none"/>
<path d="M420.19,575.75 L425.39,580.95 M420.19,580.95 L425.39,575.75" stroke="#ff2a2a" stroke-width="1.1" fill="none"/>
<path d="M431.26,583.1 L436.46,588.3 M431.26,588.3 L436.46,583.1" stroke="#ff2a2a" stroke-width="1.1" fill="none"/>
<path d="M442.32,591.59 L447.52,596.79 M442.32,596.79 L447.52,591.59" stroke="#ff2a2a" stroke-width="1.1" fill="none"/>
<path d="M453.39,600.19 L458.59,605.39 M453.39,605.39 L458.59,600.19" stroke="#ff2a2a" stroke-width="1.1" fill="none"/>
<path d="M464.45,607.8 L469.65,613 M464.45,613 L469.65,607.8" stroke="#ff2a2a" stroke-width="1.1" fill="none"/>
<path d="M475.52,617.46 L480.72,622.66 M475.52,622.66 L480.72,617.46" stroke="#ff2a2a" stroke-width="1.1" fill="none"/>
<path d="M486.58,626.38 L491.78,631.58 M486.58,631.58 L491.78,626.38" stroke="#ff2a2a" stroke-width="1.1" fill="none"/>
<path d="M497.65,636.69 L502.85,641.89 M497.65,641.89 L502.85,636.69" stroke="#ff2a2a" stroke-width="1.1" fill="none"/>
<path d="M508.71,645.95 L513.91,651.15 M508.71,651.15 L513.91,645.95" stroke="#ff2a2a" stroke-width="1.1" fill="none"/>
<path d="M519.78,654.31 L524.98,659.51 M519.78,659.51 L524.98,654.31" stroke="#ff2a2a" stroke-width="1.1" fill="none"/>
<path d="M530.84,667.02 L536.04,672.22 M530.84,672.22 L536.04,667.02" stroke="#ff2a2a" stroke-width="1.1" fill="none"/>
<path d="M541.91,676.76 L547.11,681.96 M541.91,681.96 L547.11,676.76" stroke="#ff2a2a" stroke-width="1.1" fill="none"/>
<path d="M552.97,686.63 L558.17,691.83 M552.97,691.83 L558.17,686.63" stroke="#ff2a2a" stroke-width="1.1" fill="none"/>
<path d="M564.04,694.29 L569.24,699.49 M564.04,699.49 L569.24,694.29" stroke="#ff2a2a" stroke-width="1.1" fill="none"/>
<path d="M575.1,702.33 L580.3,707.53 M575.1,707.53 L580.3,702.33" stroke="#ff2a2a" stroke-width="1.1" fill="none"/>
<path d="M586.17,710.1 L591.37,715.3 M586.17,715.3 L591.37,710.1" stroke="#ff2a2a" stroke-width="1.1" fill="none"/>
<path d="M597.23,716.76 L602.43,721.96 M597.23,721.96 L602.43,716.76" stroke="#ff2a2a" stroke-width="1.1" fill="none"/>
<path d="M608.3,724.4 L613.5,729.6 M608.3,729.6 L613.5,724.4" stroke="#ff2a2a" stroke-width="1.1" fill="none"/>
<path d="M69,739.48 L71.72,738.07 L74.45,736.56 L77.17,734.95 L79.89,733.25 L82.62,731.46 L85.34,729.59 L88.06,727.64 L90.78,725.62 L93.51,723.53 L96.23,721.38 L98.95,719.17 L101.68,716.91 L104.4,714.61 L107.12,712.26 L109.85,709.87 L112.57,707.44 L115.29,704.99 L118.02,702.52 L120.74,700.03 L123.46,697.52 L126.19,695.01 L128.91,692.49 L131.63,689.97 L134.35,687.44 L137.08,684.92 L139.8,682.38 L142.52,679.84 L145.25,677.28 L147.97,674.72 L150.69,672.14 L153.42,669.55 L156.14,666.93 L158.86,664.3 L161.59,661.65 L164.31,658.97 L167.03,656.27 L169.76,653.55 L172.48,650.79 L175.2,648.01 L177.92,645.19 L180.65,642.35 L183.37,639.48 L186.09,636.59 L188.82,633.68 L191.54,630.75 L194.26,627.81 L196.99,624.86 L199.71,621.91 L202.43,618.95 L205.16,616 L207.88,613.04 L210.6,610.1 L213.33,607.16 L216.05,604.23 L218.77,601.32 L221.49,598.43 L224.22,595.57 L226.94,592.73 L229.66,589.91 L232.39,587.13 L235.11,584.39 L237.83,581.68 L240.56,579.01 L243.28,576.39 L246,573.81 L248.73,571.29 L251.45,568.82 L254.17,566.41 L256.89,564.05 L259.62,561.76 L262.34,559.54 L265.06,557.38 L267.79,555.29 L270.51,553.27 L273.23,551.3 L275.96,549.41 L278.68,547.57 L281.4,545.79 L284.13,544.08 L286.85,542.43 L289.57,540.83 L292.3,539.3 L295.02,537.82 L297.74,536.4 L300.46,535.03 L303.19,533.72 L305.91,532.46 L308.63,531.26 L311.36,530.11 L314.08,529.02 L316.8,527.97 L319.53,526.98 L322.25,526.03 L324.97,525.14 L327.7,524.29 L330.42,523.49 L333.14,522.73 L335.87,522.03 L338.59,521.36 L341.31,520.75 L344.03,520.17 L346.76,519.64 L349.48,519.15 L352.2,518.7 L354.93,518.29 L357.65,517.92 L360.37,517.6 L363.1,517.31 L365.82,517.07 L368.54,516.87 L371.27,516.71 L373.99,516.6 L376.71,516.53 L379.44,516.5 L382.16,516.51 L384.88,516.56 L387.6,516.66 L390.33,516.81 L393.05,516.99 L395.77,517.22 L398.5,517.5 L401.22,517.81 L403.94,518.18 L406.67,518.58 L409.39,519.03 L412.11,519.53 L414.84,520.07 L417.56,520.66 L420.28,521.29 L423.01,521.97 L425.73,522.69 L428.45,523.46 L431.17,524.27 L433.9,525.14 L436.62,526.04 L439.34,527 L442.07,528 L444.79,529.05 L447.51,530.15 L450.24,531.29 L452.96,532.48 L455.68,533.72 L458.41,535.02 L461.13,536.41 L463.85,537.92 L466.57,539.6 L469.3,541.46 L472.02,543.55 L474.74,545.8 L477.47,548.13 L480.19,550.46 L482.91,552.73 L485.64,554.93 L488.36,557.1 L491.08,559.25 L493.81,561.41 L496.53,563.58 L499.25,565.76 L501.98,567.96 L504.7,570.17 L507.42,572.4 L510.14,574.64 L512.87,576.9 L515.59,579.19 L518.31,581.49 L521.04,583.81 L523.76,586.15 L526.48,588.51 L529.21,590.9 L531.93,593.31 L534.65,595.75 L537.38,598.2 L540.1,600.69 L542.82,603.2 L545.55,605.74 L548.27,608.3 L550.99,610.9 L553.71,613.53 L556.44,616.18 L559.16,618.87 L561.88,621.59 L564.61,624.34 L567.33,627.12 L570.05,629.94 L572.78,632.8 L575.5,635.69 L578.22,638.62 L580.95,641.58 L583.67,644.59 L586.39,647.63 L589.12,650.71 L591.84,653.84 L594.56,657 L597.28,660.21 L600.01,663.46 L602.73,666.76 L605.45,670.1 L608.18,673.48 L610.9,676.91" fill="none" stroke="#3f7a3f" stroke-width="1.4" stroke-linejoin="round" />
<path d="M65.95,758.86 L71.45,758.86 L68.7,754.19 Z" stroke="#2e5e2e" stroke-width="1.25" fill="none"/>
<path d="M77.02,752.78 L82.52,752.78 L79.77,748.11 Z" stroke="#2e5e2e" stroke-width="1.25" fill="none"/>
<path d="M88.08,744.34 L93.58,744.34 L90.83,739.67 Z" stroke="#2e5e2e" stroke-width="1.25" fill="none"/>
<path d="M99.15,734.07 L104.65,734.07 L101.9,729.39 Z" stroke="#2e5e2e" stroke-width="1.25" fill="none"/>
<path d="M110.21,723.4 L115.71,723.4 L112.96,718.73 Z" stroke="#2e5e2e" stroke-width="1.25" fill="none"/>
<path d="M121.28,712.32 L126.78,712.32 L124.03,707.65 Z" stroke="#2e5e2e" stroke-width="1.25" fill="none"/>
<path d="M132.34,700.92 L137.84,700.92 L135.09,696.24 Z" stroke="#2e5e2e" stroke-width="1.25" fill="none"/>
<path d="M143.41,687.87 L148.91,687.87 L146.16,683.2 Z" stroke="#2e5e2e" stroke-width="1.25" fill="none"/>
<path d="M154.47,674.34 L159.97,674.34 L157.22,669.66 Z" stroke="#2e5e2e" stroke-width="1.25" fill="none"/>
<path d="M165.54,661.49 L171.04,661.49 L168.29,656.82 Z" stroke="#2e5e2e" stroke-width="1.25" fill="none"/>
<path d="M176.6,646.69 L182.1,646.69 L179.35,642.02 Z" stroke="#2e5e2e" stroke-width="1.25" fill="none"/>
<path d="M187.67,632.58 L193.17,632.58 L190.42,627.9 Z" stroke="#2e5e2e" stroke-width="1.25" fill="none"/>
<path d="M198.73,619.1 L204.23,619.1 L201.48,614.43 Z" stroke="#2e5e2e" stroke-width="1.25" fill="none"/>
<path d="M209.8,605.71 L215.3,605.71 L212.55,601.03 Z" stroke="#2e5e2e" stroke-width="1.25" fill="none"/>
<path d="M220.86,593.56 L226.36,593.56 L223.61,588.88 Z" stroke="#2e5e2e" stroke-width="1.25" fill="none"/>
<path d="M231.93,582 L237.43,582 L234.68,577.32 Z" stroke="#2e5e2e" stroke-width="1.25" fill="none"/>
<path d="M242.99,571.59 L248.49,571.59 L245.74,566.91 Z" stroke="#2e5e2e" stroke-width="1.25" fill="none"/>
<path d="M254.06,562.26 L259.56,562.26 L256.81,557.58 Z" stroke="#2e5e2e" stroke-width="1.25" fill="none"/>
<path d="M265.13,552.88 L270.63,552.88 L267.88,548.2 Z" stroke="#2e5e2e" stroke-width="1.25" fill="none"/>
<path d="M276.19,546.35 L281.69,546.35 L278.94,541.68 Z" stroke="#2e5e2e" stroke-width="1.25" fill="none"/>
<path d="M287.26,540.23 L292.76,540.23 L290.01,535.55 Z" stroke="#2e5e2e" stroke-width="1.25" fill="none"/>
<path d="M298.32,535.54 L303.82,535.54 L301.07,530.86 Z" stroke="#2e5e2e" stroke-width="1.25" fill="none"/>
<path d="M309.39,531.39 L314.89,531.39 L312.14,526.71 Z" stroke="#2e5e2e" stroke-width="1.25" fill="none"/>
<path d="M320.45,528.12 L325.95,528.12 L323.2,523.45 Z" stroke="#2e5e2e" stroke-width="1.25" fill="none"/>
<path d="M331.52,525.66 L337.02,525.66 L334.27,520.98 Z" stroke="#2e5e2e" stroke-width="1.25" fill="none"/>
<path d="M342.58,525.56 L348.08,525.56 L345.33,520.89 Z" stroke="#2e5e2e" stroke-width="1.25" fill="none"/>
<path d="M353.65,524.88 L359.15,524.88 L356.4,520.2 Z" stroke="#2e5e2e" stroke-width="1.25" fill="none"/>
<path d="M364.71,524.86 L370.21,524.86 L367.46,520.19 Z" stroke="#2e5e2e" stroke-width="1.25" fill="none"/>
<path d="M375.78,524.86 L381.28,524.86 L378.53,520.19 Z" stroke="#2e5e2e" stroke-width="1.25" fill="none"/>
<path d="M386.84,526.5 L392.34,526.5 L389.59,521.83 Z" stroke="#2e5e2e" stroke-width="1.25" fill="none"/>
<path d="M397.91,528.75 L403.41,528.75 L400.66,524.08 Z" stroke="#2e5e2e" stroke-width="1.25" fill="none"/>
<path d="M408.97,531.32 L414.47,531.32 L411.72,526.65 Z" stroke="#2e5e2e" stroke-width="1.25" fill="none"/>
<path d="M420.04,534.33 L425.54,534.33 L422.79,529.66 Z" stroke="#2e5e2e" stroke-width="1.25" fill="none"/>
<path d="M431.11,537.92 L436.61,537.92 L433.86,533.24 Z" stroke="#2e5e2e" stroke-width="1.25" fill="none"/>
<path d="M442.17,541.32 L447.67,541.32 L444.92,536.64 Z" stroke="#2e5e2e" stroke-width="1.25" fill="none"/>
<path d="M453.24,546.26 L458.74,546.26 L455.99,541.58 Z" stroke="#2e5e2e" stroke-width="1.25" fill="none"/>
<path d="M464.3,551.2 L469.8,551.2 L467.05,546.52 Z" stroke="#2e5e2e" stroke-width="1.25" fill="none"/>
<path d="M475.37,556.87 L480.87,556.87 L478.12,552.19 Z" stroke="#2e5e2e" stroke-width="1.25" fill="none"/>
<path d="M486.43,563.45 L491.93,563.45 L489.18,558.78 Z" stroke="#2e5e2e" stroke-width="1.25" fill="none"/>
<path d="M497.5,570.92 L503,570.92 L500.25,566.24 Z" stroke="#2e5e2e" stroke-width="1.25" fill="none"/>
<path d="M508.56,579.15 L514.06,579.15 L511.31,574.47 Z" stroke="#2e5e2e" stroke-width="1.25" fill="none"/>
<path d="M519.63,588.23 L525.13,588.23 L522.38,583.56 Z" stroke="#2e5e2e" stroke-width="1.25" fill="none"/>
<path d="M530.69,597.33 L536.19,597.33 L533.44,592.66 Z" stroke="#2e5e2e" stroke-width="1.25" fill="none"/>
<path d="M541.76,606.25 L547.26,606.25 L544.51,601.57 Z" stroke="#2e5e2e" stroke-width="1.25" fill="none"/>
<path d="M552.82,616.57 L558.32,616.57 L555.57,611.89 Z" stroke="#2e5e2e" stroke-width="1.25" fill="none"/>
<path d="M563.89,628.78 L569.39,628.78 L566.64,624.11 Z" stroke="#2e5e2e" stroke-width="1.25" fill="none"/>
<path d="M574.95,641.35 L580.45,641.35 L577.7,636.68 Z" stroke="#2e5e2e" stroke-width="1.25" fill="none"/>
<path d="M586.02,652.72 L591.52,652.72 L588.77,648.05 Z" stroke="#2e5e2e" stroke-width="1.25" fill="none"/>
<path d="M597.08,664.43 L602.58,664.43 L599.83,659.76 Z" stroke="#2e5e2e" stroke-width="1.25" fill="none"/>
<path d="M608.15,678.06 L613.65,678.06 L610.9,673.39 Z" stroke="#2e5e2e" stroke-width="1.25" fill="none"/>
<path d="M69,761.19 L71.72,759.9 L74.45,758.58 L77.17,757.22 L79.89,755.82 L82.62,754.39 L85.34,752.93 L88.06,751.42 L90.78,749.88 L93.51,748.3 L96.23,746.68 L98.95,745.02 L101.68,743.32 L104.4,741.58 L107.12,739.8 L109.85,737.99 L112.57,736.12 L115.29,734.22 L118.02,732.28 L120.74,730.29 L123.46,728.26 L126.19,726.18 L128.91,724.06 L131.63,721.9 L134.35,719.69 L137.08,717.43 L139.8,715.13 L142.52,712.79 L145.25,710.39 L147.97,707.95 L150.69,705.46 L153.42,702.92 L156.14,700.33 L158.86,697.7 L161.59,695.01 L164.31,692.27 L167.03,689.49 L169.76,686.65 L172.48,683.77 L175.2,680.85 L177.92,677.88 L180.65,674.87 L183.37,671.83 L186.09,668.75 L188.82,665.64 L191.54,662.49 L194.26,659.32 L196.99,656.12 L199.71,652.89 L202.43,649.65 L205.16,646.38 L207.88,643.1 L210.6,639.8 L213.33,636.48 L216.05,633.15 L218.77,629.82 L221.49,626.48 L224.22,623.13 L226.94,619.78 L229.66,616.42 L232.39,613.07 L235.11,609.73 L237.83,606.38 L240.56,603.05 L243.28,599.72 L246,596.41 L248.73,593.11 L251.45,589.83 L254.17,586.57 L256.89,583.33 L259.62,580.11 L262.34,576.91 L265.06,573.75 L267.79,570.61 L270.51,567.5 L273.23,564.43 L275.96,561.4 L278.68,558.43 L281.4,555.53 L284.13,552.69 L286.85,549.94 L289.57,547.27 L292.3,544.7 L295.02,542.25 L297.74,539.9 L300.46,537.67 L303.19,535.54 L305.91,533.51 L308.63,531.57 L311.36,529.7 L314.08,527.92 L316.8,526.21 L319.53,524.55 L322.25,522.96 L324.97,521.41 L327.7,519.93 L330.42,518.5 L333.14,517.12 L335.87,515.8 L338.59,514.53 L341.31,513.31 L344.03,512.15 L346.76,511.05 L349.48,509.99 L352.2,508.99 L354.93,508.05 L357.65,507.16 L360.37,506.32 L363.1,505.53 L365.82,504.8 L368.54,504.12 L371.27,503.49 L373.99,502.92 L376.71,502.4 L379.44,501.93 L382.16,501.51 L384.88,501.15 L387.6,500.84 L390.33,500.58 L393.05,500.37 L395.77,500.21 L398.5,500.12 L401.22,500.07 L403.94,500.09 L406.67,500.16 L409.39,500.29 L412.11,500.47 L414.84,500.72 L417.56,501.02 L420.28,501.39 L423.01,501.82 L425.73,502.31 L428.45,502.87 L431.17,503.49 L433.9,504.17 L436.62,504.92 L439.34,505.73 L442.07,506.62 L444.79,507.57 L447.51,508.59 L450.24,509.67 L452.96,510.83 L455.68,512.06 L458.41,513.36 L461.13,514.73 L463.85,516.18 L466.57,517.68 L469.3,519.26 L472.02,520.9 L474.74,522.61 L477.47,524.39 L480.19,526.23 L482.91,528.13 L485.64,530.09 L488.36,532.12 L491.08,534.2 L493.81,536.35 L496.53,538.55 L499.25,540.81 L501.98,543.13 L504.7,545.51 L507.42,547.94 L510.14,550.42 L512.87,552.96 L515.59,555.55 L518.31,558.19 L521.04,560.88 L523.76,563.62 L526.48,566.41 L529.21,569.25 L531.93,572.13 L534.65,575.07 L537.38,578.04 L540.1,581.06 L542.82,584.13 L545.55,587.23 L548.27,590.38 L550.99,593.57 L553.71,596.8 L556.44,600.07 L559.16,603.38 L561.88,606.72 L564.61,610.1 L567.33,613.51 L570.05,616.96 L572.78,620.45 L575.5,623.96 L578.22,627.51 L580.95,631.09 L583.67,634.7 L586.39,638.34 L589.12,642 L591.84,645.7 L594.56,649.42 L597.28,653.16 L600.01,656.93 L602.73,660.73 L605.45,664.54 L608.18,668.38 L610.9,672.24" fill="none" stroke="#acac3c" stroke-width="1.4" stroke-linejoin="round" />
<circle cx="68.7" cy="757.8" r="2.16" stroke="#9a9a10" stroke-width="1.2" fill="none"/>
<circle cx="79.77" cy="753.48" r="2.16" stroke="#9a9a10" stroke-width="1.2" fill="none"/>
<circle cx="90.83" cy="749.82" r="2.16" stroke="#9a9a10" stroke-width="1.2" fill="none"/>
<circle cx="101.9" cy="742.7" r="2.16" stroke="#9a9a10" stroke-width="1.2" fill="none"/>
<circle cx="112.96" cy="735.11" r="2.16" stroke="#9a9a10" stroke-width="1.2" fill="none"/>
<circle cx="124.03" cy="726.87" r="2.16" stroke="#9a9a10" stroke-width="1.2" fill="none"/>
<circle cx="135.09" cy="718.27" r="2.16" stroke="#9a9a10" stroke-width="1.2" fill="none"/>
<circle cx="146.16" cy="709.36" r="2.16" stroke="#9a9a10" stroke-width="1.2" fill="none"/>
<circle cx="157.22" cy="699.18" r="2.16" stroke="#9a9a10" stroke-width="1.2" fill="none"/>
<circle cx="168.29" cy="687.82" r="2.16" stroke="#9a9a10" stroke-width="1.2" fill="none"/>
<circle cx="179.35" cy="677.43" r="2.16" stroke="#9a9a10" stroke-width="1.2" fill="none"/>
<circle cx="190.42" cy="664.85" r="2.16" stroke="#9a9a10" stroke-width="1.2" fill="none"/>
<circle cx="201.48" cy="651.24" r="2.16" stroke="#9a9a10" stroke-width="1.2" fill="none"/>
<circle cx="212.55" cy="638.54" r="2.16" stroke="#9a9a10" stroke-width="1.2" fill="none"/>
<circle cx="223.61" cy="625.13" r="2.16" stroke="#9a9a10" stroke-width="1.2" fill="none"/>
<circle cx="234.68" cy="611.4" r="2.16" stroke="#9a9a10" stroke-width="1.2" fill="none"/>
<circle cx="245.74" cy="597.66" r="2.16" stroke="#9a9a10" stroke-width="1.2" fill="none"/>
<circle cx="256.81" cy="586.4" r="2.16" stroke="#9a9a10" stroke-width="1.2" fill="none"/>
<circle cx="267.88" cy="572.89" r="2.16" stroke="#9a9a10" stroke-width="1.2" fill="none"/>
<circle cx="278.94" cy="560.18" r="2.16" stroke="#9a9a10" stroke-width="1.2" fill="none"/>
<circle cx="290.01" cy="550.26" r="2.16" stroke="#9a9a10" stroke-width="1.2" fill="none"/>
<circle cx="301.07" cy="541.65" r="2.16" stroke="#9a9a10" stroke-width="1.2" fill="none"/>
<circle cx="312.14" cy="533.55" r="2.16" stroke="#9a9a10" stroke-width="1.2" fill="none"/>
<circle cx="323.2" cy="526.13" r="2.16" stroke="#9a9a10" stroke-width="1.2" fill="none"/>
<circle cx="334.27" cy="520.04" r="2.16" stroke="#9a9a10" stroke-width="1.2" fill="none"/>
<circle cx="345.33" cy="514.58" r="2.16" stroke="#9a9a10" stroke-width="1.2" fill="none"/>
<circle cx="356.4" cy="509.88" r="2.16" stroke="#9a9a10" stroke-width="1.2" fill="none"/>
<circle cx="367.46" cy="506.84" r="2.16" stroke="#9a9a10" stroke-width="1.2" fill="none"/>
<circle cx="378.53" cy="503.19" r="2.16" stroke="#9a9a10" stroke-width="1.2" fill="none"/>
<circle cx="389.59" cy="501.85" r="2.16" stroke="#9a9a10" stroke-width="1.2" fill="none"/>
<circle cx="400.66" cy="501.13" r="2.16" stroke="#9a9a10" stroke-width="1.2" fill="none"/>
<circle cx="411.72" cy="501.79" r="2.16" stroke="#9a9a10" stroke-width="1.2" fill="none"/>
<circle cx="422.79" cy="502.79" r="2.16" stroke="#9a9a10" stroke-width="1.2" fill="none"/>
<circle cx="433.86" cy="504.24" r="2.16" stroke="#9a9a10" stroke-width="1.2" fill="none"/>
<circle cx="444.92" cy="508.65" r="2.16" stroke="#9a9a10" stroke-width="1.2" fill="none"/>
<circle cx="455.99" cy="513.59" r="2.16" stroke="#9a9a10" stroke-width="1.2" fill="none"/>
<circle cx="467.05" cy="517.74" r="2.16" stroke="#9a9a10" stroke-width="1.2" fill="none"/>
<circle cx="478.12" cy="524.08" r="2.16" stroke="#9a9a10" stroke-width="1.2" fill="none"/>
<circle cx="489.18" cy="533.07" r="2.16" stroke="#9a9a10" stroke-width="1.2" fill="none"/>
<circle cx="500.25" cy="541.98" r="2.16" stroke="#9a9a10" stroke-width="1.2" fill="none"/>
<circle cx="511.31" cy="551.6" r="2.16" stroke="#9a9a10" stroke-width="1.2" fill="none"/>
<circle cx="522.38" cy="564.1" r="2.16" stroke="#9a9a10" stroke-width="1.2" fill="none"/>
<circle cx="533.44" cy="577.21" r="2.16" stroke="#9a9a10" stroke-width="1.2" fill="none"/>
<circle cx="544.51" cy="591.59" r="2.16" stroke="#9a9a10" stroke-width="1.2" fill="none"/>
<circle cx="555.57" cy="605.73" r="2.16" stroke="#9a9a10" stroke-width="1.2" fill="none"/>
<circle cx="566.64" cy="620.98" r="2.16" stroke="#9a9a10" stroke-width="1.2" fill="none"/>
<circle cx="577.7" cy="636.76" r="2.16" stroke="#9a9a10" stroke-width="1.2" fill="none"/>
<circle cx="588.77" cy="650.56" r="2.16" stroke="#9a9a10" stroke-width="1.2" fill="none"/>
<circle cx="599.83" cy="665.82" r="2.16" stroke="#9a9a10" stroke-width="1.2" fill="none"/>
<circle cx="610.9" cy="682.7" r="2.16" stroke="#9a9a10" stroke-width="1.2" fill="none"/>
<path d="M69,749.68 L71.72,748.61 L74.45,747.42 L77.17,746.13 L79.89,744.73 L82.62,743.24 L85.34,741.65 L88.06,739.98 L90.78,738.23 L93.51,736.4 L96.23,734.51 L98.95,732.54 L101.68,730.52 L104.4,728.45 L107.12,726.32 L109.85,724.16 L112.57,721.95 L115.29,719.72 L118.02,717.46 L120.74,715.17 L123.46,712.88 L126.19,710.57 L128.91,708.25 L131.63,705.94 L134.35,703.62 L137.08,701.3 L139.8,698.96 L142.52,696.62 L145.25,694.27 L147.97,691.91 L150.69,689.54 L153.42,687.15 L156.14,684.74 L158.86,682.31 L161.59,679.86 L164.31,677.39 L167.03,674.9 L169.76,672.38 L172.48,669.83 L175.2,667.26 L177.92,664.65 L180.65,662.02 L183.37,659.35 L186.09,656.66 L188.82,653.94 L191.54,651.2 L194.26,648.45 L196.99,645.67 L199.71,642.88 L202.43,640.08 L205.16,637.27 L207.88,634.45 L210.6,631.63 L213.33,628.8 L216.05,625.97 L218.77,623.15 L221.49,620.32 L224.22,617.51 L226.94,614.7 L229.66,611.9 L232.39,609.12 L235.11,606.36 L237.83,603.61 L240.56,600.88 L243.28,598.17 L246,595.49 L248.73,592.84 L251.45,590.22 L254.17,587.63 L256.89,585.08 L259.62,582.57 L262.34,580.11 L265.06,577.69 L267.79,575.32 L270.51,573 L273.23,570.73 L275.96,568.52 L278.68,566.38 L281.4,564.29 L284.13,562.28 L286.85,560.33 L289.57,558.46 L292.3,556.65 L295.02,554.91 L297.74,553.24 L300.46,551.62 L303.19,550.06 L305.91,548.55 L308.63,547.09 L311.36,545.67 L314.08,544.29 L316.8,542.96 L319.53,541.66 L322.25,540.41 L324.97,539.2 L327.7,538.03 L330.42,536.91 L333.14,535.82 L335.87,534.78 L338.59,533.79 L341.31,532.83 L344.03,531.92 L346.76,531.05 L349.48,530.22 L352.2,529.44 L354.93,528.69 L357.65,528 L360.37,527.34 L363.1,526.73 L365.82,526.17 L368.54,525.64 L371.27,525.16 L373.99,524.73 L376.71,524.34 L379.44,523.99 L382.16,523.69 L384.88,523.43 L387.6,523.22 L390.33,523.05 L393.05,522.92 L395.77,522.84 L398.5,522.81 L401.22,522.82 L403.94,522.87 L406.67,522.98 L409.39,523.12 L412.11,523.31 L414.84,523.55 L417.56,523.83 L420.28,524.16 L423.01,524.54 L425.73,524.96 L428.45,525.43 L431.17,525.94 L433.9,526.5 L436.62,527.11 L439.34,527.76 L442.07,528.46 L444.79,529.21 L447.51,530 L450.24,530.84 L452.96,531.73 L455.68,532.66 L458.41,533.65 L461.13,534.68 L463.85,535.75 L466.57,536.88 L469.3,538.05 L472.02,539.26 L474.74,540.53 L477.47,541.84 L480.19,543.19 L482.91,544.59 L485.64,546.04 L488.36,547.53 L491.08,549.07 L493.81,550.66 L496.53,552.29 L499.25,553.96 L501.98,555.68 L504.7,557.45 L507.42,559.26 L510.14,561.11 L512.87,563.01 L515.59,564.96 L518.31,566.94 L521.04,568.97 L523.76,571.05 L526.48,573.17 L529.21,575.33 L531.93,577.54 L534.65,579.79 L537.38,582.08 L540.1,584.42 L542.82,586.8 L545.55,589.22 L548.27,591.69 L550.99,594.19 L553.71,596.74 L556.44,599.34 L559.16,601.97 L561.88,604.65 L564.61,607.36 L567.33,610.12 L570.05,612.93 L572.78,615.77 L575.5,618.65 L578.22,621.58 L580.95,624.54 L583.67,627.55 L586.39,630.6 L589.12,633.69 L591.84,636.82 L594.56,639.99 L597.28,643.2 L600.01,646.44 L602.73,649.73 L605.45,653.06 L608.18,656.43 L610.9,659.84" fill="none" stroke="#1515ff" stroke-width="1.4" stroke-linejoin="round" />
<path d="M66.2,763.42 L71.2,763.42 L68.7,767.67 Z" stroke="#1515ff" stroke-width="1.25" fill="none"/>
<path d="M77.27,757.16 L82.27,757.16 L79.77,761.41 Z" stroke="#1515ff" stroke-width="1.25" fill="none"/>
<path d="M88.33,749.13 L93.33,749.13 L90.83,753.38 Z" stroke="#1515ff" stroke-width="1.25" fill="none"/>
<path d="M99.4,740.83 L104.4,740.83 L101.9,745.08 Z" stroke="#1515ff" stroke-width="1.25" fill="none"/>
<path d="M110.46,731.76 L115.46,731.76 L112.96,736.01 Z" stroke="#1515ff" stroke-width="1.25" fill="none"/>
<path d="M121.53,722.19 L126.53,722.19 L124.03,726.44 Z" stroke="#1515ff" stroke-width="1.25" fill="none"/>
<path d="M132.59,711.04 L137.59,711.04 L135.09,715.29 Z" stroke="#1515ff" stroke-width="1.25" fill="none"/>
<path d="M143.66,700.05 L148.66,700.05 L146.16,704.3 Z" stroke="#1515ff" stroke-width="1.25" fill="none"/>
<path d="M154.72,687.8 L159.72,687.8 L157.22,692.05 Z" stroke="#1515ff" stroke-width="1.25" fill="none"/>
<path d="M165.79,674.26 L170.79,674.26 L168.29,678.51 Z" stroke="#1515ff" stroke-width="1.25" fill="none"/>
<path d="M176.85,661.9 L181.85,661.9 L179.35,666.15 Z" stroke="#1515ff" stroke-width="1.25" fill="none"/>
<path d="M187.92,648.51 L192.92,648.51 L190.42,652.76 Z" stroke="#1515ff" stroke-width="1.25" fill="none"/>
<path d="M198.98,635.17 L203.98,635.17 L201.48,639.42 Z" stroke="#1515ff" stroke-width="1.25" fill="none"/>
<path d="M210.05,622.97 L215.05,622.97 L212.55,627.22 Z" stroke="#1515ff" stroke-width="1.25" fill="none"/>
<path d="M221.11,610.24 L226.11,610.24 L223.61,614.49 Z" stroke="#1515ff" stroke-width="1.25" fill="none"/>
<path d="M232.18,598.08 L237.18,598.08 L234.68,602.33 Z" stroke="#1515ff" stroke-width="1.25" fill="none"/>
<path d="M243.24,586.88 L248.24,586.88 L245.74,591.13 Z" stroke="#1515ff" stroke-width="1.25" fill="none"/>
<path d="M254.31,576.29 L259.31,576.29 L256.81,580.54 Z" stroke="#1515ff" stroke-width="1.25" fill="none"/>
<path d="M265.38,567.77 L270.38,567.77 L267.88,572.02 Z" stroke="#1515ff" stroke-width="1.25" fill="none"/>
<path d="M276.44,557.97 L281.44,557.97 L278.94,562.22 Z" stroke="#1515ff" stroke-width="1.25" fill="none"/>
<path d="M287.51,550.03 L292.51,550.03 L290.01,554.28 Z" stroke="#1515ff" stroke-width="1.25" fill="none"/>
<path d="M298.57,540.8 L303.57,540.8 L301.07,545.05 Z" stroke="#1515ff" stroke-width="1.25" fill="none"/>
<path d="M309.64,536.15 L314.64,536.15 L312.14,540.4 Z" stroke="#1515ff" stroke-width="1.25" fill="none"/>
<path d="M320.7,534.16 L325.7,534.16 L323.2,538.41 Z" stroke="#1515ff" stroke-width="1.25" fill="none"/>
<path d="M331.77,530.57 L336.77,530.57 L334.27,534.82 Z" stroke="#1515ff" stroke-width="1.25" fill="none"/>
<path d="M342.83,528.05 L347.83,528.05 L345.33,532.3 Z" stroke="#1515ff" stroke-width="1.25" fill="none"/>
<path d="M353.9,525.96 L358.9,525.96 L356.4,530.21 Z" stroke="#1515ff" stroke-width="1.25" fill="none"/>
<path d="M364.96,524.94 L369.96,524.94 L367.46,529.19 Z" stroke="#1515ff" stroke-width="1.25" fill="none"/>
<path d="M376.03,524.14 L381.03,524.14 L378.53,528.39 Z" stroke="#1515ff" stroke-width="1.25" fill="none"/>
<path d="M387.09,524.9 L392.09,524.9 L389.59,529.15 Z" stroke="#1515ff" stroke-width="1.25" fill="none"/>
<path d="M398.16,525.4 L403.16,525.4 L400.66,529.65 Z" stroke="#1515ff" stroke-width="1.25" fill="none"/>
<path d="M409.22,527.39 L414.22,527.39 L411.72,531.64 Z" stroke="#1515ff" stroke-width="1.25" fill="none"/>
<path d="M420.29,527.92 L425.29,527.92 L422.79,532.17 Z" stroke="#1515ff" stroke-width="1.25" fill="none"/>
<path d="M431.36,529.08 L436.36,529.08 L433.86,533.33 Z" stroke="#1515ff" stroke-width="1.25" fill="none"/>
<path d="M442.42,530.46 L447.42,530.46 L444.92,534.71 Z" stroke="#1515ff" stroke-width="1.25" fill="none"/>
<path d="M453.49,534.12 L458.49,534.12 L455.99,538.37 Z" stroke="#1515ff" stroke-width="1.25" fill="none"/>
<path d="M464.55,538.27 L469.55,538.27 L467.05,542.52 Z" stroke="#1515ff" stroke-width="1.25" fill="none"/>
<path d="M475.62,542.67 L480.62,542.67 L478.12,546.92 Z" stroke="#1515ff" stroke-width="1.25" fill="none"/>
<path d="M486.68,547.59 L491.68,547.59 L489.18,551.84 Z" stroke="#1515ff" stroke-width="1.25" fill="none"/>
<path d="M497.75,553.1 L502.75,553.1 L500.25,557.35 Z" stroke="#1515ff" stroke-width="1.25" fill="none"/>
<path d="M508.81,559.19 L513.81,559.19 L511.31,563.44 Z" stroke="#1515ff" stroke-width="1.25" fill="none"/>
<path d="M519.88,566.19 L524.88,566.19 L522.38,570.44 Z" stroke="#1515ff" stroke-width="1.25" fill="none"/>
<path d="M530.94,575.39 L535.94,575.39 L533.44,579.64 Z" stroke="#1515ff" stroke-width="1.25" fill="none"/>
<path d="M542.01,584.41 L547.01,584.41 L544.51,588.66 Z" stroke="#1515ff" stroke-width="1.25" fill="none"/>
<path d="M553.07,595.78 L558.07,595.78 L555.57,600.03 Z" stroke="#1515ff" stroke-width="1.25" fill="none"/>
<path d="M564.14,607.36 L569.14,607.36 L566.64,611.61 Z" stroke="#1515ff" stroke-width="1.25" fill="none"/>
<path d="M575.2,619.22 L580.2,619.22 L577.7,623.47 Z" stroke="#1515ff" stroke-width="1.25" fill="none"/>
<path d="M586.27,632.51 L591.27,632.51 L588.77,636.76 Z" stroke="#1515ff" stroke-width="1.25" fill="none"/>
<path d="M597.33,644.75 L602.33,644.75 L599.83,649 Z" stroke="#1515ff" stroke-width="1.25" fill="none"/>
<path d="M608.4,659.92 L613.4,659.92 L610.9,664.17 Z" stroke="#1515ff" stroke-width="1.25" fill="none"/>
<path d="M69.5,604.26 L72.22,604.22 L74.94,604.19 L77.66,604.16 L80.38,604.15 L83.1,604.14 L85.82,604.14 L88.54,604.15 L91.26,604.17 L93.99,604.2 L96.71,604.23 L99.43,604.28 L102.15,604.33 L104.87,604.39 L107.59,604.46 L110.31,604.54 L113.03,604.63 L115.75,604.73 L118.47,604.84 L121.19,604.96 L123.91,605.09 L126.63,605.23 L129.35,605.38 L132.07,605.54 L134.79,605.72 L137.52,605.9 L140.24,606.09 L142.96,606.29 L145.68,606.51 L148.4,606.73 L151.12,606.97 L153.84,607.22 L156.56,607.48 L159.28,607.75 L162,608.04 L164.72,608.33 L167.44,608.64 L170.16,608.96 L172.88,609.3 L175.6,609.64 L178.32,610 L181.04,610.37 L183.77,610.75 L186.49,611.15 L189.21,611.56 L191.93,611.98 L194.65,612.42 L197.37,612.87 L200.09,613.33 L202.81,613.81 L205.53,614.3 L208.25,614.81 L210.97,615.33 L213.69,615.87 L216.41,616.41 L219.13,616.98 L221.85,617.56 L224.57,618.15 L227.29,618.76 L230.02,619.38 L232.74,620.02 L235.46,620.67 L238.18,621.34 L240.9,622.03 L243.62,622.73 L246.34,623.45 L249.06,624.18 L251.78,624.93 L254.5,625.7 L257.22,626.48 L259.94,627.28 L262.66,628.09 L265.38,628.92 L268.1,629.77 L270.82,630.64 L273.55,631.52 L276.27,632.42 L278.99,633.34 L281.71,634.28 L284.43,635.23 L287.15,636.21 L289.87,637.2 L292.59,638.2 L295.31,639.23 L298.03,640.27 L300.75,641.34 L303.47,642.42 L306.19,643.52 L308.91,644.64 L311.63,645.78 L314.35,646.94 L317.07,648.11 L319.8,649.31 L322.52,650.53 L325.24,651.76 L327.96,653.02 L330.68,654.29 L333.4,655.59 L336.12,656.9 L338.84,658.22 L341.56,659.57 L344.28,660.93 L347,662.3 L349.72,663.69 L352.44,665.09 L355.16,666.51 L357.88,667.94 L360.6,669.38 L363.33,670.83 L366.05,672.29 L368.77,673.77 L371.49,675.25 L374.21,676.74 L376.93,678.24 L379.65,679.75 L382.37,681.27 L385.09,682.79 L387.81,684.32 L390.53,685.86 L393.25,687.39 L395.97,688.94 L398.69,690.49 L401.41,692.04 L404.13,693.59 L406.85,695.14 L409.58,696.7 L412.3,698.26 L415.02,699.81 L417.74,701.37 L420.46,702.92 L423.18,704.48 L425.9,706.03 L428.62,707.58 L431.34,709.12 L434.06,710.66 L436.78,712.2 L439.5,713.73 L442.22,715.25 L444.94,716.77 L447.66,718.28 L450.38,719.78 L453.11,721.28 L455.83,722.76 L458.55,724.24 L461.27,725.7 L463.99,727.16 L466.71,728.6 L469.43,730.03 L472.15,731.45 L474.87,732.85 L477.59,734.24 L480.31,735.62 L483.03,736.98 L485.75,738.33 L488.47,739.66 L491.19,740.97 L493.91,742.27 L496.63,743.55 L499.36,744.81 L502.08,746.05 L504.8,747.27 L507.52,748.48 L510.24,749.67 L512.96,750.83 L515.68,751.98 L518.4,753.11 L521.12,754.22 L523.84,755.31 L526.56,756.38 L529.28,757.42 L532,758.45 L534.72,759.45 L537.44,760.44 L540.16,761.4 L542.88,762.34 L545.61,763.25 L548.33,764.15 L551.05,765.02 L553.77,765.87 L556.49,766.69 L559.21,767.49 L561.93,768.27 L564.65,769.02 L567.37,769.75 L570.09,770.46 L572.81,771.13 L575.53,771.79 L578.25,772.42 L580.97,773.02 L583.69,773.59 L586.41,774.14 L589.14,774.67 L591.86,775.16 L594.58,775.63 L597.3,776.07 L600.02,776.49 L602.74,776.87 L605.46,777.23 L608.18,777.56 L610.9,777.86" fill="none" stroke="#222" stroke-width="1.3" stroke-linejoin="round" />
<circle cx="68.7" cy="599.2" r="2.65" fill="#111"/>
<circle cx="79.77" cy="600.03" r="2.65" fill="#111"/>
<circle cx="90.83" cy="600.8" r="2.65" fill="#111"/>
<circle cx="101.9" cy="600.8" r="2.65" fill="#111"/>
<circle cx="112.96" cy="602.28" r="2.65" fill="#111"/>
<circle cx="124.03" cy="603.55" r="2.65" fill="#111"/>
<circle cx="135.09" cy="604.83" r="2.65" fill="#111"/>
<circle cx="146.16" cy="605.81" r="2.65" fill="#111"/>
<circle cx="157.22" cy="606.4" r="2.65" fill="#111"/>
<circle cx="168.29" cy="607.88" r="2.65" fill="#111"/>
<circle cx="179.35" cy="608.88" r="2.65" fill="#111"/>
<circle cx="190.42" cy="611.29" r="2.65" fill="#111"/>
<circle cx="201.48" cy="613.48" r="2.65" fill="#111"/>
<circle cx="212.55" cy="615.21" r="2.65" fill="#111"/>
<circle cx="223.61" cy="617.38" r="2.65" fill="#111"/>
<circle cx="234.68" cy="621.09" r="2.65" fill="#111"/>
<circle cx="245.74" cy="622.83" r="2.65" fill="#111"/>
<circle cx="256.81" cy="625.93" r="2.65" fill="#111"/>
<circle cx="267.88" cy="628.44" r="2.65" fill="#111"/>
<circle cx="278.94" cy="631.85" r="2.65" fill="#111"/>
<circle cx="290.01" cy="635.99" r="2.65" fill="#111"/>
<circle cx="301.07" cy="640.33" r="2.65" fill="#111"/>
<circle cx="312.14" cy="645.27" r="2.65" fill="#111"/>
<circle cx="323.2" cy="649.72" r="2.65" fill="#111"/>
<circle cx="334.27" cy="655.76" r="2.65" fill="#111"/>
<circle cx="345.33" cy="661.51" r="2.65" fill="#111"/>
<circle cx="356.4" cy="667.2" r="2.65" fill="#111"/>
<circle cx="367.46" cy="672.73" r="2.65" fill="#111"/>
<circle cx="378.53" cy="679.04" r="2.65" fill="#111"/>
<circle cx="389.59" cy="686.43" r="2.65" fill="#111"/>
<circle cx="400.66" cy="692.41" r="2.65" fill="#111"/>
<circle cx="411.72" cy="698.9" r="2.65" fill="#111"/>
<circle cx="422.79" cy="705.24" r="2.65" fill="#111"/>
<circle cx="433.86" cy="711.16" r="2.65" fill="#111"/>
<circle cx="444.92" cy="717" r="2.65" fill="#111"/>
<circle cx="455.99" cy="723.32" r="2.65" fill="#111"/>
<circle cx="467.05" cy="728.49" r="2.65" fill="#111"/>
<circle cx="478.12" cy="734.2" r="2.65" fill="#111"/>
<circle cx="489.18" cy="739.83" r="2.65" fill="#111"/>
<circle cx="500.25" cy="744.6" r="2.65" fill="#111"/>
<circle cx="511.31" cy="749.56" r="2.65" fill="#111"/>
<circle cx="522.38" cy="754.09" r="2.65" fill="#111"/>
<circle cx="533.44" cy="759.23" r="2.65" fill="#111"/>
<circle cx="544.51" cy="762.74" r="2.65" fill="#111"/>
<circle cx="555.57" cy="765.95" r="2.65" fill="#111"/>
<circle cx="566.64" cy="767.77" r="2.65" fill="#111"/>
<circle cx="577.7" cy="770.97" r="2.65" fill="#111"/>
<circle cx="588.77" cy="774.18" r="2.65" fill="#111"/>
<circle cx="599.83" cy="775.85" r="2.65" fill="#111"/>
<circle cx="610.9" cy="778.5" r="2.65" fill="#111"/>
<path d="M66.2,592.23 L68.94,592.33 L71.67,592.43 L74.41,592.53 L77.15,592.62 L79.89,592.71 L82.62,592.79 L85.36,592.87 L88.1,592.95 L90.83,593.02 L93.57,593.09 L96.31,593.17 L99.05,593.24 L101.78,593.31 L104.52,593.38 L107.26,593.45 L109.99,593.53 L112.73,593.61 L115.47,593.68 L118.21,593.77 L120.94,593.86 L123.68,593.95 L126.42,594.04 L129.16,594.15 L131.89,594.25 L134.63,594.37 L137.37,594.49 L140.1,594.62 L142.84,594.76 L145.58,594.9 L148.32,595.06 L151.05,595.23 L153.79,595.4 L156.53,595.59 L159.26,595.79 L162,596 L164.74,596.23 L167.48,596.46 L170.21,596.72 L172.95,596.98 L175.69,597.26 L178.42,597.56 L181.16,597.87 L183.9,598.2 L186.64,598.54 L189.37,598.91 L192.11,599.29 L194.85,599.69 L197.58,600.11 L200.32,600.55 L203.06,601.01 L205.8,601.49 L208.53,601.99 L211.27,602.51 L214.01,603.06 L216.75,603.63 L219.48,604.22 L222.22,604.84 L224.96,605.48 L227.69,606.15 L230.43,606.84 L233.17,607.56 L235.91,608.31 L238.64,609.08 L241.38,609.89 L244.12,610.71 L246.85,611.57 L249.59,612.45 L252.33,613.35 L255.07,614.28 L257.8,615.24 L260.54,616.22 L263.28,617.23 L266.01,618.26 L268.75,619.31 L271.49,620.38 L274.23,621.48 L276.96,622.6 L279.7,623.75 L282.44,624.91 L285.17,626.1 L287.91,627.31 L290.65,628.54 L293.39,629.79 L296.12,631.06 L298.86,632.35 L301.6,633.67 L304.34,635 L307.07,636.35 L309.81,637.71 L312.55,639.1 L315.28,640.51 L318.02,641.93 L320.76,643.37 L323.5,644.83 L326.23,646.3 L328.97,647.79 L331.71,649.3 L334.44,650.82 L337.18,652.36 L339.92,653.91 L342.66,655.48 L345.39,657.06 L348.13,658.66 L350.87,660.27 L353.6,661.9 L356.34,663.54 L359.08,665.19 L361.82,666.85 L364.55,668.52 L367.29,670.21 L370.03,671.91 L372.76,673.62 L375.5,675.34 L378.24,677.07 L380.98,678.81 L383.71,680.56 L386.45,682.31 L389.19,684.08 L391.93,685.85 L394.66,687.62 L397.4,689.4 L400.14,691.18 L402.87,692.97 L405.61,694.76 L408.35,696.56 L411.09,698.36 L413.82,700.15 L416.56,701.95 L419.3,703.75 L422.03,705.55 L424.77,707.34 L427.51,709.14 L430.25,710.93 L432.98,712.72 L435.72,714.5 L438.46,716.28 L441.19,718.06 L443.93,719.83 L446.67,721.59 L449.41,723.35 L452.14,725.1 L454.88,726.84 L457.62,728.57 L460.35,730.29 L463.09,732 L465.83,733.7 L468.57,735.39 L471.3,737.07 L474.04,738.73 L476.78,740.38 L479.52,742.02 L482.25,743.64 L484.99,745.25 L487.73,746.84 L490.46,748.41 L493.2,749.96 L495.94,751.5 L498.68,753.02 L501.41,754.52 L504.15,756 L506.89,757.46 L509.62,758.9 L512.36,760.32 L515.1,761.72 L517.84,763.09 L520.57,764.45 L523.31,765.78 L526.05,767.09 L528.78,768.38 L531.52,769.64 L534.26,770.88 L537,772.1 L539.73,773.29 L542.47,774.46 L545.21,775.61 L547.94,776.73 L550.68,777.83 L553.42,778.9 L556.16,779.94 L558.89,780.96 L561.63,781.96 L564.37,782.92 L567.11,783.87 L569.84,784.78 L572.58,785.66 L575.32,786.52 L578.05,787.35 L580.79,788.15 L583.53,788.93 L586.27,789.67 L589,790.39 L591.74,791.07 L594.48,791.73 L597.21,792.36 L599.95,792.95 L602.69,793.52 L605.43,794.05 L608.16,794.56 L610.9,795.03" fill="none" stroke="#ff5aac" stroke-width="1.4" stroke-linejoin="round" />
<rect x="65.9" y="585.3" width="5.6" height="5" fill="#ff0a84"/>
<rect x="76.97" y="585.34" width="5.6" height="5" fill="#ff0a84"/>
<rect x="88.03" y="586.61" width="5.6" height="5" fill="#ff0a84"/>
<rect x="99.1" y="587.8" width="5.6" height="5" fill="#ff0a84"/>
<rect x="110.16" y="589.1" width="5.6" height="5" fill="#ff0a84"/>
<rect x="121.23" y="589.14" width="5.6" height="5" fill="#ff0a84"/>
<rect x="132.29" y="590.11" width="5.6" height="5" fill="#ff0a84"/>
<rect x="143.36" y="590.32" width="5.6" height="5" fill="#ff0a84"/>
<rect x="154.42" y="591.6" width="5.6" height="5" fill="#ff0a84"/>
<rect x="165.49" y="593.28" width="5.6" height="5" fill="#ff0a84"/>
<rect x="176.55" y="595.74" width="5.6" height="5" fill="#ff0a84"/>
<rect x="187.62" y="596.57" width="5.6" height="5" fill="#ff0a84"/>
<rect x="198.68" y="598.28" width="5.6" height="5" fill="#ff0a84"/>
<rect x="209.75" y="600.01" width="5.6" height="5" fill="#ff0a84"/>
<rect x="220.81" y="602.48" width="5.6" height="5" fill="#ff0a84"/>
<rect x="231.88" y="605.71" width="5.6" height="5" fill="#ff0a84"/>
<rect x="242.94" y="608.68" width="5.6" height="5" fill="#ff0a84"/>
<rect x="254.01" y="612.12" width="5.6" height="5" fill="#ff0a84"/>
<rect x="265.08" y="615.95" width="5.6" height="5" fill="#ff0a84"/>
<rect x="276.14" y="619.84" width="5.6" height="5" fill="#ff0a84"/>
<rect x="287.21" y="624.77" width="5.6" height="5" fill="#ff0a84"/>
<rect x="298.27" y="629.44" width="5.6" height="5" fill="#ff0a84"/>
<rect x="309.34" y="634.87" width="5.6" height="5" fill="#ff0a84"/>
<rect x="320.4" y="641.19" width="5.6" height="5" fill="#ff0a84"/>
<rect x="331.47" y="647.55" width="5.6" height="5" fill="#ff0a84"/>
<rect x="342.53" y="653.97" width="5.6" height="5" fill="#ff0a84"/>
<rect x="353.6" y="661.66" width="5.6" height="5" fill="#ff0a84"/>
<rect x="364.66" y="668.42" width="5.6" height="5" fill="#ff0a84"/>
<rect x="375.73" y="674.84" width="5.6" height="5" fill="#ff0a84"/>
<rect x="386.79" y="681.46" width="5.6" height="5" fill="#ff0a84"/>
<rect x="397.86" y="689.31" width="5.6" height="5" fill="#ff0a84"/>
<rect x="408.92" y="697.57" width="5.6" height="5" fill="#ff0a84"/>
<rect x="419.99" y="704.73" width="5.6" height="5" fill="#ff0a84"/>
<rect x="431.06" y="712.2" width="5.6" height="5" fill="#ff0a84"/>
<rect x="442.12" y="719.07" width="5.6" height="5" fill="#ff0a84"/>
<rect x="453.19" y="725.19" width="5.6" height="5" fill="#ff0a84"/>
<rect x="464.25" y="732.11" width="5.6" height="5" fill="#ff0a84"/>
<rect x="475.32" y="739.25" width="5.6" height="5" fill="#ff0a84"/>
<rect x="486.38" y="745.03" width="5.6" height="5" fill="#ff0a84"/>
<rect x="497.45" y="750.95" width="5.6" height="5" fill="#ff0a84"/>
<rect x="508.51" y="756.6" width="5.6" height="5" fill="#ff0a84"/>
<rect x="519.58" y="762.32" width="5.6" height="5" fill="#ff0a84"/>
<rect x="530.64" y="768.41" width="5.6" height="5" fill="#ff0a84"/>
<rect x="541.71" y="772.65" width="5.6" height="5" fill="#ff0a84"/>
<rect x="552.77" y="777.56" width="5.6" height="5" fill="#ff0a84"/>
<rect x="563.84" y="780.46" width="5.6" height="5" fill="#ff0a84"/>
<rect x="574.9" y="785.16" width="5.6" height="5" fill="#ff0a84"/>
<rect x="585.97" y="787.61" width="5.6" height="5" fill="#ff0a84"/>
<rect x="597.03" y="790.7" width="5.6" height="5" fill="#ff0a84"/>
<rect x="608.1" y="793.5" width="5.6" height="5" fill="#ff0a84"/>
<path d="M68.7,514.16 L71.42,514.01 L74.15,513.87 L76.87,513.77 L79.6,513.69 L82.32,513.64 L85.05,513.62 L87.77,513.62 L90.5,513.65 L93.22,513.7 L95.95,513.78 L98.67,513.89 L101.4,514.02 L104.12,514.18 L106.84,514.37 L109.57,514.58 L112.29,514.82 L115.02,515.09 L117.74,515.39 L120.47,515.71 L123.19,516.05 L125.92,516.43 L128.64,516.83 L131.37,517.26 L134.09,517.71 L136.82,518.19 L139.54,518.7 L142.26,519.23 L144.99,519.79 L147.71,520.38 L150.44,521 L153.16,521.64 L155.89,522.31 L158.61,523.01 L161.34,523.73 L164.06,524.48 L166.79,525.26 L169.51,526.06 L172.24,526.89 L174.96,527.75 L177.68,528.64 L180.41,529.55 L183.13,530.49 L185.86,531.45 L188.58,532.45 L191.31,533.47 L194.03,534.52 L196.76,535.59 L199.48,536.7 L202.21,537.83 L204.93,538.98 L207.66,540.17 L210.38,541.38 L213.11,542.62 L215.83,543.89 L218.55,545.18 L221.28,546.5 L224,547.85 L226.73,549.22 L229.45,550.62 L232.18,552.04 L234.9,553.49 L237.63,554.97 L240.35,556.47 L243.08,557.99 L245.8,559.54 L248.53,561.11 L251.25,562.71 L253.97,564.33 L256.7,565.97 L259.42,567.64 L262.15,569.32 L264.87,571.03 L267.6,572.77 L270.32,574.52 L273.05,576.3 L275.77,578.09 L278.5,579.91 L281.22,581.75 L283.95,583.6 L286.67,585.48 L289.39,587.38 L292.12,589.3 L294.84,591.23 L297.57,593.19 L300.29,595.16 L303.02,597.15 L305.74,599.17 L308.47,601.19 L311.19,603.24 L313.92,605.3 L316.64,607.38 L319.37,609.48 L322.09,611.59 L324.81,613.72 L327.54,615.86 L330.26,618.02 L332.99,620.2 L335.71,622.39 L338.44,624.59 L341.16,626.81 L343.89,629.05 L346.61,631.29 L349.34,633.56 L352.06,635.83 L354.79,638.12 L357.51,640.41 L360.23,642.72 L362.96,645.04 L365.68,647.37 L368.41,649.71 L371.13,652.06 L373.86,654.41 L376.58,656.77 L379.31,659.14 L382.03,661.52 L384.76,663.9 L387.48,666.29 L390.21,668.68 L392.93,671.07 L395.65,673.47 L398.38,675.87 L401.1,678.28 L403.83,680.68 L406.55,683.09 L409.28,685.49 L412,687.9 L414.73,690.3 L417.45,692.71 L420.18,695.11 L422.9,697.5 L425.63,699.9 L428.35,702.29 L431.07,704.68 L433.8,707.06 L436.52,709.43 L439.25,711.8 L441.97,714.17 L444.7,716.52 L447.42,718.87 L450.15,721.21 L452.87,723.54 L455.6,725.85 L458.32,728.16 L461.05,730.46 L463.77,732.75 L466.49,735.02 L469.22,737.28 L471.94,739.53 L474.67,741.76 L477.39,743.98 L480.12,746.18 L482.84,748.37 L485.57,750.54 L488.29,752.69 L491.02,754.83 L493.74,756.94 L496.47,759.04 L499.19,761.12 L501.92,763.18 L504.64,765.22 L507.36,767.24 L510.09,769.23 L512.81,771.2 L515.54,773.15 L518.26,775.08 L520.99,776.98 L523.71,778.86 L526.44,780.71 L529.16,782.53 L531.89,784.33 L534.61,786.1 L537.34,787.84 L540.06,789.56 L542.78,791.24 L545.51,792.9 L548.23,794.52 L550.96,796.12 L553.68,797.68 L556.41,799.21 L559.13,800.71 L561.86,802.17 L564.58,803.61 L567.31,805 L570.03,806.36 L572.76,807.69 L575.48,808.98 L578.2,810.23 L580.93,811.45 L583.65,812.62 L586.38,813.76 L589.1,814.86 L591.83,815.92 L594.55,816.94 L597.28,817.91 L600,818.85 L602.73,819.74 L605.45,820.59 L608.18,821.4 L610.9,822.16" fill="none" stroke="#ff2a2a" stroke-width="1.3" stroke-linejoin="round" />
<path d="M66.1,509.7 L71.3,514.9 M66.1,514.9 L71.3,509.7" stroke="#ff2a2a" stroke-width="1.1" fill="none"/>
<path d="M77.17,509.74 L82.37,514.94 M77.17,514.94 L82.37,509.74" stroke="#ff2a2a" stroke-width="1.1" fill="none"/>
<path d="M88.23,511.01 L93.43,516.21 M88.23,516.21 L93.43,511.01" stroke="#ff2a2a" stroke-width="1.1" fill="none"/>
<path d="M99.3,511.7 L104.5,516.9 M99.3,516.9 L104.5,511.7" stroke="#ff2a2a" stroke-width="1.1" fill="none"/>
<path d="M110.36,513.57 L115.56,518.77 M110.36,518.77 L115.56,513.57" stroke="#ff2a2a" stroke-width="1.1" fill="none"/>
<path d="M121.43,514.78 L126.63,519.98 M121.43,519.98 L126.63,514.78" stroke="#ff2a2a" stroke-width="1.1" fill="none"/>
<path d="M132.49,516.74 L137.69,521.94 M132.49,521.94 L137.69,516.74" stroke="#ff2a2a" stroke-width="1.1" fill="none"/>
<path d="M143.56,518.44 L148.76,523.64 M143.56,523.64 L148.76,518.44" stroke="#ff2a2a" stroke-width="1.1" fill="none"/>
<path d="M154.62,520.91 L159.82,526.11 M154.62,526.11 L159.82,520.91" stroke="#ff2a2a" stroke-width="1.1" fill="none"/>
<path d="M165.69,524.17 L170.89,529.37 M165.69,529.37 L170.89,524.17" stroke="#ff2a2a" stroke-width="1.1" fill="none"/>
<path d="M176.75,527.13 L181.95,532.33 M176.75,532.33 L181.95,527.13" stroke="#ff2a2a" stroke-width="1.1" fill="none"/>
<path d="M187.82,530.74 L193.02,535.94 M187.82,535.94 L193.02,530.74" stroke="#ff2a2a" stroke-width="1.1" fill="none"/>
<path d="M198.88,534.56 L204.08,539.76 M198.88,539.76 L204.08,534.56" stroke="#ff2a2a" stroke-width="1.1" fill="none"/>
<path d="M209.95,539.12 L215.15,544.32 M209.95,544.32 L215.15,539.12" stroke="#ff2a2a" stroke-width="1.1" fill="none"/>
<path d="M221.01,543.86 L226.21,549.06 M221.01,549.06 L226.21,543.86" stroke="#ff2a2a" stroke-width="1.1" fill="none"/>
<path d="M232.08,549.44 L237.28,554.64 M232.08,554.64 L237.28,549.44" stroke="#ff2a2a" stroke-width="1.1" fill="none"/>
<path d="M243.14,556.32 L248.34,561.52 M243.14,561.52 L248.34,556.32" stroke="#ff2a2a" stroke-width="1.1" fill="none"/>
<path d="M254.21,562.95 L259.41,568.15 M254.21,568.15 L259.41,562.95" stroke="#ff2a2a" stroke-width="1.1" fill="none"/>
<path d="M265.28,569.57 L270.48,574.77 M265.28,574.77 L270.48,569.57" stroke="#ff2a2a" stroke-width="1.1" fill="none"/>
<path d="M276.34,577.39 L281.54,582.59 M276.34,582.59 L281.54,577.39" stroke="#ff2a2a" stroke-width="1.1" fill="none"/>
<path d="M287.41,584.32 L292.61,589.52 M287.41,589.52 L292.61,584.32" stroke="#ff2a2a" stroke-width="1.1" fill="none"/>
<path d="M298.47,592.55 L303.67,597.75 M298.47,597.75 L303.67,592.55" stroke="#ff2a2a" stroke-width="1.1" fill="none"/>
<path d="M309.54,600.85 L314.74,606.05 M309.54,606.05 L314.74,600.85" stroke="#ff2a2a" stroke-width="1.1" fill="none"/>
<path d="M320.6,610.23 L325.8,615.43 M320.6,615.43 L325.8,610.23" stroke="#ff2a2a" stroke-width="1.1" fill="none"/>
<path d="M331.67,619.44 L336.87,624.64 M331.67,624.64 L336.87,619.44" stroke="#ff2a2a" stroke-width="1.1" fill="none"/>
<path d="M342.73,628.06 L347.93,633.26 M342.73,633.26 L347.93,628.06" stroke="#ff2a2a" stroke-width="1.1" fill="none"/>
<path d="M353.8,637.13 L359,642.33 M353.8,642.33 L359,637.13" stroke="#ff2a2a" stroke-width="1.1" fill="none"/>
<path d="M364.86,646.58 L370.06,651.78 M364.86,651.78 L370.06,646.58" stroke="#ff2a2a" stroke-width="1.1" fill="none"/>
<path d="M375.93,656.46 L381.13,661.66 M375.93,661.66 L381.13,656.46" stroke="#ff2a2a" stroke-width="1.1" fill="none"/>
<path d="M386.99,666.34 L392.19,671.54 M386.99,671.54 L392.19,666.34" stroke="#ff2a2a" stroke-width="1.1" fill="none"/>
<path d="M398.06,675.46 L403.26,680.66 M398.06,680.66 L403.26,675.46" stroke="#ff2a2a" stroke-width="1.1" fill="none"/>
<path d="M409.12,684.95 L414.32,690.15 M409.12,690.15 L414.32,684.95" stroke="#ff2a2a" stroke-width="1.1" fill="none"/>
<path d="M420.19,695 L425.39,700.2 M420.19,700.2 L425.39,695" stroke="#ff2a2a" stroke-width="1.1" fill="none"/>
<path d="M431.26,704.13 L436.46,709.33 M431.26,709.33 L436.46,704.13" stroke="#ff2a2a" stroke-width="1.1" fill="none"/>
<path d="M442.32,714.15 L447.52,719.35 M442.32,719.35 L447.52,714.15" stroke="#ff2a2a" stroke-width="1.1" fill="none"/>
<path d="M453.39,723.19 L458.59,728.39 M453.39,728.39 L458.59,723.19" stroke="#ff2a2a" stroke-width="1.1" fill="none"/>
<path d="M464.45,732.38 L469.65,737.58 M464.45,737.58 L469.65,732.38" stroke="#ff2a2a" stroke-width="1.1" fill="none"/>
<path d="M475.52,741.48 L480.72,746.68 M475.52,746.68 L480.72,741.48" stroke="#ff2a2a" stroke-width="1.1" fill="none"/>
<path d="M486.58,750.57 L491.78,755.77 M486.58,755.77 L491.78,750.57" stroke="#ff2a2a" stroke-width="1.1" fill="none"/>
<path d="M497.65,759.66 L502.85,764.86 M497.65,764.86 L502.85,759.66" stroke="#ff2a2a" stroke-width="1.1" fill="none"/>
<path d="M508.71,767.82 L513.91,773.02 M508.71,773.02 L513.91,767.82" stroke="#ff2a2a" stroke-width="1.1" fill="none"/>
<path d="M519.78,776.02 L524.98,781.22 M519.78,781.22 L524.98,776.02" stroke="#ff2a2a" stroke-width="1.1" fill="none"/>
<path d="M530.84,783.05 L536.04,788.25 M530.84,788.25 L536.04,783.05" stroke="#ff2a2a" stroke-width="1.1" fill="none"/>
<path d="M541.91,789.98 L547.11,795.18 M541.91,795.18 L547.11,789.98" stroke="#ff2a2a" stroke-width="1.1" fill="none"/>
<path d="M552.97,796.3 L558.17,801.5 M552.97,801.5 L558.17,796.3" stroke="#ff2a2a" stroke-width="1.1" fill="none"/>
<path d="M564.04,802.02 L569.24,807.22 M564.04,807.22 L569.24,802.02" stroke="#ff2a2a" stroke-width="1.1" fill="none"/>
<path d="M575.1,807.55 L580.3,812.75 M575.1,812.75 L580.3,807.55" stroke="#ff2a2a" stroke-width="1.1" fill="none"/>
<path d="M586.17,811.93 L591.37,817.13 M586.17,817.13 L591.37,811.93" stroke="#ff2a2a" stroke-width="1.1" fill="none"/>
<path d="M597.23,815.46 L602.43,820.66 M597.23,820.66 L602.43,815.46" stroke="#ff2a2a" stroke-width="1.1" fill="none"/>
<path d="M608.3,819.5 L613.5,824.7 M608.3,824.7 L613.5,819.5" stroke="#ff2a2a" stroke-width="1.1" fill="none"/>
<path d="M68.7,462.83 L71.42,462.64 L74.15,462.49 L76.87,462.38 L79.6,462.32 L82.32,462.29 L85.05,462.3 L87.77,462.35 L90.5,462.44 L93.22,462.57 L95.95,462.74 L98.67,462.94 L101.4,463.18 L104.12,463.46 L106.84,463.78 L109.57,464.14 L112.29,464.53 L115.02,464.96 L117.74,465.42 L120.47,465.92 L123.19,466.46 L125.92,467.03 L128.64,467.64 L131.37,468.28 L134.09,468.96 L136.82,469.67 L139.54,470.41 L142.26,471.19 L144.99,472 L147.71,472.85 L150.44,473.72 L153.16,474.63 L155.89,475.57 L158.61,476.55 L161.34,477.55 L164.06,478.59 L166.79,479.66 L169.51,480.76 L172.24,481.88 L174.96,483.04 L177.68,484.23 L180.41,485.45 L183.13,486.7 L185.86,487.98 L188.58,489.28 L191.31,490.62 L194.03,491.98 L196.76,493.37 L199.48,494.79 L202.21,496.23 L204.93,497.71 L207.66,499.21 L210.38,500.73 L213.11,502.28 L215.83,503.86 L218.55,505.46 L221.28,507.09 L224,508.74 L226.73,510.42 L229.45,512.12 L232.18,513.84 L234.9,515.58 L237.63,517.35 L240.35,519.13 L243.08,520.94 L245.8,522.77 L248.53,524.61 L251.25,526.48 L253.97,528.36 L256.7,530.26 L259.42,532.18 L262.15,534.12 L264.87,536.07 L267.6,538.04 L270.32,540.02 L273.05,542.02 L275.77,544.03 L278.5,546.05 L281.22,548.09 L283.95,550.14 L286.67,552.2 L289.39,554.27 L292.12,556.36 L294.84,558.45 L297.57,560.56 L300.29,562.67 L303.02,564.79 L305.74,566.92 L308.47,569.06 L311.19,571.21 L313.92,573.36 L316.64,575.52 L319.37,577.68 L322.09,579.85 L324.81,582.02 L327.54,584.2 L330.26,586.38 L332.99,588.57 L335.71,590.75 L338.44,592.94 L341.16,595.13 L343.89,597.32 L346.61,599.51 L349.34,601.7 L352.06,603.89 L354.79,606.07 L357.51,608.26 L360.23,610.45 L362.96,612.63 L365.68,614.81 L368.41,616.99 L371.13,619.17 L373.86,621.35 L376.58,623.52 L379.31,625.69 L382.03,627.86 L384.76,630.02 L387.48,632.18 L390.21,634.34 L392.93,636.49 L395.65,638.64 L398.38,640.78 L401.1,642.92 L403.83,645.05 L406.55,647.17 L409.28,649.3 L412,651.41 L414.73,653.52 L417.45,655.62 L420.18,657.72 L422.9,659.81 L425.63,661.89 L428.35,663.96 L431.07,666.03 L433.8,668.09 L436.52,670.14 L439.25,672.18 L441.97,674.21 L444.7,676.24 L447.42,678.25 L450.15,680.26 L452.87,682.26 L455.6,684.24 L458.32,686.22 L461.05,688.18 L463.77,690.14 L466.49,692.08 L469.22,694.02 L471.94,695.94 L474.67,697.85 L477.39,699.75 L480.12,701.63 L482.84,703.51 L485.57,705.37 L488.29,707.22 L491.02,709.05 L493.74,710.88 L496.47,712.68 L499.19,714.48 L501.92,716.26 L504.64,718.03 L507.36,719.78 L510.09,721.51 L512.81,723.24 L515.54,724.94 L518.26,726.63 L520.99,728.31 L523.71,729.97 L526.44,731.61 L529.16,733.24 L531.89,734.85 L534.61,736.44 L537.34,738.01 L540.06,739.57 L542.78,741.11 L545.51,742.63 L548.23,744.13 L550.96,745.62 L553.68,747.09 L556.41,748.53 L559.13,749.96 L561.86,751.37 L564.58,752.76 L567.31,754.13 L570.03,755.47 L572.76,756.8 L575.48,758.11 L578.2,759.39 L580.93,760.66 L583.65,761.9 L586.38,763.12 L589.1,764.32 L591.83,765.5 L594.55,766.66 L597.28,767.79 L600,768.9 L602.73,769.98 L605.45,771.04 L608.18,772.08 L610.9,773.1" fill="none" stroke="#acac3c" stroke-width="1.4" stroke-linejoin="round" />
<circle cx="68.7" cy="461.2" r="2.16" stroke="#9a9a10" stroke-width="1.2" fill="none"/>
<circle cx="79.77" cy="462.03" r="2.16" stroke="#9a9a10" stroke-width="1.2" fill="none"/>
<circle cx="90.83" cy="463.01" r="2.16" stroke="#9a9a10" stroke-width="1.2" fill="none"/>
<circle cx="101.9" cy="464" r="2.16" stroke="#9a9a10" stroke-width="1.2" fill="none"/>
<circle cx="112.96" cy="465.65" r="2.16" stroke="#9a9a10" stroke-width="1.2" fill="none"/>
<circle cx="124.03" cy="468.08" r="2.16" stroke="#9a9a10" stroke-width="1.2" fill="none"/>
<circle cx="135.09" cy="470.07" r="2.16" stroke="#9a9a10" stroke-width="1.2" fill="none"/>
<circle cx="146.16" cy="472.55" r="2.16" stroke="#9a9a10" stroke-width="1.2" fill="none"/>
<circle cx="157.22" cy="476.01" r="2.16" stroke="#9a9a10" stroke-width="1.2" fill="none"/>
<circle cx="168.29" cy="479.86" r="2.16" stroke="#9a9a10" stroke-width="1.2" fill="none"/>
<circle cx="179.35" cy="484.3" r="2.16" stroke="#9a9a10" stroke-width="1.2" fill="none"/>
<circle cx="190.42" cy="489.19" r="2.16" stroke="#9a9a10" stroke-width="1.2" fill="none"/>
<circle cx="201.48" cy="495.33" r="2.16" stroke="#9a9a10" stroke-width="1.2" fill="none"/>
<circle cx="212.55" cy="501.13" r="2.16" stroke="#9a9a10" stroke-width="1.2" fill="none"/>
<circle cx="223.61" cy="507.45" r="2.16" stroke="#9a9a10" stroke-width="1.2" fill="none"/>
<circle cx="234.68" cy="515.08" r="2.16" stroke="#9a9a10" stroke-width="1.2" fill="none"/>
<circle cx="245.74" cy="522.02" r="2.16" stroke="#9a9a10" stroke-width="1.2" fill="none"/>
<circle cx="256.81" cy="529.88" r="2.16" stroke="#9a9a10" stroke-width="1.2" fill="none"/>
<circle cx="267.88" cy="537.97" r="2.16" stroke="#9a9a10" stroke-width="1.2" fill="none"/>
<circle cx="278.94" cy="546.87" r="2.16" stroke="#9a9a10" stroke-width="1.2" fill="none"/>
<circle cx="290.01" cy="555.67" r="2.16" stroke="#9a9a10" stroke-width="1.2" fill="none"/>
<circle cx="301.07" cy="564.55" r="2.16" stroke="#9a9a10" stroke-width="1.2" fill="none"/>
<circle cx="312.14" cy="572.95" r="2.16" stroke="#9a9a10" stroke-width="1.2" fill="none"/>
<circle cx="323.2" cy="581.35" r="2.16" stroke="#9a9a10" stroke-width="1.2" fill="none"/>
<circle cx="334.27" cy="589.87" r="2.16" stroke="#9a9a10" stroke-width="1.2" fill="none"/>
<circle cx="345.33" cy="598.55" r="2.16" stroke="#9a9a10" stroke-width="1.2" fill="none"/>
<circle cx="356.4" cy="607.34" r="2.16" stroke="#9a9a10" stroke-width="1.2" fill="none"/>
<circle cx="367.46" cy="616.39" r="2.16" stroke="#9a9a10" stroke-width="1.2" fill="none"/>
<circle cx="378.53" cy="625.28" r="2.16" stroke="#9a9a10" stroke-width="1.2" fill="none"/>
<circle cx="389.59" cy="634.08" r="2.16" stroke="#9a9a10" stroke-width="1.2" fill="none"/>
<circle cx="400.66" cy="642.39" r="2.16" stroke="#9a9a10" stroke-width="1.2" fill="none"/>
<circle cx="411.72" cy="651.65" r="2.16" stroke="#9a9a10" stroke-width="1.2" fill="none"/>
<circle cx="422.79" cy="659.72" r="2.16" stroke="#9a9a10" stroke-width="1.2" fill="none"/>
<circle cx="433.86" cy="667.49" r="2.16" stroke="#9a9a10" stroke-width="1.2" fill="none"/>
<circle cx="444.92" cy="676.39" r="2.16" stroke="#9a9a10" stroke-width="1.2" fill="none"/>
<circle cx="455.99" cy="684.19" r="2.16" stroke="#9a9a10" stroke-width="1.2" fill="none"/>
<circle cx="467.05" cy="691.6" r="2.16" stroke="#9a9a10" stroke-width="1.2" fill="none"/>
<circle cx="478.12" cy="698.95" r="2.16" stroke="#9a9a10" stroke-width="1.2" fill="none"/>
<circle cx="489.18" cy="706.35" r="2.16" stroke="#9a9a10" stroke-width="1.2" fill="none"/>
<circle cx="500.25" cy="715.36" r="2.16" stroke="#9a9a10" stroke-width="1.2" fill="none"/>
<circle cx="511.31" cy="722.47" r="2.16" stroke="#9a9a10" stroke-width="1.2" fill="none"/>
<circle cx="522.38" cy="729.56" r="2.16" stroke="#9a9a10" stroke-width="1.2" fill="none"/>
<circle cx="533.44" cy="736.8" r="2.16" stroke="#9a9a10" stroke-width="1.2" fill="none"/>
<circle cx="544.51" cy="742.69" r="2.16" stroke="#9a9a10" stroke-width="1.2" fill="none"/>
<circle cx="555.57" cy="748.33" r="2.16" stroke="#9a9a10" stroke-width="1.2" fill="none"/>
<circle cx="566.64" cy="754.21" r="2.16" stroke="#9a9a10" stroke-width="1.2" fill="none"/>
<circle cx="577.7" cy="759.75" r="2.16" stroke="#9a9a10" stroke-width="1.2" fill="none"/>
<circle cx="588.77" cy="764.13" r="2.16" stroke="#9a9a10" stroke-width="1.2" fill="none"/>
<circle cx="599.83" cy="768.12" r="2.16" stroke="#9a9a10" stroke-width="1.2" fill="none"/>
<circle cx="610.9" cy="772.8" r="2.16" stroke="#9a9a10" stroke-width="1.2" fill="none"/>
<path d="M68.7,479.16 L71.42,478.99 L74.15,478.84 L76.87,478.73 L79.6,478.64 L82.32,478.58 L85.05,478.55 L87.77,478.55 L90.5,478.57 L93.22,478.63 L95.95,478.71 L98.67,478.82 L101.4,478.96 L104.12,479.13 L106.84,479.33 L109.57,479.56 L112.29,479.81 L115.02,480.1 L117.74,480.41 L120.47,480.75 L123.19,481.13 L125.92,481.53 L128.64,481.96 L131.37,482.42 L134.09,482.91 L136.82,483.43 L139.54,483.98 L142.26,484.56 L144.99,485.17 L147.71,485.81 L150.44,486.48 L153.16,487.19 L155.89,487.92 L158.61,488.68 L161.34,489.47 L164.06,490.29 L166.79,491.13 L169.51,492.01 L172.24,492.92 L174.96,493.86 L177.68,494.83 L180.41,495.82 L183.13,496.85 L185.86,497.9 L188.58,498.99 L191.31,500.1 L194.03,501.24 L196.76,502.41 L199.48,503.61 L202.21,504.84 L204.93,506.09 L207.66,507.38 L210.38,508.69 L213.11,510.03 L215.83,511.4 L218.55,512.8 L221.28,514.22 L224,515.67 L226.73,517.15 L229.45,518.65 L232.18,520.18 L234.9,521.73 L237.63,523.3 L240.35,524.9 L243.08,526.53 L245.8,528.17 L248.53,529.84 L251.25,531.52 L253.97,533.23 L256.7,534.96 L259.42,536.71 L262.15,538.48 L264.87,540.26 L267.6,542.07 L270.32,543.89 L273.05,545.73 L275.77,547.59 L278.5,549.46 L281.22,551.35 L283.95,553.25 L286.67,555.17 L289.39,557.1 L292.12,559.05 L294.84,561.01 L297.57,562.98 L300.29,564.96 L303.02,566.95 L305.74,568.96 L308.47,570.97 L311.19,573 L313.92,575.03 L316.64,577.08 L319.37,579.13 L322.09,581.19 L324.81,583.26 L327.54,585.33 L330.26,587.41 L332.99,589.5 L335.71,591.59 L338.44,593.68 L341.16,595.78 L343.89,597.89 L346.61,599.99 L349.34,602.1 L352.06,604.21 L354.79,606.33 L357.51,608.44 L360.23,610.56 L362.96,612.68 L365.68,614.8 L368.41,616.92 L371.13,619.04 L373.86,621.16 L376.58,623.28 L379.31,625.4 L382.03,627.52 L384.76,629.64 L387.48,631.76 L390.21,633.88 L392.93,636 L395.65,638.12 L398.38,640.23 L401.1,642.34 L403.83,644.45 L406.55,646.56 L409.28,648.66 L412,650.76 L414.73,652.86 L417.45,654.95 L420.18,657.04 L422.9,659.13 L425.63,661.21 L428.35,663.29 L431.07,665.36 L433.8,667.43 L436.52,669.49 L439.25,671.55 L441.97,673.6 L444.7,675.64 L447.42,677.68 L450.15,679.71 L452.87,681.74 L455.6,683.75 L458.32,685.76 L461.05,687.77 L463.77,689.76 L466.49,691.75 L469.22,693.73 L471.94,695.7 L474.67,697.66 L477.39,699.61 L480.12,701.55 L482.84,703.49 L485.57,705.41 L488.29,707.32 L491.02,709.23 L493.74,711.12 L496.47,713 L499.19,714.87 L501.92,716.73 L504.64,718.58 L507.36,720.42 L510.09,722.24 L512.81,724.05 L515.54,725.85 L518.26,727.64 L520.99,729.41 L523.71,731.17 L526.44,732.92 L529.16,734.65 L531.89,736.37 L534.61,738.07 L537.34,739.76 L540.06,741.44 L542.78,743.1 L545.51,744.74 L548.23,746.37 L550.96,747.99 L553.68,749.58 L556.41,751.17 L559.13,752.73 L561.86,754.28 L564.58,755.81 L567.31,757.32 L570.03,758.82 L572.76,760.3 L575.48,761.76 L578.2,763.2 L580.93,764.62 L583.65,766.03 L586.38,767.42 L589.1,768.78 L591.83,770.13 L594.55,771.46 L597.28,772.76 L600,774.05 L602.73,775.32 L605.45,776.56 L608.18,777.79 L610.9,778.99" fill="none" stroke="#3f7a3f" stroke-width="1.4" stroke-linejoin="round" />
<path d="M65.95,478.96 L71.45,478.96 L68.7,474.29 Z" stroke="#2e5e2e" stroke-width="1.25" fill="none"/>
<path d="M77.02,480.76 L82.52,480.76 L79.77,476.09 Z" stroke="#2e5e2e" stroke-width="1.25" fill="none"/>
<path d="M88.08,480.78 L93.58,480.78 L90.83,476.11 Z" stroke="#2e5e2e" stroke-width="1.25" fill="none"/>
<path d="M99.15,482.46 L104.65,482.46 L101.9,477.79 Z" stroke="#2e5e2e" stroke-width="1.25" fill="none"/>
<path d="M110.21,483.3 L115.71,483.3 L112.96,478.63 Z" stroke="#2e5e2e" stroke-width="1.25" fill="none"/>
<path d="M121.28,484.01 L126.78,484.01 L124.03,479.34 Z" stroke="#2e5e2e" stroke-width="1.25" fill="none"/>
<path d="M132.34,485.33 L137.84,485.33 L135.09,480.65 Z" stroke="#2e5e2e" stroke-width="1.25" fill="none"/>
<path d="M143.41,487.7 L148.91,487.7 L146.16,483.03 Z" stroke="#2e5e2e" stroke-width="1.25" fill="none"/>
<path d="M154.47,490.67 L159.97,490.67 L157.22,485.99 Z" stroke="#2e5e2e" stroke-width="1.25" fill="none"/>
<path d="M165.54,493.93 L171.04,493.93 L168.29,489.25 Z" stroke="#2e5e2e" stroke-width="1.25" fill="none"/>
<path d="M176.6,497.58 L182.1,497.58 L179.35,492.91 Z" stroke="#2e5e2e" stroke-width="1.25" fill="none"/>
<path d="M187.67,501.78 L193.17,501.78 L190.42,497.1 Z" stroke="#2e5e2e" stroke-width="1.25" fill="none"/>
<path d="M198.73,506.31 L204.23,506.31 L201.48,501.64 Z" stroke="#2e5e2e" stroke-width="1.25" fill="none"/>
<path d="M209.8,511.38 L215.3,511.38 L212.55,506.71 Z" stroke="#2e5e2e" stroke-width="1.25" fill="none"/>
<path d="M220.86,516.32 L226.36,516.32 L223.61,511.65 Z" stroke="#2e5e2e" stroke-width="1.25" fill="none"/>
<path d="M231.93,522.87 L237.43,522.87 L234.68,518.2 Z" stroke="#2e5e2e" stroke-width="1.25" fill="none"/>
<path d="M242.99,529.59 L248.49,529.59 L245.74,524.91 Z" stroke="#2e5e2e" stroke-width="1.25" fill="none"/>
<path d="M254.06,536.4 L259.56,536.4 L256.81,531.72 Z" stroke="#2e5e2e" stroke-width="1.25" fill="none"/>
<path d="M265.13,544.25 L270.63,544.25 L267.88,539.57 Z" stroke="#2e5e2e" stroke-width="1.25" fill="none"/>
<path d="M276.19,551.95 L281.69,551.95 L278.94,547.28 Z" stroke="#2e5e2e" stroke-width="1.25" fill="none"/>
<path d="M287.26,559.07 L292.76,559.07 L290.01,554.4 Z" stroke="#2e5e2e" stroke-width="1.25" fill="none"/>
<path d="M298.32,567.31 L303.82,567.31 L301.07,562.64 Z" stroke="#2e5e2e" stroke-width="1.25" fill="none"/>
<path d="M309.39,575.42 L314.89,575.42 L312.14,570.74 Z" stroke="#2e5e2e" stroke-width="1.25" fill="none"/>
<path d="M320.45,584.01 L325.95,584.01 L323.2,579.33 Z" stroke="#2e5e2e" stroke-width="1.25" fill="none"/>
<path d="M331.52,592.53 L337.02,592.53 L334.27,587.85 Z" stroke="#2e5e2e" stroke-width="1.25" fill="none"/>
<path d="M342.58,601.22 L348.08,601.22 L345.33,596.54 Z" stroke="#2e5e2e" stroke-width="1.25" fill="none"/>
<path d="M353.65,610.2 L359.15,610.2 L356.4,605.52 Z" stroke="#2e5e2e" stroke-width="1.25" fill="none"/>
<path d="M364.71,618.95 L370.21,618.95 L367.46,614.28 Z" stroke="#2e5e2e" stroke-width="1.25" fill="none"/>
<path d="M375.78,627.94 L381.28,627.94 L378.53,623.27 Z" stroke="#2e5e2e" stroke-width="1.25" fill="none"/>
<path d="M386.84,636.16 L392.34,636.16 L389.59,631.49 Z" stroke="#2e5e2e" stroke-width="1.25" fill="none"/>
<path d="M397.91,644.46 L403.41,644.46 L400.66,639.78 Z" stroke="#2e5e2e" stroke-width="1.25" fill="none"/>
<path d="M408.97,653.71 L414.47,653.71 L411.72,649.04 Z" stroke="#2e5e2e" stroke-width="1.25" fill="none"/>
<path d="M420.04,661.78 L425.54,661.78 L422.79,657.11 Z" stroke="#2e5e2e" stroke-width="1.25" fill="none"/>
<path d="M431.11,669.55 L436.61,669.55 L433.86,664.88 Z" stroke="#2e5e2e" stroke-width="1.25" fill="none"/>
<path d="M442.17,678.46 L447.67,678.46 L444.92,673.78 Z" stroke="#2e5e2e" stroke-width="1.25" fill="none"/>
<path d="M453.24,686.25 L458.74,686.25 L455.99,681.58 Z" stroke="#2e5e2e" stroke-width="1.25" fill="none"/>
<path d="M464.3,693.66 L469.8,693.66 L467.05,688.99 Z" stroke="#2e5e2e" stroke-width="1.25" fill="none"/>
<path d="M475.37,701.01 L480.87,701.01 L478.12,696.33 Z" stroke="#2e5e2e" stroke-width="1.25" fill="none"/>
<path d="M486.43,708.42 L491.93,708.42 L489.18,703.74 Z" stroke="#2e5e2e" stroke-width="1.25" fill="none"/>
<path d="M497.5,717.43 L503,717.43 L500.25,712.75 Z" stroke="#2e5e2e" stroke-width="1.25" fill="none"/>
<path d="M508.56,724.93 L514.06,724.93 L511.31,720.26 Z" stroke="#2e5e2e" stroke-width="1.25" fill="none"/>
<path d="M519.63,731.61 L525.13,731.61 L522.38,726.94 Z" stroke="#2e5e2e" stroke-width="1.25" fill="none"/>
<path d="M530.69,739.45 L536.19,739.45 L533.44,734.77 Z" stroke="#2e5e2e" stroke-width="1.25" fill="none"/>
<path d="M541.76,746.32 L547.26,746.32 L544.51,741.64 Z" stroke="#2e5e2e" stroke-width="1.25" fill="none"/>
<path d="M552.82,752.76 L558.32,752.76 L555.57,748.08 Z" stroke="#2e5e2e" stroke-width="1.25" fill="none"/>
<path d="M563.89,758.97 L569.39,758.97 L566.64,754.3 Z" stroke="#2e5e2e" stroke-width="1.25" fill="none"/>
<path d="M574.95,765.01 L580.45,765.01 L577.7,760.34 Z" stroke="#2e5e2e" stroke-width="1.25" fill="none"/>
<path d="M586.02,771.8 L591.52,771.8 L588.77,767.12 Z" stroke="#2e5e2e" stroke-width="1.25" fill="none"/>
<path d="M597.08,776.43 L602.58,776.43 L599.83,771.75 Z" stroke="#2e5e2e" stroke-width="1.25" fill="none"/>
<path d="M608.15,780.56 L613.65,780.56 L610.9,775.89 Z" stroke="#2e5e2e" stroke-width="1.25" fill="none"/>
<path d="M68.7,461.85 L71.42,461.81 L74.15,461.79 L76.87,461.8 L79.6,461.83 L82.32,461.88 L85.05,461.96 L87.77,462.06 L90.5,462.18 L93.22,462.32 L95.95,462.49 L98.67,462.69 L101.4,462.9 L104.12,463.14 L106.84,463.41 L109.57,463.7 L112.29,464.01 L115.02,464.35 L117.74,464.71 L120.47,465.09 L123.19,465.5 L125.92,465.94 L128.64,466.4 L131.37,466.88 L134.09,467.39 L136.82,467.92 L139.54,468.48 L142.26,469.06 L144.99,469.67 L147.71,470.31 L150.44,470.96 L153.16,471.65 L155.89,472.36 L158.61,473.1 L161.34,473.86 L164.06,474.64 L166.79,475.46 L169.51,476.3 L172.24,477.16 L174.96,478.05 L177.68,478.97 L180.41,479.92 L183.13,480.89 L185.86,481.88 L188.58,482.91 L191.31,483.96 L194.03,485.03 L196.76,486.14 L199.48,487.27 L202.21,488.43 L204.93,489.61 L207.66,490.83 L210.38,492.07 L213.11,493.33 L215.83,494.63 L218.55,495.95 L221.28,497.3 L224,498.67 L226.73,500.07 L229.45,501.5 L232.18,502.94 L234.9,504.42 L237.63,505.91 L240.35,507.43 L243.08,508.96 L245.8,510.52 L248.53,512.1 L251.25,513.7 L253.97,515.32 L256.7,516.96 L259.42,518.62 L262.15,520.29 L264.87,521.98 L267.6,523.69 L270.32,525.41 L273.05,527.15 L275.77,528.91 L278.5,530.68 L281.22,532.46 L283.95,534.26 L286.67,536.07 L289.39,537.89 L292.12,539.72 L294.84,541.56 L297.57,543.42 L300.29,545.28 L303.02,547.15 L305.74,549.03 L308.47,550.92 L311.19,552.82 L313.92,554.73 L316.64,556.64 L319.37,558.55 L322.09,560.47 L324.81,562.4 L327.54,564.33 L330.26,566.27 L332.99,568.2 L335.71,570.14 L338.44,572.09 L341.16,574.03 L343.89,575.97 L346.61,577.92 L349.34,579.86 L352.06,581.8 L354.79,583.75 L357.51,585.69 L360.23,587.62 L362.96,589.56 L365.68,591.49 L368.41,593.42 L371.13,595.34 L373.86,597.26 L376.58,599.18 L379.31,601.09 L382.03,602.99 L384.76,604.89 L387.48,606.78 L390.21,608.67 L392.93,610.54 L395.65,612.41 L398.38,614.27 L401.1,616.12 L403.83,617.97 L406.55,619.8 L409.28,621.62 L412,623.43 L414.73,625.23 L417.45,627.02 L420.18,628.79 L422.9,630.56 L425.63,632.31 L428.35,634.04 L431.07,635.77 L433.8,637.47 L436.52,639.17 L439.25,640.85 L441.97,642.51 L444.7,644.16 L447.42,645.78 L450.15,647.4 L452.87,648.99 L455.6,650.57 L458.32,652.13 L461.05,653.67 L463.77,655.19 L466.49,656.69 L469.22,658.17 L471.94,659.63 L474.67,661.07 L477.39,662.48 L480.12,663.88 L482.84,665.25 L485.57,666.6 L488.29,667.93 L491.02,669.23 L493.74,670.51 L496.47,671.77 L499.19,673.01 L501.92,674.22 L504.64,675.41 L507.36,676.58 L510.09,677.73 L512.81,678.85 L515.54,679.95 L518.26,681.03 L520.99,682.08 L523.71,683.11 L526.44,684.12 L529.16,685.1 L531.89,686.06 L534.61,687 L537.34,687.91 L540.06,688.8 L542.78,689.67 L545.51,690.51 L548.23,691.33 L550.96,692.12 L553.68,692.89 L556.41,693.64 L559.13,694.36 L561.86,695.06 L564.58,695.74 L567.31,696.39 L570.03,697.01 L572.76,697.62 L575.48,698.19 L578.2,698.75 L580.93,699.28 L583.65,699.78 L586.38,700.26 L589.1,700.72 L591.83,701.15 L594.55,701.55 L597.28,701.93 L600,702.29 L602.73,702.62 L605.45,702.92 L608.18,703.2 L610.9,703.46" fill="none" stroke="#1515ff" stroke-width="1.4" stroke-linejoin="round" />
<path d="M66.2,458.62 L71.2,458.62 L68.7,462.88 Z" stroke="#1515ff" stroke-width="1.25" fill="none"/>
<path d="M77.27,459.35 L82.27,459.35 L79.77,463.6 Z" stroke="#1515ff" stroke-width="1.25" fill="none"/>
<path d="M88.33,460.14 L93.33,460.14 L90.83,464.39 Z" stroke="#1515ff" stroke-width="1.25" fill="none"/>
<path d="M99.4,461.12 L104.4,461.12 L101.9,465.37 Z" stroke="#1515ff" stroke-width="1.25" fill="none"/>
<path d="M110.46,462.77 L115.46,462.77 L112.96,467.02 Z" stroke="#1515ff" stroke-width="1.25" fill="none"/>
<path d="M121.53,465.19 L126.53,465.19 L124.03,469.44 Z" stroke="#1515ff" stroke-width="1.25" fill="none"/>
<path d="M132.59,466.89 L137.59,466.89 L135.09,471.14 Z" stroke="#1515ff" stroke-width="1.25" fill="none"/>
<path d="M143.66,469.36 L148.66,469.36 L146.16,473.61 Z" stroke="#1515ff" stroke-width="1.25" fill="none"/>
<path d="M154.72,471.83 L159.72,471.83 L157.22,476.08 Z" stroke="#1515ff" stroke-width="1.25" fill="none"/>
<path d="M165.79,474.3 L170.79,474.3 L168.29,478.55 Z" stroke="#1515ff" stroke-width="1.25" fill="none"/>
<path d="M176.85,477.94 L181.85,477.94 L179.35,482.19 Z" stroke="#1515ff" stroke-width="1.25" fill="none"/>
<path d="M187.92,481.18 L192.92,481.18 L190.42,485.43 Z" stroke="#1515ff" stroke-width="1.25" fill="none"/>
<path d="M198.98,485.48 L203.98,485.48 L201.48,489.73 Z" stroke="#1515ff" stroke-width="1.25" fill="none"/>
<path d="M210.05,491.05 L215.05,491.05 L212.55,495.3 Z" stroke="#1515ff" stroke-width="1.25" fill="none"/>
<path d="M221.11,495.99 L226.11,495.99 L223.61,500.24 Z" stroke="#1515ff" stroke-width="1.25" fill="none"/>
<path d="M232.18,501.56 L237.18,501.56 L234.68,505.81 Z" stroke="#1515ff" stroke-width="1.25" fill="none"/>
<path d="M243.24,507.67 L248.24,507.67 L245.74,511.92 Z" stroke="#1515ff" stroke-width="1.25" fill="none"/>
<path d="M254.31,514.56 L259.31,514.56 L256.81,518.81 Z" stroke="#1515ff" stroke-width="1.25" fill="none"/>
<path d="M265.38,521.19 L270.38,521.19 L267.88,525.44 Z" stroke="#1515ff" stroke-width="1.25" fill="none"/>
<path d="M276.44,528.32 L281.44,528.32 L278.94,532.57 Z" stroke="#1515ff" stroke-width="1.25" fill="none"/>
<path d="M287.51,536.41 L292.51,536.41 L290.01,540.66 Z" stroke="#1515ff" stroke-width="1.25" fill="none"/>
<path d="M298.57,543.67 L303.57,543.67 L301.07,547.92 Z" stroke="#1515ff" stroke-width="1.25" fill="none"/>
<path d="M309.64,550.78 L314.64,550.78 L312.14,555.03 Z" stroke="#1515ff" stroke-width="1.25" fill="none"/>
<path d="M320.7,559.67 L325.7,559.67 L323.2,563.92 Z" stroke="#1515ff" stroke-width="1.25" fill="none"/>
<path d="M331.77,567.42 L336.77,567.42 L334.27,571.67 Z" stroke="#1515ff" stroke-width="1.25" fill="none"/>
<path d="M342.83,575.32 L347.83,575.32 L345.33,579.57 Z" stroke="#1515ff" stroke-width="1.25" fill="none"/>
<path d="M353.9,583.77 L358.9,583.77 L356.4,588.02 Z" stroke="#1515ff" stroke-width="1.25" fill="none"/>
<path d="M364.96,591.33 L369.96,591.33 L367.46,595.58 Z" stroke="#1515ff" stroke-width="1.25" fill="none"/>
<path d="M376.03,598.74 L381.03,598.74 L378.53,602.99 Z" stroke="#1515ff" stroke-width="1.25" fill="none"/>
<path d="M387.09,606.54 L392.09,606.54 L389.59,610.79 Z" stroke="#1515ff" stroke-width="1.25" fill="none"/>
<path d="M398.16,614.25 L403.16,614.25 L400.66,618.5 Z" stroke="#1515ff" stroke-width="1.25" fill="none"/>
<path d="M409.22,622.4 L414.22,622.4 L411.72,626.65 Z" stroke="#1515ff" stroke-width="1.25" fill="none"/>
<path d="M420.29,629.95 L425.29,629.95 L422.79,634.2 Z" stroke="#1515ff" stroke-width="1.25" fill="none"/>
<path d="M431.36,636.46 L436.36,636.46 L433.86,640.71 Z" stroke="#1515ff" stroke-width="1.25" fill="none"/>
<path d="M442.42,643.19 L447.42,643.19 L444.92,647.44 Z" stroke="#1515ff" stroke-width="1.25" fill="none"/>
<path d="M453.49,649.22 L458.49,649.22 L455.99,653.47 Z" stroke="#1515ff" stroke-width="1.25" fill="none"/>
<path d="M464.55,654.85 L469.55,654.85 L467.05,659.1 Z" stroke="#1515ff" stroke-width="1.25" fill="none"/>
<path d="M475.62,660.72 L480.62,660.72 L478.12,664.97 Z" stroke="#1515ff" stroke-width="1.25" fill="none"/>
<path d="M486.68,666.36 L491.68,666.36 L489.18,670.61 Z" stroke="#1515ff" stroke-width="1.25" fill="none"/>
<path d="M497.75,671.33 L502.75,671.33 L500.25,675.58 Z" stroke="#1515ff" stroke-width="1.25" fill="none"/>
<path d="M508.81,675.06 L513.81,675.06 L511.31,679.31 Z" stroke="#1515ff" stroke-width="1.25" fill="none"/>
<path d="M519.88,679.45 L524.88,679.45 L522.38,683.7 Z" stroke="#1515ff" stroke-width="1.25" fill="none"/>
<path d="M530.94,684.06 L535.94,684.06 L533.44,688.31 Z" stroke="#1515ff" stroke-width="1.25" fill="none"/>
<path d="M542.01,687.7 L547.01,687.7 L544.51,691.95 Z" stroke="#1515ff" stroke-width="1.25" fill="none"/>
<path d="M553.07,691.35 L558.07,691.35 L555.57,695.6 Z" stroke="#1515ff" stroke-width="1.25" fill="none"/>
<path d="M564.14,694.78 L569.14,694.78 L566.64,699.03 Z" stroke="#1515ff" stroke-width="1.25" fill="none"/>
<path d="M575.2,697.3 L580.2,697.3 L577.7,701.55 Z" stroke="#1515ff" stroke-width="1.25" fill="none"/>
<path d="M586.27,698.96 L591.27,698.96 L588.77,703.21 Z" stroke="#1515ff" stroke-width="1.25" fill="none"/>
<path d="M597.33,700.21 L602.33,700.21 L599.83,704.46 Z" stroke="#1515ff" stroke-width="1.25" fill="none"/>
<path d="M608.4,702.33 L613.4,702.33 L610.9,706.58 Z" stroke="#1515ff" stroke-width="1.25" fill="none"/>
<text x="55.6" y="500" font-size="18" font-weight="normal" text-anchor="end" textLength="26.3" lengthAdjust="spacingAndGlyphs" fill="#000" stroke="#000" stroke-width="0.3">100</text>
<text x="55.5" y="664.2" font-size="18" font-weight="normal" text-anchor="end" textLength="16.8" lengthAdjust="spacingAndGlyphs" fill="#000" stroke="#000" stroke-width="0.3">10</text>
<text x="54.2" y="827.6" font-size="18" font-weight="normal" text-anchor="end" textLength="6.8" lengthAdjust="spacingAndGlyphs" fill="#000" stroke="#000" stroke-width="0.3">1</text>
<text x="624.3" y="799.5" font-size="18" font-weight="bold" text-anchor="start" textLength="8.8" lengthAdjust="spacingAndGlyphs" fill="#111" >0</text>
<text x="624.3" y="750.57" font-size="18" font-weight="bold" text-anchor="start" textLength="17.5" lengthAdjust="spacingAndGlyphs" fill="#111" >10</text>
<text x="624.3" y="701.64" font-size="18" font-weight="bold" text-anchor="start" textLength="17.5" lengthAdjust="spacingAndGlyphs" fill="#111" >20</text>
<text x="624.3" y="652.71" font-size="18" font-weight="bold" text-anchor="start" textLength="17.5" lengthAdjust="spacingAndGlyphs" fill="#111" >30</text>
<text x="624.3" y="603.78" font-size="18" font-weight="bold" text-anchor="start" textLength="17.5" lengthAdjust="spacingAndGlyphs" fill="#111" >40</text>
<text x="624.3" y="554.85" font-size="18" font-weight="bold" text-anchor="start" textLength="17.5" lengthAdjust="spacingAndGlyphs" fill="#111" >50</text>
<text x="624.3" y="505.92" font-size="18" font-weight="bold" text-anchor="start" textLength="17.5" lengthAdjust="spacingAndGlyphs" fill="#111" >60</text>
<text transform="translate(65.5,844.4) scale(1.45,1)" x="0" y="0" font-size="13.3" font-weight="bold" text-anchor="middle" textLength="25.93" lengthAdjust="spacing" fill="#1a1a1a">0.01</text>
<text transform="translate(146,844.4) scale(1.45,1)" x="0" y="0" font-size="13.3" font-weight="bold" text-anchor="middle" textLength="16.14" lengthAdjust="spacing" fill="#1a1a1a">0.1</text>
<text transform="translate(221.3,844.4) scale(1.45,1)" x="0" y="0" font-size="13.3" font-weight="bold" text-anchor="middle" fill="#1a1a1a">1</text>
<text transform="translate(301.5,844.4) scale(1.45,1)" x="0" y="0" font-size="13.3" font-weight="bold" text-anchor="middle" textLength="14.34" lengthAdjust="spacing" fill="#1a1a1a">10</text>
<text transform="translate(378.5,844.4) scale(1.45,1)" x="0" y="0" font-size="13.3" font-weight="bold" text-anchor="middle" textLength="22.69" lengthAdjust="spacing" fill="#1a1a1a">100</text>
<text transform="translate(459.2,844.4) scale(1.45,1)" x="0" y="0" font-size="13.3" font-weight="bold" text-anchor="middle" textLength="28.14" lengthAdjust="spacing" fill="#1a1a1a">1000</text>
<text transform="translate(534.9,844.4) scale(1.45,1)" x="0" y="0" font-size="13.3" font-weight="bold" text-anchor="middle" textLength="35.72" lengthAdjust="spacing" fill="#1a1a1a">10000</text>
<text transform="translate(613,844.4) scale(1.45,1)" x="0" y="0" font-size="13.3" font-weight="bold" text-anchor="middle" textLength="34.55" lengthAdjust="spacing" fill="#1a1a1a">1E+5</text>
<text x="308.9" y="868" font-size="13" font-weight="bold" text-anchor="middle" textLength="87.2" lengthAdjust="spacingAndGlyphs" fill="#111" >Frequency (Hz)</text>
<text x="321.6" y="486.6" font-size="18" font-weight="bold" text-anchor="middle" textLength="23" lengthAdjust="spacingAndGlyphs" fill="#111" >(b)</text>
<text transform="translate(22.3,638) rotate(-90)" font-size="15.5" font-weight="bold" text-anchor="middle" textLength="80.5" lengthAdjust="spacingAndGlyphs" fill="#111">Z / (Ω cm<tspan font-size="10" dy="-6">2</tspan><tspan dy="6">)</tspan></text>
<text transform="translate(659.8,644.6) rotate(-90)" font-size="17" font-weight="bold" text-anchor="middle" textLength="71" lengthAdjust="spacingAndGlyphs" fill="#111">-Phase (°)</text>
<rect x="272.1" y="710.6" width="4" height="4" fill="#111"/>
<text x="286.7" y="719.1" font-size="17" font-weight="bold" text-anchor="start" textLength="64.8" lengthAdjust="spacingAndGlyphs" fill="#111" >1 M HCl</text>
<rect x="271.4" y="728.6" width="5.4" height="5.4" fill="#ff0a84"/>
<text x="286.7" y="737.8" font-size="17" font-weight="bold" text-anchor="start" textLength="115" lengthAdjust="spacingAndGlyphs" fill="#111" >10 ppm NaBenz</text>
<path d="M271.8,748.1 L276.4,752.7 M271.8,752.7 L276.4,748.1" stroke="#ff2a2a" stroke-width="1" fill="none"/>
<text x="286.7" y="756.9" font-size="17" font-weight="bold" text-anchor="start" textLength="61.8" lengthAdjust="spacingAndGlyphs" fill="#111" >100 ppm</text>
<path d="M271.7,769.9 L276.5,769.9 M274.1,767.5 L274.1,772.3" stroke="#1f8a1f" stroke-width="1.4" fill="none"/>
<text x="286.7" y="776.4" font-size="17" font-weight="bold" text-anchor="start" textLength="62.3" lengthAdjust="spacingAndGlyphs" fill="#111" >300 ppm</text>
<path d="M271.8,791.2 L276.4,791.2 L274.1,787.2 Z" stroke="#1515ff" stroke-width="1.1" fill="none"/>
<text x="286.7" y="795.9" font-size="17" font-weight="bold" text-anchor="start" textLength="62.3" lengthAdjust="spacingAndGlyphs" fill="#111" >400 ppm</text>
<circle cx="273.5" cy="808.9" r="2" stroke="#8a8a10" stroke-width="1.1" fill="none"/>
<text x="286.7" y="815.4" font-size="17" font-weight="bold" text-anchor="start" textLength="61.8" lengthAdjust="spacingAndGlyphs" fill="#111" >500 ppm</text>
</g></svg>
</body></html>
